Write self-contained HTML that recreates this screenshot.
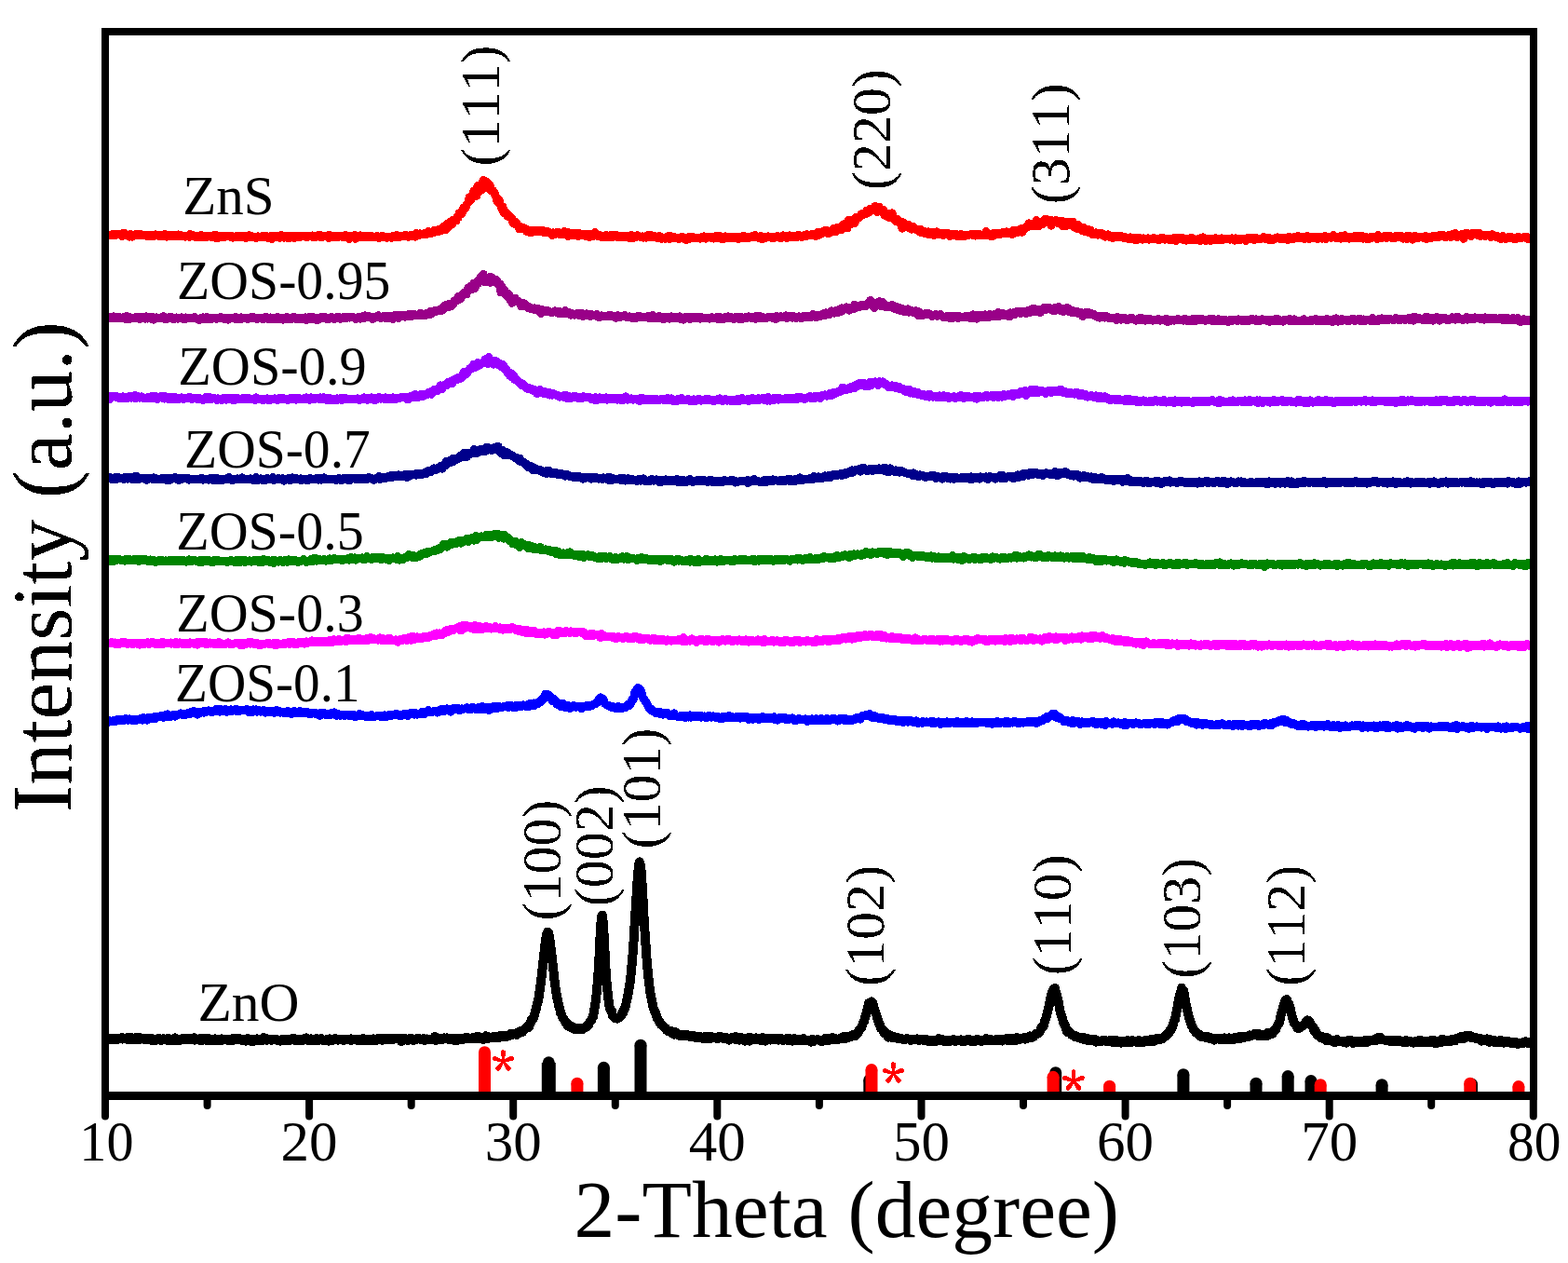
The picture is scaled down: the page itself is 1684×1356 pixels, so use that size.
<!DOCTYPE html>
<html><head><meta charset="utf-8"><title>XRD</title>
<style>html,body{margin:0;padding:0;background:#fff;overflow:hidden}svg{display:block}text{font-kerning:none}</style></head>
<body><svg width="1684" height="1356" viewBox="0 0 1684 1356" font-family="'Liberation Serif','Times New Roman',serif">
<rect width="1684" height="1356" fill="#fff"/>
<defs><filter id="bin" x="0" y="0" width="1684" height="1356" filterUnits="userSpaceOnUse" color-interpolation-filters="sRGB"><feComponentTransfer><feFuncA type="discrete" tableValues="0 1"/></feComponentTransfer></filter><clipPath id="pa"><rect x="113" y="34" width="1533.8" height="1142"/></clipPath></defs>
<g shape-rendering="crispEdges" clip-path="url(#pa)">
<polyline fill="none" stroke="#ff0000" stroke-width="9" stroke-linejoin="round" points="109,252.1 110,252.6 111,252.2 112,250.7 113,252.7 114,252.3 115,251.5 116,252.5 117,252.3 118,252.3 119,252.0 120,252.5 121,251.4 122,251.9 123,251.7 124,252.6 125,252.2 126,251.9 127,251.5 128,252.0 129,252.2 130,252.6 131,253.4 132,253.1 133,250.0 134,250.7 135,252.2 136,252.0 137,252.6 138,252.6 139,254.2 140,251.5 141,252.1 142,254.2 143,253.0 144,253.1 145,252.1 146,251.2 147,252.7 148,252.7 149,251.6 150,252.0 151,252.6 152,251.9 153,252.6 154,252.8 155,252.7 156,252.3 157,253.2 158,253.5 159,253.0 160,252.1 161,253.4 162,252.4 163,253.6 164,252.0 165,253.6 166,252.9 167,251.9 168,252.7 169,253.0 170,253.2 171,252.2 172,252.1 173,253.2 174,252.6 175,253.2 176,253.7 177,251.7 178,253.3 179,254.1 180,252.9 181,252.5 182,253.8 183,253.4 184,253.9 185,252.9 186,252.0 187,253.1 188,252.9 189,253.9 190,253.4 191,252.0 192,252.3 193,254.0 194,253.9 195,252.8 196,253.3 197,253.7 198,253.7 199,254.1 200,253.6 201,253.3 202,253.2 203,254.3 204,251.7 205,253.4 206,253.5 207,252.4 208,253.8 209,253.0 210,254.2 211,253.5 212,254.1 213,254.5 214,253.9 215,252.9 216,252.5 217,255.0 218,253.6 219,253.1 220,253.8 221,253.5 222,254.4 223,253.7 224,253.0 225,253.2 226,254.1 227,253.0 228,253.0 229,255.0 230,252.7 231,252.0 232,254.3 233,255.8 234,253.1 235,253.0 236,254.3 237,253.3 238,253.6 239,253.7 240,254.4 241,253.7 242,254.2 243,253.9 244,253.4 245,253.8 246,253.8 247,254.1 248,253.2 249,253.3 250,255.1 251,254.1 252,254.1 253,254.5 254,253.3 255,254.0 256,254.5 257,254.4 258,253.3 259,254.8 260,253.8 261,253.5 262,254.2 263,254.0 264,255.4 265,253.4 266,254.4 267,252.7 268,254.3 269,254.9 270,254.1 271,253.9 272,254.5 273,254.8 274,254.8 275,255.7 276,254.5 277,253.9 278,254.3 279,254.3 280,254.4 281,254.3 282,254.5 283,253.2 284,255.0 285,254.0 286,253.6 287,254.8 288,255.3 289,254.7 290,254.5 291,253.7 292,256.4 293,255.0 294,253.6 295,253.9 296,254.5 297,253.3 298,254.5 299,254.1 300,255.3 301,255.1 302,252.5 303,254.4 304,253.2 305,255.1 306,254.5 307,254.7 308,253.6 309,255.6 310,255.8 311,253.6 312,254.6 313,253.8 314,254.3 315,253.4 316,255.6 317,253.6 318,254.0 319,254.6 320,253.8 321,254.1 322,253.8 323,254.1 324,253.3 325,253.9 326,254.0 327,253.9 328,254.2 329,253.9 330,254.7 331,253.9 332,253.7 333,253.6 334,253.7 335,253.1 336,254.4 337,253.2 338,253.5 339,254.3 340,254.3 341,253.7 342,252.5 343,254.3 344,254.2 345,252.9 346,254.5 347,253.4 348,253.1 349,254.0 350,253.8 351,254.1 352,252.7 353,255.3 354,253.5 355,252.8 356,254.4 357,253.6 358,254.1 359,253.6 360,254.9 361,254.1 362,253.3 363,254.4 364,253.6 365,253.3 366,254.0 367,254.2 368,253.8 369,253.3 370,254.4 371,252.6 372,253.2 373,254.0 374,253.0 375,256.6 376,253.9 377,254.7 378,253.3 379,253.6 380,254.3 381,252.2 382,256.3 383,253.5 384,253.5 385,254.7 386,254.1 387,252.8 388,254.6 389,254.7 390,253.8 391,253.9 392,254.5 393,253.5 394,254.5 395,254.3 396,253.7 397,253.2 398,254.0 399,253.6 400,254.9 401,254.3 402,254.8 403,254.3 404,254.4 405,253.7 406,254.7 407,255.5 408,254.1 409,253.9 410,254.2 411,254.0 412,253.8 413,254.4 414,254.1 415,255.3 416,254.3 417,254.5 418,255.0 419,254.1 420,255.3 421,253.8 422,253.6 423,253.9 424,254.1 425,253.1 426,254.0 427,252.8 428,255.0 429,253.9 430,253.4 431,253.1 432,253.5 433,253.5 434,252.8 435,252.9 436,253.4 437,253.0 438,254.1 439,254.2 440,253.2 441,253.5 442,252.0 443,253.5 444,252.9 445,253.2 446,254.1 447,250.7 448,252.7 449,251.4 450,252.7 451,250.9 452,251.4 453,251.8 454,252.0 455,251.3 456,250.2 457,250.2 458,251.4 459,250.3 460,248.4 461,250.8 462,250.1 463,250.4 464,248.8 465,249.9 466,247.5 467,249.1 468,247.7 469,248.7 470,248.8 471,246.4 472,246.9 473,246.7 474,247.7 475,246.6 476,243.6 477,245.2 478,245.0 479,246.4 480,240.3 481,241.3 482,243.4 483,238.5 484,237.9 485,239.8 486,240.6 487,236.1 488,237.2 489,235.5 490,237.0 491,233.1 492,233.8 493,229.0 494,229.1 495,228.1 496,229.3 497,226.9 498,222.8 499,224.6 500,223.5 501,220.2 502,218.4 503,217.2 504,212.2 505,215.2 506,213.7 507,209.4 508,211.9 509,204.9 510,205.7 511,204.7 512,210.3 513,199.7 514,204.6 515,204.8 516,202.5 517,204.0 518,197.4 519,193.4 520,201.7 521,195.9 522,198.1 523,195.6 524,202.0 525,202.0 526,198.5 527,204.3 528,203.5 529,204.3 530,206.3 531,207.0 532,210.7 533,211.5 534,216.2 535,216.8 536,214.7 537,218.6 538,220.6 539,224.6 540,221.9 541,228.5 542,226.9 543,227.8 544,228.4 545,232.2 546,232.4 547,231.4 548,232.5 549,234.5 550,235.2 551,239.0 552,240.3 553,240.2 554,238.5 555,239.8 556,241.4 557,243.4 558,246.0 559,244.9 560,244.0 561,245.0 562,244.8 563,244.8 564,245.8 565,246.6 566,248.8 567,246.8 568,248.6 569,249.3 570,247.3 571,249.4 572,248.5 573,247.3 574,248.2 575,248.1 576,247.9 577,248.1 578,248.6 579,247.5 580,247.6 581,248.7 582,247.1 583,249.2 584,249.7 585,249.3 586,249.5 587,249.9 588,248.6 589,249.2 590,250.1 591,250.7 592,250.1 593,252.6 594,249.8 595,251.1 596,251.4 597,250.0 598,249.4 599,249.1 600,250.6 601,251.7 602,250.9 603,250.8 604,250.3 605,251.4 606,248.7 607,251.2 608,251.1 609,249.7 610,253.4 611,249.9 612,250.3 613,250.2 614,252.6 615,250.7 616,252.3 617,252.2 618,252.0 619,250.5 620,251.3 621,253.5 622,250.7 623,251.2 624,251.9 625,252.9 626,252.4 627,253.0 628,251.3 629,253.3 630,253.0 631,251.4 632,254.0 633,254.7 634,251.9 635,252.7 636,254.0 637,251.4 638,251.0 639,249.5 640,252.4 641,252.4 642,253.5 643,253.3 644,252.5 645,253.6 646,254.8 647,254.3 648,254.1 649,253.3 650,254.2 651,252.5 652,254.1 653,253.4 654,254.4 655,253.9 656,252.6 657,253.7 658,254.6 659,252.7 660,253.2 661,253.0 662,252.5 663,254.6 664,254.9 665,254.5 666,254.0 667,253.8 668,254.1 669,253.3 670,254.7 671,254.8 672,254.7 673,253.6 674,254.1 675,253.9 676,255.5 677,254.2 678,252.6 679,254.5 680,255.7 681,254.8 682,254.9 683,254.3 684,252.7 685,252.9 686,253.3 687,254.2 688,254.6 689,254.9 690,254.1 691,255.2 692,254.2 693,253.9 694,255.2 695,253.8 696,252.4 697,253.8 698,254.7 699,252.3 700,254.4 701,254.4 702,253.6 703,253.6 704,254.4 705,254.3 706,255.7 707,255.1 708,253.6 709,254.2 710,255.4 711,256.3 712,255.2 713,255.2 714,256.3 715,254.9 716,254.7 717,254.0 718,253.3 719,256.6 720,253.5 721,255.1 722,254.1 723,255.2 724,255.8 725,255.0 726,255.7 727,255.7 728,255.5 729,256.4 730,255.8 731,255.0 732,254.7 733,254.6 734,255.6 735,255.0 736,257.2 737,257.6 738,255.1 739,255.1 740,256.5 741,254.0 742,255.0 743,256.0 744,254.7 745,255.0 746,255.1 747,255.8 748,255.5 749,255.7 750,255.8 751,255.4 752,256.2 753,254.9 754,254.4 755,254.2 756,253.9 757,255.0 758,256.1 759,255.5 760,255.0 761,254.6 762,255.0 763,255.1 764,255.0 765,254.4 766,255.1 767,256.1 768,253.9 769,255.2 770,253.9 771,255.5 772,254.8 773,253.4 774,255.4 775,256.6 776,255.4 777,256.2 778,255.3 779,253.8 780,255.7 781,255.0 782,254.3 783,255.9 784,255.5 785,254.9 786,255.9 787,254.7 788,255.7 789,254.6 790,255.6 791,254.5 792,256.3 793,255.4 794,256.2 795,254.6 796,254.9 797,255.8 798,253.2 799,254.4 800,255.9 801,255.5 802,255.8 803,254.9 804,255.5 805,254.6 806,254.1 807,253.8 808,254.6 809,254.7 810,254.6 811,252.4 812,253.5 813,254.6 814,255.2 815,254.5 816,254.3 817,253.2 818,256.4 819,254.1 820,256.1 821,256.0 822,255.0 823,254.4 824,254.9 825,253.9 826,254.9 827,254.7 828,255.1 829,255.4 830,256.0 831,254.4 832,254.5 833,254.0 834,253.9 835,254.1 836,253.8 837,255.3 838,255.2 839,255.5 840,254.4 841,252.9 842,253.9 843,253.5 844,254.7 845,255.6 846,253.4 847,254.7 848,252.9 849,254.1 850,253.7 851,253.7 852,253.3 853,254.9 854,254.5 855,255.0 856,254.0 857,252.8 858,253.5 859,252.7 860,254.0 861,254.6 862,253.7 863,252.8 864,252.9 865,253.3 866,251.7 867,253.1 868,253.0 869,252.2 870,252.2 871,252.6 872,251.5 873,251.4 874,252.8 875,252.1 876,253.4 877,250.6 878,249.6 879,252.2 880,252.1 881,250.1 882,249.2 883,250.5 884,248.2 885,249.8 886,247.6 887,249.5 888,247.2 889,249.1 890,250.8 891,248.5 892,249.4 893,247.4 894,247.4 895,245.6 896,248.4 897,246.7 898,248.5 899,244.4 900,245.3 901,245.2 902,246.7 903,246.8 904,242.9 905,241.8 906,240.7 907,244.5 908,242.0 909,240.6 910,244.9 911,236.6 912,237.3 913,240.9 914,239.5 915,238.5 916,235.9 917,237.9 918,239.4 919,233.4 920,235.0 921,233.5 922,234.3 923,233.0 924,232.0 925,230.0 926,231.0 927,229.2 928,229.4 929,228.8 930,229.5 931,226.1 932,225.9 933,228.1 934,224.7 935,224.0 936,226.0 937,224.5 938,224.0 939,224.3 940,221.3 941,225.2 942,227.3 943,226.1 944,222.0 945,226.3 946,224.4 947,226.3 948,227.6 949,225.5 950,231.2 951,229.0 952,231.2 953,231.4 954,233.3 955,233.5 956,229.0 957,232.4 958,228.9 959,232.6 960,235.3 961,236.2 962,237.4 963,235.1 964,236.9 965,237.1 966,239.6 967,240.6 968,238.0 969,245.1 970,239.6 971,239.6 972,241.6 973,242.3 974,242.5 975,241.2 976,244.8 977,243.3 978,245.8 979,246.1 980,243.0 981,243.9 982,244.3 983,246.3 984,246.5 985,247.1 986,246.2 987,247.9 988,249.3 989,246.5 990,248.0 991,248.7 992,248.5 993,248.6 994,250.9 995,250.5 996,250.2 997,248.8 998,251.9 999,250.2 1000,249.5 1001,249.9 1002,249.9 1003,252.4 1004,250.8 1005,250.8 1006,248.9 1007,251.6 1008,250.1 1009,250.1 1010,251.8 1011,250.6 1012,252.1 1013,252.4 1014,250.1 1015,251.5 1016,250.4 1017,251.7 1018,251.5 1019,250.8 1020,253.4 1021,251.8 1022,251.2 1023,252.1 1024,252.8 1025,251.2 1026,252.3 1027,251.4 1028,253.3 1029,252.6 1030,252.2 1031,253.3 1032,251.6 1033,252.3 1034,254.0 1035,252.5 1036,253.6 1037,252.7 1038,252.0 1039,252.4 1040,252.6 1041,252.2 1042,251.9 1043,251.9 1044,251.3 1045,252.5 1046,252.7 1047,253.0 1048,251.0 1049,253.0 1050,252.3 1051,251.1 1052,252.3 1053,252.9 1054,252.6 1055,252.7 1056,252.9 1057,252.8 1058,252.0 1059,248.4 1060,251.3 1061,252.2 1062,251.4 1063,251.4 1064,253.3 1065,251.7 1066,253.3 1067,250.7 1068,252.3 1069,251.0 1070,250.7 1071,251.9 1072,250.7 1073,252.0 1074,250.0 1075,251.0 1076,250.0 1077,250.5 1078,250.3 1079,249.4 1080,251.0 1081,248.9 1082,249.1 1083,250.9 1084,250.8 1085,250.3 1086,249.8 1087,251.7 1088,247.7 1089,248.0 1090,247.5 1091,249.5 1092,248.6 1093,249.3 1094,249.0 1095,247.2 1096,246.2 1097,245.6 1098,249.3 1099,247.3 1100,246.4 1101,244.7 1102,244.4 1103,243.8 1104,243.3 1105,239.9 1106,242.8 1107,241.9 1108,242.6 1109,242.1 1110,242.8 1111,241.1 1112,242.2 1113,236.6 1114,238.7 1115,243.0 1116,238.0 1117,239.3 1118,240.7 1119,237.8 1120,240.3 1121,236.5 1122,235.5 1123,236.3 1124,235.5 1125,238.2 1126,237.5 1127,238.5 1128,236.0 1129,242.1 1130,237.5 1131,237.5 1132,238.4 1133,237.2 1134,236.5 1135,237.9 1136,239.4 1137,239.2 1138,239.8 1139,237.5 1140,237.4 1141,242.4 1142,238.9 1143,240.4 1144,241.1 1145,242.6 1146,238.3 1147,240.1 1148,240.5 1149,241.1 1150,238.1 1151,242.0 1152,238.0 1153,243.3 1154,244.0 1155,244.5 1156,242.2 1157,245.8 1158,241.4 1159,244.4 1160,244.2 1161,244.8 1162,246.6 1163,247.9 1164,244.3 1165,246.7 1166,248.9 1167,248.2 1168,248.9 1169,246.6 1170,250.0 1171,247.1 1172,249.5 1173,251.2 1174,252.0 1175,251.4 1176,251.3 1177,249.8 1178,250.1 1179,252.2 1180,251.1 1181,251.2 1182,250.0 1183,251.9 1184,252.6 1185,251.3 1186,251.8 1187,254.1 1188,252.9 1189,252.6 1190,251.9 1191,252.6 1192,253.1 1193,254.8 1194,253.0 1195,255.5 1196,253.0 1197,253.6 1198,254.9 1199,254.0 1200,253.6 1201,254.3 1202,254.9 1203,253.1 1204,254.5 1205,254.7 1206,254.6 1207,255.7 1208,254.6 1209,254.9 1210,255.3 1211,256.0 1212,255.3 1213,256.8 1214,254.9 1215,256.7 1216,255.1 1217,255.7 1218,256.2 1219,257.6 1220,256.7 1221,255.7 1222,257.1 1223,256.0 1224,255.6 1225,256.5 1226,256.3 1227,257.0 1228,255.8 1229,256.6 1230,256.8 1231,256.5 1232,256.3 1233,255.8 1234,257.0 1235,256.5 1236,256.8 1237,256.1 1238,256.4 1239,255.7 1240,256.5 1241,257.0 1242,256.5 1243,257.1 1244,256.7 1245,257.5 1246,256.9 1247,255.3 1248,256.9 1249,256.4 1250,255.9 1251,257.1 1252,256.8 1253,256.9 1254,256.4 1255,256.8 1256,256.8 1257,257.9 1258,256.2 1259,256.7 1260,257.0 1261,255.5 1262,255.6 1263,258.3 1264,255.5 1265,257.2 1266,256.1 1267,256.2 1268,255.4 1269,256.1 1270,257.3 1271,255.8 1272,257.2 1273,257.0 1274,258.2 1275,256.5 1276,257.7 1277,257.5 1278,256.6 1279,255.7 1280,257.9 1281,255.9 1282,256.5 1283,257.5 1284,257.6 1285,257.4 1286,256.9 1287,256.7 1288,257.7 1289,258.6 1290,255.6 1291,257.5 1292,254.9 1293,256.9 1294,256.1 1295,258.3 1296,257.6 1297,256.4 1298,256.5 1299,256.5 1300,258.5 1301,256.8 1302,257.4 1303,258.0 1304,257.4 1305,256.0 1306,255.8 1307,257.3 1308,257.6 1309,256.6 1310,256.4 1311,257.0 1312,255.9 1313,256.0 1314,257.2 1315,256.6 1316,256.5 1317,257.0 1318,256.4 1319,256.3 1320,256.5 1321,257.2 1322,256.8 1323,255.9 1324,256.5 1325,257.2 1326,258.1 1327,255.9 1328,256.9 1329,256.4 1330,257.2 1331,257.0 1332,257.7 1333,257.0 1334,256.2 1335,256.2 1336,256.8 1337,256.8 1338,258.3 1339,257.7 1340,255.6 1341,256.7 1342,255.4 1343,255.2 1344,256.9 1345,256.8 1346,255.6 1347,257.6 1348,255.6 1349,255.4 1350,256.8 1351,256.4 1352,256.1 1353,256.1 1354,256.3 1355,256.0 1356,256.1 1357,254.6 1358,255.0 1359,256.5 1360,255.5 1361,256.4 1362,257.0 1363,255.7 1364,256.2 1365,257.6 1366,256.3 1367,257.3 1368,257.1 1369,256.4 1370,255.7 1371,255.1 1372,254.9 1373,256.1 1374,256.1 1375,255.6 1376,256.4 1377,255.2 1378,256.5 1379,255.6 1380,255.6 1381,255.6 1382,255.5 1383,257.6 1384,254.2 1385,255.6 1386,256.5 1387,256.0 1388,255.5 1389,256.8 1390,254.5 1391,254.3 1392,255.8 1393,254.1 1394,253.3 1395,256.0 1396,255.9 1397,255.9 1398,254.8 1399,255.4 1400,254.4 1401,256.6 1402,255.8 1403,255.8 1404,253.5 1405,255.8 1406,256.4 1407,256.1 1408,254.0 1409,255.0 1410,254.7 1411,255.5 1412,255.3 1413,255.2 1414,254.7 1415,256.4 1416,254.0 1417,254.9 1418,254.4 1419,255.8 1420,256.1 1421,256.0 1422,255.6 1423,253.7 1424,256.7 1425,255.3 1426,254.8 1427,254.9 1428,254.6 1429,255.2 1430,255.1 1431,254.5 1432,252.6 1433,254.8 1434,255.2 1435,255.3 1436,254.7 1437,255.2 1438,255.7 1439,254.4 1440,256.1 1441,253.1 1442,253.7 1443,254.0 1444,252.7 1445,253.9 1446,255.8 1447,255.8 1448,254.9 1449,256.2 1450,255.0 1451,254.3 1452,255.0 1453,254.6 1454,255.4 1455,253.5 1456,255.6 1457,254.4 1458,255.5 1459,253.4 1460,254.4 1461,254.8 1462,255.5 1463,253.7 1464,256.1 1465,255.1 1466,254.3 1467,256.2 1468,254.8 1469,255.7 1470,256.7 1471,255.4 1472,254.3 1473,254.4 1474,255.2 1475,254.9 1476,254.0 1477,254.1 1478,255.2 1479,256.6 1480,252.5 1481,255.3 1482,254.5 1483,255.3 1484,255.4 1485,254.7 1486,253.8 1487,253.5 1488,253.2 1489,255.7 1490,254.5 1491,254.2 1492,254.6 1493,253.6 1494,254.9 1495,255.7 1496,255.6 1497,255.0 1498,255.8 1499,254.0 1500,253.1 1501,253.6 1502,253.8 1503,254.6 1504,253.8 1505,253.4 1506,254.4 1507,256.2 1508,254.0 1509,255.0 1510,254.7 1511,256.8 1512,253.0 1513,255.5 1514,253.5 1515,254.1 1516,254.5 1517,257.1 1518,253.9 1519,253.4 1520,255.6 1521,253.9 1522,255.8 1523,254.5 1524,254.6 1525,254.4 1526,254.7 1527,254.2 1528,255.2 1529,254.1 1530,253.9 1531,253.6 1532,256.4 1533,254.4 1534,254.9 1535,254.9 1536,255.8 1537,254.6 1538,255.0 1539,253.4 1540,253.5 1541,254.1 1542,253.4 1543,254.9 1544,253.2 1545,254.3 1546,252.2 1547,253.2 1548,253.8 1549,253.8 1550,252.4 1551,254.0 1552,254.6 1553,254.3 1554,253.1 1555,253.0 1556,252.4 1557,253.9 1558,254.6 1559,252.7 1560,251.5 1561,253.2 1562,253.6 1563,250.3 1564,252.9 1565,254.7 1566,253.4 1567,253.0 1568,252.8 1569,253.4 1570,251.4 1571,251.4 1572,256.3 1573,251.4 1574,252.3 1575,250.1 1576,252.7 1577,252.8 1578,252.0 1579,252.1 1580,253.5 1581,250.8 1582,251.0 1583,250.8 1584,251.5 1585,251.0 1586,252.1 1587,251.5 1588,250.7 1589,250.7 1590,253.5 1591,252.3 1592,252.2 1593,252.6 1594,252.5 1595,253.4 1596,253.3 1597,252.3 1598,252.2 1599,252.1 1600,252.1 1601,254.6 1602,252.6 1603,251.7 1604,252.9 1605,253.0 1606,254.1 1607,253.1 1608,254.5 1609,254.4 1610,255.3 1611,256.1 1612,256.7 1613,255.6 1614,253.6 1615,254.3 1616,254.9 1617,256.4 1618,255.3 1619,255.8 1620,254.8 1621,255.4 1622,255.5 1623,254.7 1624,255.7 1625,256.2 1626,255.0 1627,255.9 1628,256.4 1629,254.7 1630,255.3 1631,255.1 1632,254.9 1633,255.5 1634,255.1 1635,255.2 1636,254.9 1637,254.4 1638,254.9 1639,255.8 1640,254.7 1641,255.1 1642,256.8 1643,256.4 1644,255.2 1645,256.1 1646,255.2 1647,256.8 1648,255.3 1649,255.8 1650,256.7"/>
<polyline fill="none" stroke="#990088" stroke-width="9" stroke-linejoin="round" points="109,340.9 110,340.4 111,340.5 112,338.9 113,342.2 114,341.7 115,340.6 116,341.4 117,341.1 118,340.4 119,341.6 120,340.7 121,340.7 122,339.8 123,341.3 124,340.9 125,341.4 126,340.5 127,341.1 128,340.3 129,341.6 130,342.0 131,341.3 132,341.3 133,340.3 134,342.1 135,342.6 136,339.8 137,339.8 138,340.0 139,342.5 140,341.2 141,341.9 142,341.7 143,341.3 144,341.4 145,341.0 146,341.8 147,340.3 148,340.9 149,341.4 150,342.5 151,340.7 152,340.4 153,340.8 154,342.0 155,341.1 156,342.2 157,339.9 158,342.1 159,342.1 160,340.3 161,341.4 162,342.2 163,341.4 164,340.5 165,343.1 166,341.5 167,341.1 168,340.8 169,341.8 170,341.2 171,341.3 172,341.3 173,341.9 174,340.6 175,340.3 176,339.7 177,342.3 178,341.5 179,342.5 180,341.4 181,340.9 182,341.8 183,341.4 184,340.6 185,340.8 186,342.8 187,341.7 188,341.8 189,341.3 190,341.0 191,342.2 192,341.4 193,341.0 194,341.4 195,340.9 196,341.7 197,342.4 198,341.0 199,342.6 200,341.1 201,341.7 202,341.0 203,341.4 204,341.6 205,341.3 206,341.1 207,341.1 208,341.0 209,340.5 210,341.4 211,341.9 212,342.3 213,342.1 214,343.4 215,341.9 216,341.3 217,343.0 218,340.9 219,342.3 220,341.0 221,341.9 222,340.3 223,342.3 224,341.6 225,341.0 226,342.9 227,342.2 228,341.7 229,341.2 230,341.7 231,341.6 232,342.2 233,342.3 234,341.2 235,341.3 236,341.3 237,340.7 238,341.3 239,341.6 240,342.2 241,342.6 242,341.1 243,342.1 244,341.4 245,343.2 246,341.7 247,342.1 248,341.1 249,341.2 250,341.9 251,341.5 252,342.0 253,340.6 254,342.2 255,341.1 256,343.0 257,341.5 258,342.5 259,340.8 260,342.1 261,341.1 262,341.4 263,341.8 264,341.5 265,341.9 266,342.3 267,342.2 268,341.7 269,340.8 270,341.2 271,341.6 272,340.3 273,341.8 274,341.6 275,341.6 276,342.4 277,342.2 278,341.9 279,341.1 280,342.0 281,342.0 282,341.2 283,342.5 284,342.1 285,340.4 286,341.9 287,340.9 288,342.6 289,342.4 290,341.0 291,341.3 292,341.9 293,341.6 294,342.9 295,342.5 296,341.6 297,342.2 298,340.4 299,342.0 300,342.4 301,341.7 302,341.3 303,342.2 304,343.2 305,341.9 306,341.0 307,342.8 308,340.5 309,342.1 310,341.4 311,342.4 312,341.2 313,342.7 314,342.1 315,340.6 316,340.4 317,341.6 318,342.7 319,341.9 320,341.8 321,341.6 322,342.3 323,342.1 324,342.0 325,341.1 326,342.6 327,342.8 328,340.9 329,343.4 330,342.3 331,341.5 332,340.5 333,342.3 334,342.2 335,341.4 336,340.5 337,342.6 338,341.4 339,341.5 340,343.8 341,343.3 342,342.5 343,341.5 344,342.3 345,340.2 346,341.9 347,341.3 348,340.9 349,340.7 350,342.1 351,341.8 352,341.9 353,342.3 354,341.1 355,340.8 356,340.4 357,341.5 358,342.2 359,341.6 360,342.1 361,340.8 362,341.3 363,341.0 364,340.7 365,342.3 366,342.2 367,341.0 368,340.9 369,341.4 370,340.4 371,341.7 372,340.5 373,341.1 374,340.6 375,341.0 376,341.0 377,340.1 378,340.5 379,340.7 380,341.0 381,341.2 382,342.3 383,341.7 384,340.9 385,341.6 386,340.5 387,342.1 388,341.4 389,339.9 390,342.0 391,341.5 392,338.8 393,340.2 394,340.4 395,339.2 396,339.9 397,339.9 398,341.2 399,340.8 400,342.6 401,340.2 402,341.4 403,340.5 404,340.6 405,339.4 406,338.8 407,339.7 408,340.9 409,341.5 410,340.7 411,340.5 412,339.4 413,341.3 414,341.1 415,339.6 416,341.1 417,339.1 418,341.1 419,340.2 420,339.7 421,340.1 422,342.4 423,339.3 424,338.6 425,338.5 426,338.1 427,339.9 428,341.4 429,338.0 430,339.5 431,339.7 432,338.4 433,339.4 434,338.2 435,340.2 436,338.5 437,339.1 438,339.5 439,338.5 440,337.2 441,338.2 442,339.3 443,338.5 444,338.7 445,337.4 446,338.5 447,338.9 448,338.2 449,338.4 450,338.7 451,336.7 452,336.2 453,338.7 454,337.3 455,338.2 456,337.5 457,338.5 458,338.0 459,336.1 460,336.6 461,337.2 462,334.6 463,337.2 464,336.7 465,334.3 466,334.6 467,334.9 468,333.1 469,334.1 470,333.1 471,333.6 472,332.6 473,333.1 474,333.8 475,330.4 476,332.7 477,328.7 478,327.9 479,330.0 480,329.7 481,329.8 482,326.4 483,328.0 484,327.6 485,328.6 486,326.0 487,326.1 488,323.0 489,323.3 490,321.9 491,322.7 492,319.0 493,318.2 494,319.6 495,320.7 496,317.4 497,316.3 498,314.3 499,316.1 500,314.3 501,315.8 502,312.4 503,309.1 504,309.1 505,307.5 506,310.3 507,310.5 508,308.9 509,304.0 510,309.5 511,305.7 512,302.6 513,304.8 514,303.1 515,300.9 516,297.7 517,301.2 518,301.2 519,294.3 520,300.8 521,303.0 522,298.2 523,299.5 524,298.8 525,297.8 526,299.2 527,303.3 528,297.7 529,301.8 530,302.3 531,300.9 532,302.1 533,300.7 534,302.4 535,304.9 536,306.4 537,304.8 538,313.9 539,307.8 540,310.4 541,311.0 542,311.9 543,316.3 544,314.3 545,318.7 546,319.4 547,316.7 548,322.5 549,319.1 550,325.3 551,321.0 552,320.8 553,320.0 554,321.7 555,323.4 556,323.4 557,323.7 558,325.0 559,326.2 560,329.0 561,325.1 562,327.1 563,327.0 564,326.7 565,327.4 566,328.3 567,330.7 568,329.9 569,329.8 570,331.5 571,331.4 572,331.0 573,332.0 574,330.8 575,332.8 576,332.8 577,332.0 578,331.2 579,334.5 580,333.1 581,336.6 582,332.6 583,334.4 584,333.1 585,334.0 586,334.8 587,333.1 588,334.0 589,334.5 590,334.5 591,335.2 592,335.7 593,335.6 594,335.2 595,334.6 596,333.9 597,334.4 598,334.7 599,336.1 600,335.1 601,334.3 602,336.3 603,335.0 604,335.1 605,335.7 606,336.5 607,333.7 608,335.1 609,336.5 610,336.1 611,335.7 612,336.1 613,338.1 614,336.4 615,337.6 616,337.7 617,338.2 618,337.6 619,336.8 620,336.7 621,336.4 622,338.3 623,337.2 624,337.2 625,336.7 626,339.5 627,338.6 628,337.9 629,337.4 630,336.8 631,338.5 632,338.6 633,337.1 634,339.5 635,339.2 636,337.8 637,338.2 638,338.4 639,338.9 640,338.7 641,337.5 642,340.2 643,339.3 644,340.2 645,340.2 646,339.0 647,339.6 648,339.9 649,340.0 650,339.3 651,339.0 652,339.5 653,338.9 654,339.1 655,338.0 656,339.7 657,338.9 658,339.3 659,339.7 660,340.1 661,341.3 662,340.0 663,338.7 664,340.0 665,339.5 666,340.3 667,339.4 668,339.4 669,339.6 670,339.6 671,338.6 672,339.6 673,340.1 674,341.1 675,340.0 676,339.9 677,340.7 678,340.7 679,341.5 680,340.8 681,340.3 682,341.4 683,341.5 684,340.0 685,340.0 686,339.2 687,340.2 688,339.8 689,340.3 690,340.2 691,340.4 692,340.5 693,341.0 694,340.8 695,340.2 696,339.7 697,341.6 698,341.7 699,340.4 700,341.1 701,338.4 702,339.6 703,340.6 704,341.9 705,340.0 706,340.2 707,342.0 708,339.5 709,341.3 710,341.2 711,340.8 712,341.1 713,342.8 714,340.1 715,340.7 716,341.1 717,340.5 718,340.0 719,342.2 720,341.2 721,339.8 722,340.6 723,341.4 724,341.4 725,340.1 726,341.0 727,341.3 728,341.4 729,341.4 730,339.9 731,342.5 732,341.3 733,342.5 734,343.2 735,341.1 736,340.3 737,341.8 738,341.1 739,340.9 740,340.5 741,342.4 742,340.9 743,340.3 744,340.9 745,340.5 746,341.4 747,341.0 748,340.5 749,341.7 750,340.8 751,341.8 752,342.2 753,341.0 754,340.8 755,341.4 756,341.9 757,341.3 758,341.4 759,341.3 760,341.5 761,341.7 762,342.1 763,341.0 764,341.3 765,340.8 766,341.4 767,341.7 768,341.3 769,340.9 770,340.7 771,342.5 772,341.9 773,340.5 774,340.7 775,342.6 776,342.3 777,341.4 778,342.1 779,340.2 780,341.3 781,341.8 782,339.9 783,340.7 784,341.8 785,342.0 786,340.8 787,341.4 788,342.4 789,341.0 790,340.3 791,341.2 792,340.9 793,342.1 794,341.3 795,340.6 796,342.9 797,340.8 798,341.5 799,341.6 800,341.7 801,340.7 802,341.6 803,341.1 804,340.1 805,341.0 806,341.0 807,341.0 808,341.2 809,340.6 810,342.0 811,342.2 812,339.5 813,341.1 814,340.5 815,339.2 816,341.3 817,340.6 818,340.7 819,340.5 820,341.8 821,341.9 822,341.2 823,341.5 824,340.9 825,341.0 826,340.4 827,340.9 828,340.4 829,341.2 830,341.5 831,341.1 832,341.7 833,342.8 834,339.3 835,340.8 836,340.4 837,340.5 838,339.8 839,340.8 840,340.6 841,340.3 842,340.5 843,340.3 844,338.9 845,341.5 846,340.4 847,339.9 848,340.9 849,340.1 850,339.0 851,341.2 852,339.3 853,340.4 854,340.6 855,341.5 856,341.3 857,340.5 858,339.8 859,340.0 860,341.4 861,341.6 862,340.6 863,339.6 864,340.9 865,339.7 866,339.6 867,339.6 868,340.3 869,339.9 870,340.4 871,340.6 872,339.9 873,337.5 874,337.9 875,339.4 876,339.1 877,340.8 878,338.8 879,338.6 880,339.4 881,339.4 882,338.0 883,338.5 884,336.8 885,336.8 886,338.7 887,335.9 888,338.0 889,337.5 890,337.4 891,337.3 892,336.8 893,333.8 894,334.7 895,334.9 896,336.2 897,333.8 898,334.0 899,334.1 900,335.7 901,332.4 902,332.3 903,334.3 904,330.9 905,333.5 906,332.3 907,330.8 908,331.9 909,329.8 910,332.1 911,332.1 912,333.2 913,331.1 914,331.0 915,329.8 916,330.2 917,331.3 918,327.2 919,330.3 920,328.4 921,329.0 922,329.1 923,329.6 924,328.6 925,327.5 926,328.3 927,327.8 928,327.3 929,327.7 930,328.5 931,327.4 932,327.3 933,325.1 934,326.6 935,322.3 936,327.6 937,325.1 938,328.2 939,330.6 940,325.7 941,328.1 942,326.8 943,325.4 944,323.7 945,327.1 946,328.4 947,327.1 948,324.7 949,325.6 950,327.0 951,329.4 952,328.2 953,328.6 954,330.0 955,328.4 956,328.9 957,329.1 958,327.3 959,330.5 960,330.7 961,331.6 962,329.1 963,329.9 964,332.3 965,331.8 966,333.3 967,330.8 968,332.4 969,331.6 970,334.1 971,332.3 972,333.7 973,334.6 974,334.4 975,331.8 976,335.1 977,334.8 978,333.4 979,333.7 980,334.9 981,335.6 982,334.8 983,333.7 984,335.9 985,335.9 986,338.4 987,334.8 988,338.7 989,338.1 990,336.9 991,338.4 992,337.1 993,338.0 994,336.6 995,337.5 996,336.7 997,336.3 998,337.7 999,337.5 1000,338.7 1001,339.4 1002,338.3 1003,338.6 1004,338.8 1005,337.4 1006,339.1 1007,339.0 1008,339.0 1009,338.3 1010,337.7 1011,339.1 1012,339.6 1013,340.5 1014,340.4 1015,340.7 1016,339.9 1017,340.6 1018,339.6 1019,340.3 1020,340.6 1021,342.0 1022,340.2 1023,339.1 1024,341.1 1025,339.6 1026,340.2 1027,340.0 1028,339.6 1029,341.3 1030,340.8 1031,339.9 1032,340.4 1033,340.1 1034,340.8 1035,340.1 1036,339.8 1037,339.9 1038,340.1 1039,340.6 1040,339.7 1041,340.2 1042,340.6 1043,342.0 1044,340.8 1045,337.9 1046,339.7 1047,339.7 1048,340.2 1049,342.2 1050,340.4 1051,338.0 1052,340.0 1053,338.4 1054,339.9 1055,340.6 1056,338.5 1057,340.3 1058,337.9 1059,339.2 1060,339.4 1061,341.0 1062,338.3 1063,337.4 1064,339.4 1065,338.1 1066,340.0 1067,337.9 1068,337.7 1069,339.5 1070,338.4 1071,339.1 1072,335.5 1073,339.6 1074,337.4 1075,338.6 1076,336.8 1077,336.2 1078,337.3 1079,337.6 1080,338.9 1081,337.6 1082,337.8 1083,337.7 1084,340.0 1085,335.9 1086,337.9 1087,336.4 1088,336.7 1089,335.7 1090,337.4 1091,334.7 1092,334.5 1093,335.5 1094,334.4 1095,336.3 1096,336.4 1097,334.4 1098,336.0 1099,334.3 1100,334.9 1101,334.8 1102,336.8 1103,334.6 1104,333.4 1105,333.3 1106,335.7 1107,332.2 1108,333.5 1109,333.5 1110,331.0 1111,333.3 1112,334.9 1113,333.9 1114,332.4 1115,334.3 1116,334.0 1117,335.7 1118,332.2 1119,332.6 1120,333.0 1121,330.5 1122,332.9 1123,332.6 1124,331.8 1125,330.5 1126,331.8 1127,330.6 1128,331.0 1129,331.6 1130,332.9 1131,333.3 1132,330.9 1133,332.6 1134,333.2 1135,332.1 1136,330.1 1137,329.5 1138,333.3 1139,333.6 1140,332.8 1141,331.2 1142,334.5 1143,334.3 1144,332.8 1145,332.7 1146,330.7 1147,334.3 1148,331.4 1149,334.5 1150,334.7 1151,334.0 1152,336.0 1153,333.9 1154,335.1 1155,335.5 1156,335.0 1157,334.4 1158,336.5 1159,335.7 1160,335.1 1161,335.4 1162,335.9 1163,339.7 1164,336.3 1165,336.1 1166,335.4 1167,335.5 1168,335.0 1169,337.6 1170,337.6 1171,336.7 1172,336.5 1173,338.0 1174,338.0 1175,337.4 1176,339.3 1177,339.3 1178,339.3 1179,340.3 1180,339.1 1181,341.2 1182,339.1 1183,340.7 1184,341.0 1185,340.3 1186,340.9 1187,339.5 1188,339.4 1189,340.7 1190,340.3 1191,341.6 1192,341.2 1193,341.8 1194,341.6 1195,341.6 1196,341.5 1197,341.2 1198,341.2 1199,343.4 1200,340.3 1201,341.7 1202,342.8 1203,342.4 1204,343.2 1205,342.6 1206,341.2 1207,342.0 1208,341.2 1209,343.2 1210,343.6 1211,342.2 1212,343.0 1213,342.3 1214,341.6 1215,342.4 1216,341.6 1217,342.4 1218,343.1 1219,343.5 1220,344.0 1221,342.8 1222,343.3 1223,343.5 1224,343.6 1225,341.1 1226,342.7 1227,343.9 1228,342.5 1229,343.6 1230,344.0 1231,342.0 1232,343.3 1233,343.6 1234,343.5 1235,342.4 1236,343.8 1237,343.1 1238,344.1 1239,343.9 1240,343.8 1241,343.7 1242,343.1 1243,343.1 1244,342.4 1245,343.4 1246,344.2 1247,343.7 1248,343.6 1249,343.1 1250,343.2 1251,344.1 1252,342.5 1253,345.1 1254,342.8 1255,345.2 1256,344.5 1257,343.3 1258,344.2 1259,343.8 1260,344.0 1261,344.2 1262,343.2 1263,343.2 1264,343.3 1265,342.7 1266,343.5 1267,343.8 1268,343.8 1269,343.8 1270,343.4 1271,344.2 1272,342.2 1273,343.4 1274,343.4 1275,344.3 1276,344.2 1277,344.3 1278,343.7 1279,344.4 1280,343.0 1281,343.7 1282,342.2 1283,344.9 1284,344.8 1285,343.3 1286,343.0 1287,342.2 1288,342.6 1289,343.8 1290,343.6 1291,342.7 1292,343.4 1293,343.3 1294,344.1 1295,344.2 1296,343.6 1297,343.8 1298,343.7 1299,342.3 1300,343.9 1301,343.7 1302,344.3 1303,342.5 1304,344.3 1305,343.3 1306,344.0 1307,344.6 1308,342.7 1309,342.9 1310,344.5 1311,343.0 1312,343.1 1313,344.2 1314,343.7 1315,344.4 1316,344.0 1317,343.8 1318,344.5 1319,345.4 1320,343.7 1321,344.9 1322,344.6 1323,343.9 1324,344.1 1325,343.2 1326,343.4 1327,344.0 1328,343.8 1329,344.8 1330,342.9 1331,343.6 1332,343.4 1333,343.7 1334,344.7 1335,343.0 1336,344.4 1337,343.4 1338,343.6 1339,344.6 1340,343.7 1341,344.3 1342,343.9 1343,343.0 1344,343.6 1345,342.7 1346,343.3 1347,344.0 1348,344.0 1349,342.8 1350,344.6 1351,344.3 1352,343.0 1353,343.2 1354,344.2 1355,342.7 1356,343.4 1357,343.9 1358,343.8 1359,343.9 1360,344.2 1361,343.3 1362,343.6 1363,345.3 1364,343.0 1365,343.6 1366,344.0 1367,343.5 1368,344.8 1369,344.0 1370,344.4 1371,342.1 1372,344.7 1373,344.7 1374,343.4 1375,344.8 1376,344.1 1377,344.6 1378,345.2 1379,344.0 1380,343.2 1381,343.9 1382,343.0 1383,343.4 1384,343.4 1385,342.5 1386,344.7 1387,344.5 1388,343.3 1389,344.7 1390,342.8 1391,343.5 1392,343.8 1393,344.8 1394,344.5 1395,344.3 1396,344.9 1397,344.4 1398,344.9 1399,343.4 1400,342.8 1401,343.7 1402,344.5 1403,344.1 1404,344.6 1405,344.4 1406,344.3 1407,344.5 1408,343.4 1409,344.7 1410,343.2 1411,343.9 1412,342.9 1413,344.3 1414,342.8 1415,344.9 1416,343.0 1417,344.1 1418,343.8 1419,343.3 1420,344.8 1421,343.6 1422,344.9 1423,343.1 1424,343.3 1425,342.4 1426,344.2 1427,344.5 1428,344.0 1429,343.7 1430,343.2 1431,345.5 1432,344.3 1433,342.5 1434,343.6 1435,341.9 1436,344.9 1437,345.2 1438,344.8 1439,343.7 1440,343.3 1441,342.7 1442,344.1 1443,343.2 1444,343.4 1445,343.2 1446,343.4 1447,344.3 1448,344.9 1449,343.7 1450,343.6 1451,342.8 1452,342.7 1453,342.1 1454,344.2 1455,343.7 1456,344.2 1457,343.8 1458,343.2 1459,342.6 1460,343.2 1461,342.4 1462,344.9 1463,343.6 1464,343.1 1465,344.9 1466,344.3 1467,343.8 1468,343.2 1469,343.6 1470,343.1 1471,343.7 1472,344.4 1473,342.3 1474,341.6 1475,344.3 1476,343.4 1477,343.9 1478,343.0 1479,344.4 1480,344.6 1481,342.3 1482,343.7 1483,342.7 1484,341.9 1485,342.9 1486,343.5 1487,342.0 1488,342.0 1489,344.0 1490,343.0 1491,343.3 1492,342.1 1493,342.4 1494,343.0 1495,343.1 1496,343.0 1497,343.7 1498,343.0 1499,341.6 1500,342.1 1501,342.8 1502,343.8 1503,342.2 1504,343.4 1505,342.7 1506,342.2 1507,342.0 1508,342.5 1509,343.5 1510,343.0 1511,342.4 1512,342.9 1513,341.6 1514,343.4 1515,343.2 1516,342.8 1517,341.2 1518,344.2 1519,340.1 1520,341.7 1521,341.7 1522,343.0 1523,341.2 1524,342.6 1525,342.3 1526,342.2 1527,343.1 1528,343.5 1529,342.7 1530,342.1 1531,340.4 1532,343.5 1533,342.1 1534,340.8 1535,342.4 1536,343.5 1537,342.1 1538,341.3 1539,344.1 1540,342.7 1541,342.5 1542,343.0 1543,340.4 1544,342.1 1545,342.0 1546,344.1 1547,341.7 1548,341.7 1549,341.0 1550,341.4 1551,341.9 1552,342.3 1553,341.9 1554,343.8 1555,342.5 1556,342.6 1557,343.2 1558,342.6 1559,341.6 1560,340.7 1561,342.3 1562,341.3 1563,343.1 1564,341.3 1565,340.1 1566,342.0 1567,342.9 1568,341.8 1569,342.1 1570,342.1 1571,343.4 1572,342.2 1573,341.9 1574,341.4 1575,340.5 1576,343.1 1577,342.9 1578,341.1 1579,342.4 1580,342.2 1581,341.6 1582,341.7 1583,342.6 1584,340.9 1585,341.5 1586,341.8 1587,341.9 1588,341.7 1589,342.1 1590,342.4 1591,341.2 1592,342.0 1593,341.5 1594,343.2 1595,340.8 1596,341.8 1597,342.6 1598,341.8 1599,341.8 1600,341.6 1601,342.3 1602,341.1 1603,342.1 1604,342.1 1605,341.0 1606,342.4 1607,341.9 1608,342.5 1609,343.0 1610,342.6 1611,341.4 1612,342.7 1613,341.1 1614,341.9 1615,343.9 1616,342.6 1617,343.9 1618,341.6 1619,342.7 1620,341.8 1621,343.5 1622,342.7 1623,343.4 1624,343.3 1625,341.2 1626,343.3 1627,343.0 1628,343.1 1629,342.6 1630,341.5 1631,343.6 1632,345.3 1633,344.2 1634,345.2 1635,343.8 1636,342.8 1637,342.8 1638,344.1 1639,343.9 1640,343.5 1641,344.3 1642,343.1 1643,344.2 1644,343.8 1645,344.0 1646,344.8 1647,343.9 1648,345.0 1649,343.4 1650,343.6"/>
<polyline fill="none" stroke="#9900ff" stroke-width="9" stroke-linejoin="round" points="109,427.4 110,423.8 111,426.2 112,425.4 113,425.5 114,425.8 115,424.4 116,425.8 117,425.3 118,428.6 119,426.2 120,425.8 121,425.9 122,425.6 123,425.3 124,425.8 125,426.5 126,426.0 127,427.0 128,426.1 129,426.3 130,427.5 131,426.7 132,425.9 133,426.2 134,426.8 135,427.9 136,426.2 137,426.2 138,427.2 139,425.8 140,425.2 141,427.2 142,427.0 143,426.6 144,427.1 145,424.4 146,427.4 147,425.9 148,425.4 149,426.9 150,427.2 151,426.4 152,425.9 153,426.8 154,426.7 155,427.9 156,427.4 157,427.0 158,427.7 159,426.7 160,426.2 161,427.3 162,427.4 163,425.2 164,426.4 165,427.2 166,425.1 167,427.5 168,427.4 169,428.6 170,427.1 171,426.4 172,426.9 173,425.6 174,426.5 175,427.7 176,428.0 177,425.6 178,426.8 179,427.5 180,426.8 181,428.4 182,426.4 183,427.6 184,426.5 185,428.4 186,427.3 187,427.1 188,426.6 189,428.6 190,428.0 191,428.0 192,428.3 193,427.7 194,427.0 195,426.9 196,426.9 197,428.5 198,427.0 199,427.1 200,427.3 201,427.7 202,428.0 203,426.7 204,426.4 205,427.6 206,428.5 207,428.2 208,427.8 209,427.5 210,427.9 211,427.5 212,428.3 213,427.2 214,427.9 215,428.4 216,428.2 217,428.0 218,429.6 219,428.9 220,428.9 221,426.4 222,427.6 223,427.4 224,428.3 225,426.2 226,428.0 227,428.7 228,427.0 229,427.2 230,427.4 231,428.0 232,428.4 233,429.4 234,427.8 235,428.5 236,428.1 237,429.3 238,428.5 239,429.0 240,427.3 241,427.9 242,427.5 243,429.1 244,428.5 245,427.9 246,427.8 247,428.4 248,427.6 249,427.5 250,428.5 251,429.9 252,428.0 253,427.8 254,427.3 255,427.2 256,428.2 257,428.8 258,428.2 259,428.4 260,428.3 261,428.3 262,427.1 263,427.9 264,428.3 265,427.7 266,427.9 267,427.7 268,428.0 269,428.8 270,428.0 271,428.1 272,428.8 273,428.7 274,429.5 275,426.8 276,428.9 277,427.9 278,428.4 279,428.9 280,429.0 281,429.0 282,428.4 283,429.4 284,428.1 285,428.2 286,428.9 287,427.9 288,429.8 289,429.0 290,429.8 291,428.3 292,428.0 293,428.4 294,428.8 295,427.9 296,428.6 297,428.3 298,429.4 299,427.8 300,429.0 301,427.8 302,427.6 303,427.8 304,427.5 305,428.4 306,429.0 307,428.4 308,428.7 309,429.4 310,428.5 311,428.4 312,427.3 313,427.2 314,428.8 315,427.1 316,428.7 317,428.3 318,429.1 319,428.2 320,427.7 321,428.5 322,427.9 323,428.2 324,428.3 325,428.2 326,428.1 327,427.7 328,428.1 329,426.8 330,428.2 331,427.4 332,429.1 333,429.2 334,426.9 335,428.4 336,428.2 337,427.5 338,428.6 339,427.9 340,427.0 341,428.1 342,428.1 343,428.3 344,426.9 345,428.7 346,428.8 347,427.4 348,426.7 349,428.2 350,427.8 351,429.5 352,428.4 353,427.5 354,427.7 355,428.2 356,429.8 357,428.1 358,428.3 359,428.6 360,428.2 361,429.8 362,427.8 363,428.7 364,428.3 365,428.6 366,427.4 367,429.4 368,428.1 369,428.2 370,427.5 371,427.7 372,428.6 373,428.9 374,428.7 375,429.0 376,428.7 377,428.2 378,428.7 379,428.6 380,428.1 381,428.6 382,429.0 383,428.3 384,427.9 385,428.6 386,429.4 387,428.0 388,428.0 389,428.0 390,429.0 391,426.8 392,428.3 393,428.9 394,427.5 395,429.1 396,428.5 397,427.7 398,428.2 399,427.0 400,427.7 401,429.3 402,427.4 403,429.4 404,428.0 405,428.7 406,428.1 407,426.4 408,427.6 409,428.1 410,427.2 411,427.0 412,428.3 413,427.5 414,426.8 415,427.5 416,428.6 417,427.6 418,428.6 419,429.0 420,427.9 421,427.1 422,426.9 423,427.8 424,428.4 425,428.0 426,428.1 427,427.3 428,427.8 429,427.2 430,427.2 431,426.4 432,426.1 433,426.8 434,426.3 435,426.3 436,427.4 437,426.7 438,428.9 439,427.3 440,425.9 441,426.9 442,426.5 443,425.5 444,426.8 445,425.2 446,423.2 447,426.2 448,424.9 449,426.4 450,424.5 451,423.9 452,425.9 453,423.5 454,424.3 455,425.1 456,423.7 457,423.2 458,423.0 459,423.3 460,421.5 461,422.4 462,422.0 463,423.3 464,420.3 465,419.4 466,420.6 467,418.0 468,419.3 469,418.7 470,419.4 471,417.0 472,417.9 473,413.9 474,415.2 475,417.3 476,414.2 477,413.6 478,414.2 479,413.9 480,412.8 481,410.5 482,412.2 483,411.1 484,411.1 485,408.8 486,411.3 487,409.1 488,407.9 489,406.8 490,406.6 491,407.6 492,405.6 493,406.9 494,405.7 495,406.2 496,404.9 497,403.0 498,399.7 499,402.2 500,402.2 501,400.5 502,400.2 503,397.8 504,397.1 505,395.2 506,396.2 507,395.1 508,393.2 509,391.0 510,392.2 511,394.1 512,391.9 513,389.4 514,392.5 515,392.0 516,390.7 517,389.9 518,390.1 519,388.7 520,388.7 521,385.8 522,389.7 523,387.4 524,390.6 525,383.5 526,388.4 527,389.0 528,386.8 529,388.4 530,391.1 531,389.0 532,387.3 533,388.2 534,390.5 535,391.3 536,389.8 537,390.5 538,391.6 539,394.0 540,391.6 541,392.4 542,396.0 543,395.3 544,397.3 545,399.6 546,401.3 547,400.1 548,403.8 549,401.0 550,405.1 551,403.0 552,404.3 553,407.7 554,407.1 555,407.4 556,408.7 557,410.6 558,410.6 559,411.4 560,413.4 561,411.8 562,412.7 563,413.3 564,415.8 565,416.1 566,417.0 567,416.0 568,416.4 569,418.0 570,417.1 571,418.8 572,419.1 573,418.0 574,419.0 575,419.3 576,421.6 577,422.7 578,420.2 579,420.6 580,418.5 581,421.3 582,421.3 583,420.5 584,422.5 585,420.4 586,422.0 587,422.5 588,421.4 589,423.5 590,423.9 591,421.8 592,422.0 593,424.0 594,423.6 595,422.7 596,423.9 597,423.9 598,424.1 599,425.0 600,424.8 601,426.1 602,425.9 603,425.4 604,425.8 605,426.1 606,425.7 607,424.1 608,426.0 609,425.4 610,428.0 611,425.6 612,426.0 613,426.0 614,427.2 615,426.0 616,425.7 617,426.3 618,425.7 619,426.3 620,426.2 621,426.5 622,428.0 623,426.1 624,426.6 625,426.4 626,427.2 627,425.8 628,426.3 629,426.8 630,426.7 631,427.0 632,426.7 633,426.4 634,427.6 635,428.4 636,427.6 637,427.5 638,427.8 639,426.7 640,429.9 641,427.4 642,427.8 643,427.6 644,426.8 645,428.6 646,428.8 647,427.6 648,428.2 649,428.1 650,428.5 651,426.8 652,429.2 653,427.7 654,429.0 655,428.1 656,427.8 657,428.0 658,428.8 659,427.5 660,427.9 661,427.9 662,427.0 663,429.2 664,428.7 665,428.3 666,429.2 667,427.6 668,428.3 669,429.6 670,429.1 671,426.7 672,425.9 673,427.7 674,429.2 675,428.1 676,428.3 677,428.9 678,427.9 679,428.7 680,429.1 681,428.9 682,428.9 683,428.2 684,429.0 685,428.3 686,429.6 687,430.5 688,428.1 689,427.1 690,428.4 691,429.0 692,429.5 693,429.5 694,428.2 695,428.2 696,429.7 697,428.0 698,429.6 699,428.7 700,429.4 701,429.4 702,429.4 703,429.0 704,428.2 705,429.8 706,428.9 707,429.7 708,429.8 709,428.8 710,428.5 711,428.5 712,428.8 713,429.5 714,428.4 715,429.9 716,429.2 717,427.4 718,428.1 719,429.2 720,429.6 721,427.8 722,429.9 723,430.3 724,429.4 725,429.5 726,430.9 727,430.0 728,428.5 729,429.2 730,429.1 731,429.1 732,427.5 733,429.7 734,428.8 735,429.3 736,429.1 737,429.8 738,429.0 739,428.7 740,429.6 741,430.3 742,429.0 743,430.2 744,429.5 745,428.9 746,430.4 747,430.3 748,430.0 749,429.0 750,429.6 751,428.5 752,428.7 753,430.1 754,429.5 755,429.4 756,429.0 757,429.7 758,428.4 759,428.6 760,429.2 761,428.8 762,428.9 763,429.3 764,429.3 765,429.2 766,430.5 767,430.1 768,430.2 769,429.4 770,429.0 771,428.4 772,429.1 773,427.9 774,429.0 775,429.9 776,430.5 777,430.1 778,428.8 779,429.7 780,428.8 781,430.0 782,429.3 783,430.0 784,429.9 785,430.0 786,431.0 787,429.8 788,429.2 789,430.3 790,430.6 791,429.0 792,429.4 793,428.3 794,430.5 795,430.0 796,429.3 797,427.6 798,428.3 799,429.5 800,429.8 801,429.7 802,429.4 803,428.3 804,430.5 805,429.2 806,429.1 807,429.7 808,427.6 809,429.1 810,429.0 811,429.4 812,430.0 813,429.4 814,427.7 815,428.8 816,429.1 817,429.1 818,428.0 819,427.7 820,429.3 821,429.1 822,428.8 823,427.6 824,430.1 825,426.7 826,428.5 827,430.2 828,428.6 829,428.8 830,427.8 831,429.6 832,427.6 833,428.7 834,428.6 835,427.7 836,429.1 837,427.4 838,427.9 839,428.3 840,428.0 841,428.7 842,429.0 843,428.0 844,427.8 845,427.8 846,427.9 847,428.7 848,427.9 849,428.3 850,427.9 851,427.3 852,428.6 853,427.1 854,427.8 855,428.9 856,426.7 857,427.7 858,426.4 859,427.2 860,426.4 861,427.2 862,427.0 863,427.4 864,428.5 865,427.4 866,427.6 867,427.0 868,426.8 869,426.2 870,425.3 871,426.8 872,427.9 873,426.4 874,426.0 875,427.7 876,425.9 877,425.6 878,425.0 879,425.1 880,425.6 881,427.4 882,425.4 883,424.5 884,424.8 885,425.0 886,424.0 887,424.9 888,425.2 889,424.7 890,424.7 891,422.7 892,422.0 893,424.5 894,424.0 895,421.2 896,422.6 897,422.0 898,422.2 899,421.5 900,420.5 901,420.8 902,420.4 903,419.9 904,417.6 905,416.1 906,418.1 907,416.8 908,418.5 909,418.7 910,417.9 911,416.8 912,416.9 913,417.8 914,415.3 915,416.8 916,416.1 917,415.2 918,416.3 919,413.3 920,415.0 921,412.4 922,412.3 923,411.7 924,413.4 925,411.5 926,412.6 927,411.1 928,413.7 929,414.6 930,412.5 931,414.2 932,412.8 933,414.8 934,412.8 935,410.0 936,413.8 937,411.7 938,410.6 939,411.0 940,409.8 941,411.6 942,410.5 943,413.6 944,412.7 945,409.9 946,410.2 947,411.4 948,409.9 949,412.3 950,412.6 951,412.0 952,412.5 953,414.0 954,415.3 955,415.6 956,414.2 957,415.4 958,413.8 959,415.3 960,414.0 961,416.2 962,414.3 963,414.9 964,416.3 965,417.2 966,415.4 967,416.7 968,417.8 969,418.2 970,417.5 971,418.8 972,418.7 973,420.8 974,420.2 975,418.6 976,418.1 977,420.6 978,421.9 979,421.2 980,422.1 981,421.0 982,420.5 983,422.7 984,422.3 985,423.1 986,421.5 987,423.1 988,423.7 989,424.1 990,423.2 991,423.4 992,423.6 993,425.3 994,424.4 995,424.0 996,423.9 997,424.0 998,426.1 999,423.7 1000,424.5 1001,425.7 1002,426.2 1003,425.2 1004,426.0 1005,426.1 1006,426.3 1007,425.6 1008,426.8 1009,424.8 1010,426.9 1011,425.0 1012,426.5 1013,424.9 1014,424.8 1015,426.4 1016,425.4 1017,426.4 1018,425.3 1019,427.3 1020,426.2 1021,426.3 1022,426.4 1023,426.9 1024,425.7 1025,426.7 1026,427.8 1027,427.0 1028,426.4 1029,426.0 1030,426.8 1031,425.3 1032,424.2 1033,425.9 1034,425.6 1035,427.7 1036,426.5 1037,425.7 1038,425.6 1039,426.8 1040,425.8 1041,426.6 1042,426.3 1043,426.4 1044,426.4 1045,426.4 1046,427.3 1047,427.5 1048,425.0 1049,428.1 1050,426.2 1051,427.1 1052,425.5 1053,426.3 1054,426.1 1055,426.0 1056,426.5 1057,426.3 1058,425.0 1059,425.6 1060,426.2 1061,424.8 1062,425.3 1063,425.2 1064,425.3 1065,424.4 1066,424.2 1067,426.5 1068,424.8 1069,425.2 1070,424.4 1071,426.0 1072,426.4 1073,424.6 1074,425.2 1075,424.0 1076,426.1 1077,424.1 1078,423.7 1079,425.5 1080,424.6 1081,424.6 1082,424.5 1083,423.4 1084,423.5 1085,424.4 1086,423.7 1087,422.7 1088,425.3 1089,423.1 1090,422.6 1091,422.3 1092,423.4 1093,423.5 1094,422.7 1095,423.1 1096,420.7 1097,421.6 1098,421.4 1099,421.7 1100,422.1 1101,419.4 1102,424.5 1103,420.4 1104,421.6 1105,422.0 1106,422.0 1107,421.3 1108,418.0 1109,419.8 1110,421.7 1111,419.9 1112,419.7 1113,418.3 1114,422.0 1115,421.2 1116,419.7 1117,420.5 1118,420.5 1119,419.4 1120,420.2 1121,420.7 1122,421.0 1123,422.7 1124,420.4 1125,419.9 1126,420.8 1127,419.6 1128,419.0 1129,421.4 1130,419.8 1131,420.4 1132,420.9 1133,419.0 1134,420.9 1135,420.7 1136,420.1 1137,420.7 1138,419.5 1139,418.0 1140,420.2 1141,419.6 1142,421.6 1143,421.1 1144,420.4 1145,421.1 1146,422.6 1147,422.6 1148,421.9 1149,422.2 1150,421.6 1151,422.0 1152,422.9 1153,422.4 1154,423.0 1155,421.7 1156,421.4 1157,421.5 1158,423.0 1159,423.3 1160,424.9 1161,422.9 1162,422.5 1163,424.9 1164,424.8 1165,423.1 1166,425.6 1167,424.9 1168,426.1 1169,425.3 1170,426.0 1171,425.6 1172,424.6 1173,425.4 1174,425.2 1175,426.7 1176,425.2 1177,424.9 1178,427.0 1179,427.5 1180,427.9 1181,427.8 1182,425.7 1183,426.5 1184,426.8 1185,427.3 1186,425.7 1187,427.6 1188,428.0 1189,427.1 1190,428.1 1191,429.1 1192,428.2 1193,429.2 1194,429.2 1195,428.8 1196,428.9 1197,428.4 1198,429.7 1199,428.5 1200,428.4 1201,429.5 1202,428.5 1203,429.5 1204,430.0 1205,429.4 1206,429.5 1207,430.2 1208,430.1 1209,428.4 1210,428.7 1211,430.8 1212,430.1 1213,428.3 1214,429.0 1215,430.1 1216,429.4 1217,430.5 1218,430.1 1219,430.7 1220,429.5 1221,430.6 1222,431.9 1223,430.0 1224,431.5 1225,431.3 1226,431.1 1227,430.7 1228,429.9 1229,430.2 1230,431.4 1231,431.6 1232,431.8 1233,431.6 1234,431.6 1235,430.7 1236,430.1 1237,431.1 1238,431.4 1239,431.1 1240,430.0 1241,430.7 1242,430.0 1243,431.1 1244,430.3 1245,430.9 1246,431.2 1247,431.1 1248,432.0 1249,430.2 1250,429.5 1251,431.7 1252,432.0 1253,432.0 1254,431.2 1255,431.4 1256,431.1 1257,430.1 1258,430.6 1259,431.4 1260,430.6 1261,432.4 1262,429.9 1263,430.7 1264,431.8 1265,430.6 1266,430.2 1267,430.1 1268,430.5 1269,432.1 1270,431.3 1271,431.4 1272,430.7 1273,431.6 1274,431.1 1275,430.4 1276,430.7 1277,431.2 1278,431.8 1279,431.0 1280,431.4 1281,432.4 1282,430.5 1283,430.1 1284,431.7 1285,431.3 1286,430.9 1287,431.2 1288,430.8 1289,431.4 1290,430.8 1291,431.6 1292,430.2 1293,430.4 1294,431.1 1295,430.7 1296,431.5 1297,431.0 1298,430.6 1299,431.2 1300,430.6 1301,429.9 1302,429.4 1303,430.4 1304,431.1 1305,431.1 1306,431.6 1307,431.4 1308,432.3 1309,431.9 1310,429.2 1311,432.2 1312,431.8 1313,430.7 1314,431.2 1315,431.8 1316,431.2 1317,431.7 1318,431.3 1319,431.5 1320,430.8 1321,431.0 1322,430.7 1323,431.5 1324,429.8 1325,431.2 1326,431.9 1327,431.4 1328,431.0 1329,431.4 1330,430.4 1331,430.4 1332,430.7 1333,430.9 1334,431.7 1335,430.4 1336,431.7 1337,429.9 1338,430.4 1339,431.0 1340,431.8 1341,430.6 1342,429.5 1343,431.3 1344,431.0 1345,430.2 1346,430.2 1347,430.5 1348,431.0 1349,431.4 1350,429.9 1351,432.6 1352,430.9 1353,429.9 1354,431.4 1355,431.0 1356,432.6 1357,431.7 1358,430.7 1359,430.7 1360,430.6 1361,430.7 1362,431.4 1363,430.5 1364,432.1 1365,430.6 1366,430.9 1367,431.6 1368,429.6 1369,430.3 1370,431.4 1371,431.0 1372,430.9 1373,431.2 1374,430.5 1375,430.8 1376,430.0 1377,429.6 1378,431.8 1379,430.5 1380,430.4 1381,431.9 1382,431.7 1383,430.6 1384,430.6 1385,430.9 1386,430.3 1387,431.3 1388,431.0 1389,431.0 1390,431.5 1391,431.4 1392,432.2 1393,432.0 1394,429.7 1395,431.6 1396,430.1 1397,429.9 1398,431.4 1399,430.4 1400,430.7 1401,432.7 1402,430.5 1403,430.3 1404,431.2 1405,432.6 1406,431.3 1407,429.8 1408,430.5 1409,430.8 1410,432.3 1411,431.5 1412,431.5 1413,431.8 1414,430.7 1415,431.3 1416,429.4 1417,431.7 1418,430.9 1419,431.3 1420,430.1 1421,431.5 1422,431.4 1423,431.6 1424,429.4 1425,431.0 1426,431.9 1427,431.5 1428,430.3 1429,431.1 1430,431.9 1431,430.8 1432,431.2 1433,432.7 1434,430.9 1435,430.8 1436,430.2 1437,430.4 1438,431.9 1439,430.8 1440,430.1 1441,430.2 1442,430.9 1443,431.4 1444,430.4 1445,431.4 1446,430.5 1447,431.1 1448,430.2 1449,431.3 1450,430.6 1451,430.8 1452,431.2 1453,430.0 1454,431.0 1455,431.2 1456,431.6 1457,430.8 1458,430.7 1459,431.0 1460,430.3 1461,430.7 1462,431.1 1463,431.0 1464,430.1 1465,430.6 1466,429.4 1467,431.2 1468,430.5 1469,431.0 1470,430.1 1471,430.8 1472,431.1 1473,431.5 1474,429.9 1475,431.4 1476,430.7 1477,430.3 1478,431.2 1479,430.6 1480,430.6 1481,430.3 1482,431.0 1483,430.8 1484,430.7 1485,430.1 1486,430.4 1487,431.1 1488,431.7 1489,430.8 1490,431.8 1491,430.8 1492,430.0 1493,431.2 1494,430.7 1495,431.1 1496,431.5 1497,430.6 1498,430.7 1499,432.5 1500,430.7 1501,431.0 1502,431.3 1503,430.7 1504,430.7 1505,431.1 1506,429.1 1507,431.8 1508,430.0 1509,430.0 1510,431.2 1511,430.8 1512,429.9 1513,430.9 1514,430.0 1515,430.3 1516,429.7 1517,430.2 1518,431.0 1519,430.9 1520,431.0 1521,431.4 1522,430.7 1523,430.3 1524,430.6 1525,431.9 1526,430.8 1527,431.0 1528,430.7 1529,430.9 1530,431.1 1531,430.7 1532,430.6 1533,430.2 1534,430.2 1535,431.0 1536,431.3 1537,431.4 1538,430.8 1539,430.2 1540,431.2 1541,431.2 1542,429.7 1543,431.3 1544,431.1 1545,431.9 1546,429.9 1547,429.8 1548,431.3 1549,429.5 1550,430.2 1551,430.0 1552,430.0 1553,429.4 1554,430.6 1555,431.4 1556,431.0 1557,431.0 1558,430.5 1559,431.7 1560,431.1 1561,431.5 1562,429.6 1563,431.0 1564,429.9 1565,431.0 1566,430.9 1567,429.9 1568,430.8 1569,431.5 1570,431.1 1571,431.1 1572,429.5 1573,430.2 1574,429.9 1575,430.8 1576,431.5 1577,431.0 1578,430.7 1579,429.9 1580,431.0 1581,430.5 1582,429.4 1583,429.5 1584,430.5 1585,430.1 1586,431.9 1587,430.7 1588,430.0 1589,430.3 1590,431.8 1591,430.0 1592,431.2 1593,431.0 1594,431.7 1595,431.1 1596,430.4 1597,431.0 1598,430.7 1599,431.4 1600,430.6 1601,432.1 1602,430.6 1603,431.0 1604,430.2 1605,430.8 1606,430.7 1607,430.8 1608,431.3 1609,430.3 1610,430.1 1611,431.4 1612,430.5 1613,430.2 1614,431.5 1615,431.2 1616,428.8 1617,430.4 1618,431.2 1619,431.2 1620,430.3 1621,431.8 1622,430.1 1623,430.5 1624,430.7 1625,430.6 1626,431.2 1627,431.4 1628,430.6 1629,431.6 1630,430.2 1631,430.5 1632,431.9 1633,430.7 1634,431.4 1635,430.3 1636,430.4 1637,430.6 1638,430.8 1639,430.4 1640,430.6 1641,431.1 1642,430.7 1643,430.7 1644,431.1 1645,431.3 1646,429.9 1647,429.5 1648,431.8 1649,431.5 1650,430.7"/>
<polyline fill="none" stroke="#00008b" stroke-width="9" stroke-linejoin="round" points="109,512.7 110,513.0 111,514.4 112,513.7 113,512.0 114,513.2 115,512.8 116,513.4 117,512.1 118,513.5 119,513.5 120,514.5 121,513.6 122,513.7 123,513.0 124,515.0 125,512.0 126,514.2 127,513.2 128,512.8 129,513.0 130,513.0 131,513.8 132,513.4 133,514.6 134,512.2 135,512.9 136,512.9 137,514.1 138,512.1 139,513.3 140,513.8 141,512.5 142,514.3 143,513.8 144,514.4 145,514.4 146,511.1 147,513.1 148,513.6 149,514.3 150,514.3 151,513.2 152,513.3 153,513.2 154,513.4 155,513.6 156,513.7 157,515.3 158,513.5 159,513.6 160,514.2 161,513.2 162,513.6 163,513.9 164,514.4 165,512.9 166,514.9 167,513.7 168,514.0 169,514.5 170,514.4 171,514.7 172,514.1 173,513.9 174,514.2 175,513.3 176,514.9 177,513.4 178,513.1 179,515.5 180,513.9 181,513.2 182,515.4 183,513.8 184,514.8 185,513.5 186,513.9 187,513.1 188,512.7 189,513.4 190,514.0 191,514.7 192,515.8 193,513.4 194,514.8 195,513.7 196,514.0 197,513.1 198,513.1 199,513.6 200,513.3 201,514.2 202,513.7 203,515.1 204,514.3 205,514.3 206,515.0 207,514.6 208,514.2 209,514.1 210,514.1 211,515.0 212,514.8 213,514.5 214,514.8 215,513.9 216,514.6 217,513.3 218,515.2 219,514.3 220,514.4 221,514.7 222,514.3 223,514.1 224,515.1 225,514.4 226,513.6 227,514.6 228,513.1 229,515.5 230,514.2 231,514.3 232,515.9 233,513.4 234,514.4 235,514.8 236,515.1 237,515.5 238,514.2 239,514.4 240,515.2 241,514.5 242,514.9 243,514.8 244,513.5 245,513.7 246,512.5 247,514.2 248,515.3 249,514.2 250,515.2 251,515.1 252,514.3 253,514.4 254,514.4 255,513.8 256,514.2 257,514.3 258,514.8 259,514.9 260,512.8 261,515.0 262,513.8 263,514.3 264,514.6 265,514.4 266,514.3 267,514.6 268,514.0 269,513.9 270,514.2 271,515.1 272,514.3 273,515.7 274,514.5 275,512.3 276,514.1 277,515.6 278,514.4 279,514.1 280,513.8 281,515.3 282,515.1 283,514.9 284,514.7 285,515.4 286,515.0 287,513.5 288,514.9 289,514.5 290,514.3 291,514.9 292,514.4 293,512.3 294,515.5 295,515.1 296,514.3 297,514.1 298,514.6 299,513.5 300,514.4 301,514.2 302,514.2 303,513.8 304,513.9 305,516.1 306,515.3 307,514.7 308,514.4 309,513.8 310,514.9 311,515.5 312,513.3 313,515.2 314,512.9 315,514.1 316,514.6 317,513.4 318,513.3 319,514.5 320,515.0 321,514.0 322,515.3 323,513.8 324,515.6 325,514.4 326,514.5 327,514.8 328,514.6 329,515.6 330,515.9 331,514.7 332,514.2 333,513.5 334,513.8 335,514.3 336,514.2 337,514.5 338,514.3 339,514.6 340,513.3 341,513.5 342,515.1 343,514.8 344,513.9 345,515.2 346,513.8 347,514.1 348,512.9 349,514.8 350,514.2 351,514.9 352,514.7 353,514.2 354,514.3 355,514.9 356,514.0 357,514.0 358,514.2 359,514.7 360,514.8 361,515.5 362,514.0 363,515.0 364,513.6 365,515.3 366,514.2 367,515.3 368,514.5 369,513.7 370,514.4 371,514.3 372,513.8 373,513.8 374,513.3 375,515.9 376,513.6 377,514.6 378,513.4 379,513.1 380,513.8 381,513.8 382,514.4 383,513.1 384,514.2 385,514.9 386,513.1 387,514.4 388,513.1 389,514.0 390,514.0 391,514.9 392,513.2 393,513.8 394,514.4 395,512.8 396,513.6 397,512.9 398,513.0 399,514.0 400,514.0 401,515.3 402,514.5 403,514.4 404,513.3 405,513.2 406,513.5 407,511.7 408,514.5 409,512.8 410,512.5 411,512.9 412,513.8 413,514.0 414,512.6 415,513.0 416,512.4 417,511.5 418,512.2 419,511.9 420,510.5 421,512.5 422,510.3 423,511.6 424,510.5 425,510.6 426,510.5 427,511.6 428,509.9 429,510.7 430,512.0 431,510.2 432,510.6 433,511.1 434,510.0 435,510.8 436,509.8 437,512.3 438,510.9 439,509.4 440,511.2 441,509.9 442,509.6 443,509.0 444,509.3 445,509.5 446,509.6 447,510.2 448,508.1 449,508.7 450,509.9 451,508.9 452,508.9 453,509.7 454,508.4 455,508.2 456,507.6 457,508.9 458,508.0 459,506.1 460,507.0 461,505.1 462,506.8 463,506.1 464,505.0 465,504.5 466,502.8 467,504.9 468,503.7 469,503.1 470,503.8 471,502.0 472,501.7 473,501.1 474,500.0 475,503.2 476,500.1 477,499.4 478,500.1 479,495.4 480,498.1 481,497.6 482,496.0 483,497.0 484,493.8 485,495.6 486,496.0 487,492.1 488,492.5 489,494.3 490,493.1 491,491.7 492,492.6 493,492.0 494,489.7 495,490.7 496,488.9 497,487.5 498,486.7 499,490.4 500,488.6 501,490.7 502,486.2 503,487.2 504,487.6 505,486.6 506,487.1 507,486.3 508,485.0 509,482.5 510,483.9 511,487.0 512,485.5 513,486.1 514,483.3 515,483.5 516,482.4 517,483.8 518,483.1 519,483.3 520,484.8 521,481.2 522,483.1 523,480.1 524,483.3 525,481.1 526,481.6 527,481.8 528,483.8 529,481.7 530,481.3 531,480.6 532,482.8 533,481.6 534,482.4 535,479.1 536,484.7 537,483.3 538,485.5 539,487.3 540,483.6 541,487.5 542,488.9 543,485.9 544,487.4 545,485.8 546,488.4 547,488.1 548,488.8 549,488.4 550,489.1 551,490.1 552,490.3 553,491.0 554,492.0 555,491.6 556,493.2 557,494.5 558,492.0 559,495.5 560,495.1 561,495.4 562,495.8 563,497.0 564,497.8 565,499.5 566,498.5 567,501.4 568,500.0 569,502.0 570,502.8 571,500.8 572,503.5 573,504.9 574,502.7 575,504.0 576,503.6 577,504.1 578,504.2 579,504.0 580,505.6 581,506.0 582,505.4 583,507.1 584,506.9 585,506.8 586,505.7 587,508.3 588,508.0 589,505.0 590,506.2 591,506.7 592,508.4 593,508.9 594,507.7 595,508.4 596,508.9 597,507.4 598,509.2 599,508.6 600,509.2 601,509.2 602,508.4 603,508.7 604,509.7 605,510.0 606,509.8 607,511.1 608,510.0 609,509.4 610,510.3 611,510.6 612,510.7 613,511.9 614,511.5 615,512.1 616,511.8 617,511.3 618,512.4 619,511.4 620,512.0 621,511.0 622,512.0 623,511.8 624,512.4 625,513.7 626,514.2 627,513.2 628,512.5 629,513.2 630,512.8 631,512.3 632,512.8 633,512.7 634,512.5 635,514.2 636,512.7 637,512.8 638,513.9 639,512.8 640,512.6 641,512.9 642,514.0 643,514.0 644,514.0 645,513.4 646,513.2 647,514.6 648,512.9 649,513.9 650,513.1 651,513.8 652,514.1 653,515.2 654,512.1 655,515.4 656,513.7 657,514.6 658,515.1 659,513.9 660,514.4 661,514.9 662,514.5 663,514.1 664,514.8 665,514.8 666,513.6 667,515.8 668,514.9 669,513.0 670,514.2 671,516.1 672,516.1 673,515.1 674,513.7 675,514.8 676,515.8 677,514.9 678,514.8 679,514.6 680,515.7 681,515.0 682,515.4 683,515.6 684,516.5 685,515.4 686,515.5 687,514.0 688,516.2 689,516.0 690,515.4 691,513.8 692,515.0 693,515.5 694,517.0 695,516.8 696,516.1 697,516.2 698,516.6 699,514.8 700,515.0 701,514.8 702,516.0 703,515.5 704,515.8 705,515.0 706,515.9 707,515.2 708,517.4 709,515.5 710,517.7 711,517.1 712,515.1 713,516.6 714,516.4 715,514.9 716,516.5 717,516.0 718,516.3 719,515.5 720,516.0 721,516.4 722,516.0 723,515.7 724,516.1 725,515.5 726,516.4 727,514.4 728,517.3 729,516.3 730,516.6 731,516.9 732,515.4 733,517.9 734,515.5 735,516.7 736,516.6 737,517.3 738,516.4 739,515.4 740,516.7 741,514.7 742,516.3 743,516.1 744,517.6 745,516.3 746,516.2 747,516.0 748,515.9 749,516.1 750,517.0 751,515.6 752,516.4 753,515.5 754,516.5 755,516.7 756,515.7 757,516.2 758,516.7 759,517.2 760,517.3 761,516.6 762,515.9 763,515.0 764,517.2 765,517.6 766,516.9 767,517.8 768,516.4 769,516.4 770,517.8 771,516.0 772,517.1 773,517.0 774,516.8 775,517.9 776,516.1 777,516.4 778,515.2 779,516.0 780,516.3 781,516.4 782,516.6 783,516.9 784,516.2 785,515.3 786,516.8 787,517.0 788,515.9 789,516.1 790,517.9 791,517.4 792,517.4 793,517.1 794,516.8 795,516.3 796,517.0 797,516.5 798,516.3 799,516.6 800,516.6 801,517.2 802,515.9 803,518.3 804,515.9 805,516.3 806,517.2 807,515.9 808,516.2 809,516.5 810,514.4 811,516.1 812,515.8 813,516.3 814,516.8 815,516.9 816,517.5 817,517.4 818,517.1 819,516.3 820,517.1 821,515.6 822,516.2 823,517.3 824,516.8 825,515.2 826,515.8 827,516.8 828,516.6 829,516.9 830,514.9 831,515.2 832,515.9 833,515.3 834,516.0 835,516.0 836,516.2 837,515.9 838,516.3 839,516.5 840,516.0 841,515.0 842,516.8 843,515.9 844,516.1 845,515.9 846,514.5 847,516.1 848,515.2 849,514.7 850,516.5 851,515.3 852,515.7 853,516.1 854,516.6 855,514.1 856,514.8 857,515.8 858,514.8 859,512.8 860,515.3 861,515.3 862,515.7 863,515.2 864,514.6 865,515.0 866,514.7 867,514.3 868,514.7 869,514.7 870,513.5 871,515.0 872,514.7 873,514.5 874,511.6 875,513.7 876,513.3 877,512.5 878,513.6 879,511.8 880,513.8 881,513.0 882,512.1 883,513.5 884,512.6 885,512.3 886,510.9 887,512.2 888,512.8 889,512.4 890,510.3 891,512.4 892,512.5 893,511.7 894,510.5 895,509.4 896,509.8 897,509.9 898,510.5 899,510.6 900,509.3 901,509.1 902,509.7 903,508.3 904,510.5 905,508.0 906,509.4 907,509.5 908,507.7 909,509.2 910,508.0 911,507.1 912,506.6 913,507.3 914,507.9 915,504.8 916,506.8 917,505.7 918,504.8 919,505.1 920,504.9 921,504.6 922,505.2 923,503.4 924,506.1 925,504.9 926,503.4 927,502.1 928,503.9 929,503.6 930,505.3 931,504.7 932,505.8 933,503.8 934,504.7 935,503.6 936,503.6 937,505.5 938,503.8 939,503.9 940,503.6 941,504.3 942,504.6 943,503.9 944,502.9 945,504.3 946,503.2 947,503.7 948,504.3 949,504.4 950,502.0 951,505.9 952,505.2 953,506.4 954,507.0 955,503.8 956,502.8 957,505.2 958,506.0 959,504.8 960,505.1 961,506.6 962,504.9 963,506.1 964,507.0 965,505.9 966,507.0 967,506.3 968,505.2 969,506.3 970,506.8 971,506.9 972,507.5 973,508.0 974,508.1 975,508.3 976,508.0 977,508.4 978,508.5 979,508.6 980,510.5 981,507.9 982,509.9 983,509.6 984,509.6 985,510.9 986,510.2 987,511.7 988,509.9 989,510.6 990,510.4 991,511.0 992,510.8 993,512.1 994,511.3 995,512.1 996,511.5 997,511.5 998,511.3 999,511.0 1000,510.5 1001,510.9 1002,511.8 1003,510.4 1004,512.4 1005,513.4 1006,511.3 1007,511.7 1008,512.6 1009,512.5 1010,512.5 1011,513.6 1012,514.1 1013,511.5 1014,513.2 1015,512.0 1016,511.6 1017,512.3 1018,513.5 1019,512.5 1020,512.5 1021,513.9 1022,513.3 1023,512.9 1024,514.3 1025,513.4 1026,512.5 1027,512.3 1028,512.8 1029,513.3 1030,513.8 1031,513.8 1032,513.3 1033,512.3 1034,513.9 1035,513.3 1036,512.4 1037,512.3 1038,513.4 1039,513.4 1040,513.8 1041,512.3 1042,514.6 1043,511.8 1044,513.1 1045,514.1 1046,513.9 1047,512.4 1048,513.5 1049,514.0 1050,513.6 1051,512.3 1052,514.2 1053,511.8 1054,513.0 1055,512.1 1056,512.6 1057,512.6 1058,513.2 1059,511.9 1060,513.0 1061,514.4 1062,512.8 1063,511.6 1064,513.0 1065,512.1 1066,512.3 1067,512.6 1068,512.9 1069,514.1 1070,513.7 1071,512.1 1072,512.1 1073,511.6 1074,510.5 1075,513.3 1076,512.7 1077,510.7 1078,512.2 1079,514.0 1080,512.5 1081,512.5 1082,512.2 1083,511.4 1084,511.0 1085,511.2 1086,511.9 1087,511.5 1088,513.8 1089,512.9 1090,511.8 1091,511.9 1092,510.8 1093,509.9 1094,512.6 1095,511.3 1096,511.6 1097,510.1 1098,508.8 1099,511.3 1100,508.2 1101,509.7 1102,509.3 1103,509.8 1104,510.2 1105,510.1 1106,507.4 1107,510.0 1108,507.3 1109,509.5 1110,508.4 1111,507.7 1112,508.2 1113,507.5 1114,508.6 1115,509.4 1116,509.3 1117,508.6 1118,509.6 1119,509.0 1120,510.5 1121,509.0 1122,508.0 1123,508.3 1124,507.9 1125,508.3 1126,508.4 1127,509.2 1128,509.3 1129,508.6 1130,509.9 1131,507.9 1132,508.1 1133,506.3 1134,507.9 1135,508.1 1136,510.9 1137,507.3 1138,508.6 1139,508.3 1140,507.1 1141,508.8 1142,508.6 1143,507.3 1144,506.6 1145,508.8 1146,507.6 1147,509.6 1148,508.9 1149,509.7 1150,509.1 1151,510.9 1152,510.3 1153,511.2 1154,510.9 1155,509.3 1156,509.1 1157,510.1 1158,511.0 1159,510.3 1160,513.2 1161,511.2 1162,511.8 1163,511.7 1164,510.7 1165,512.9 1166,512.7 1167,513.0 1168,511.7 1169,512.6 1170,512.7 1171,513.8 1172,511.8 1173,513.6 1174,514.3 1175,512.9 1176,512.7 1177,514.6 1178,513.8 1179,514.6 1180,513.0 1181,514.7 1182,513.8 1183,512.3 1184,514.6 1185,513.6 1186,514.8 1187,514.0 1188,515.8 1189,514.4 1190,515.3 1191,515.6 1192,514.8 1193,515.2 1194,515.0 1195,514.3 1196,516.3 1197,514.5 1198,514.1 1199,515.0 1200,515.6 1201,515.6 1202,515.4 1203,515.3 1204,514.1 1205,516.3 1206,517.3 1207,515.4 1208,514.7 1209,516.7 1210,516.1 1211,513.2 1212,515.8 1213,515.3 1214,515.6 1215,518.0 1216,517.3 1217,516.5 1218,516.7 1219,517.9 1220,516.0 1221,517.4 1222,516.4 1223,517.6 1224,517.2 1225,516.5 1226,517.9 1227,517.5 1228,518.5 1229,516.9 1230,517.3 1231,516.8 1232,518.2 1233,516.8 1234,517.3 1235,518.3 1236,517.8 1237,517.6 1238,517.6 1239,517.7 1240,517.9 1241,518.2 1242,516.0 1243,518.4 1244,516.7 1245,518.8 1246,517.7 1247,519.8 1248,518.4 1249,517.8 1250,518.2 1251,516.5 1252,517.7 1253,517.3 1254,517.5 1255,516.0 1256,515.9 1257,518.1 1258,517.6 1259,517.2 1260,517.5 1261,517.1 1262,517.2 1263,518.1 1264,517.4 1265,518.1 1266,517.1 1267,516.3 1268,517.1 1269,517.5 1270,516.8 1271,517.3 1272,517.3 1273,518.3 1274,518.3 1275,518.4 1276,517.1 1277,517.9 1278,518.6 1279,517.8 1280,517.6 1281,517.1 1282,518.3 1283,517.8 1284,518.4 1285,517.6 1286,519.2 1287,517.7 1288,516.8 1289,517.9 1290,518.1 1291,518.7 1292,517.4 1293,517.3 1294,517.5 1295,517.5 1296,516.2 1297,518.3 1298,518.7 1299,517.2 1300,517.0 1301,517.7 1302,517.2 1303,518.4 1304,517.3 1305,518.2 1306,516.9 1307,516.8 1308,516.7 1309,516.8 1310,518.1 1311,518.8 1312,517.9 1313,518.0 1314,516.2 1315,518.7 1316,516.9 1317,518.8 1318,519.6 1319,517.9 1320,518.3 1321,518.3 1322,516.9 1323,517.1 1324,517.4 1325,518.0 1326,518.5 1327,518.0 1328,518.7 1329,517.5 1330,516.9 1331,517.9 1332,517.9 1333,516.9 1334,518.7 1335,517.2 1336,517.4 1337,518.1 1338,518.4 1339,518.4 1340,518.2 1341,518.3 1342,517.9 1343,517.6 1344,517.4 1345,518.2 1346,518.9 1347,518.5 1348,518.2 1349,518.7 1350,518.9 1351,517.1 1352,517.9 1353,518.9 1354,517.5 1355,517.6 1356,518.4 1357,517.8 1358,518.9 1359,517.8 1360,518.4 1361,519.8 1362,518.8 1363,517.0 1364,517.3 1365,517.3 1366,518.0 1367,517.0 1368,518.4 1369,519.2 1370,519.1 1371,517.5 1372,517.8 1373,517.8 1374,517.4 1375,519.2 1376,517.5 1377,517.2 1378,518.3 1379,518.2 1380,519.1 1381,519.1 1382,516.7 1383,516.5 1384,518.5 1385,517.0 1386,519.3 1387,516.9 1388,517.2 1389,519.1 1390,519.2 1391,518.9 1392,518.0 1393,519.7 1394,517.6 1395,517.1 1396,518.0 1397,518.1 1398,518.6 1399,518.8 1400,516.7 1401,518.2 1402,518.3 1403,517.1 1404,517.8 1405,518.0 1406,518.3 1407,517.4 1408,517.5 1409,517.2 1410,518.2 1411,517.7 1412,517.8 1413,518.4 1414,517.9 1415,517.2 1416,518.8 1417,518.7 1418,518.3 1419,517.2 1420,518.8 1421,517.6 1422,516.6 1423,517.9 1424,519.3 1425,517.7 1426,518.4 1427,518.9 1428,518.1 1429,517.7 1430,518.0 1431,518.4 1432,517.6 1433,518.2 1434,518.4 1435,517.7 1436,518.5 1437,518.4 1438,517.7 1439,517.8 1440,518.1 1441,517.9 1442,517.8 1443,517.2 1444,518.0 1445,518.5 1446,518.4 1447,517.4 1448,518.4 1449,518.4 1450,517.3 1451,518.3 1452,517.9 1453,517.7 1454,518.1 1455,517.8 1456,516.4 1457,518.1 1458,517.2 1459,517.9 1460,518.5 1461,517.8 1462,517.7 1463,518.1 1464,518.3 1465,517.4 1466,517.5 1467,518.3 1468,519.1 1469,518.0 1470,518.6 1471,517.5 1472,518.0 1473,518.0 1474,517.1 1475,518.0 1476,517.8 1477,516.2 1478,517.9 1479,518.2 1480,518.1 1481,518.2 1482,517.2 1483,517.4 1484,517.8 1485,518.1 1486,517.6 1487,518.8 1488,517.3 1489,517.7 1490,519.2 1491,517.9 1492,517.2 1493,518.1 1494,518.1 1495,518.1 1496,516.8 1497,518.2 1498,519.0 1499,519.4 1500,518.4 1501,517.7 1502,518.2 1503,518.5 1504,517.9 1505,518.0 1506,518.9 1507,518.3 1508,518.4 1509,517.3 1510,518.3 1511,516.7 1512,518.9 1513,517.7 1514,518.5 1515,519.0 1516,517.3 1517,518.8 1518,518.2 1519,518.8 1520,517.8 1521,517.6 1522,518.9 1523,518.3 1524,518.1 1525,517.3 1526,519.0 1527,517.8 1528,517.9 1529,517.6 1530,518.1 1531,518.5 1532,518.0 1533,518.0 1534,517.7 1535,519.1 1536,519.2 1537,517.8 1538,517.4 1539,518.2 1540,516.9 1541,518.2 1542,518.2 1543,518.2 1544,519.1 1545,519.3 1546,518.3 1547,517.8 1548,518.7 1549,518.8 1550,517.2 1551,517.5 1552,517.9 1553,516.9 1554,517.3 1555,519.2 1556,517.2 1557,518.6 1558,517.5 1559,518.7 1560,518.3 1561,518.7 1562,517.1 1563,518.2 1564,517.6 1565,518.6 1566,518.5 1567,518.2 1568,517.9 1569,518.0 1570,518.2 1571,517.7 1572,517.7 1573,517.6 1574,517.3 1575,518.8 1576,517.1 1577,518.9 1578,518.5 1579,516.9 1580,516.8 1581,518.0 1582,517.3 1583,518.1 1584,518.7 1585,518.3 1586,517.9 1587,518.1 1588,519.0 1589,517.8 1590,519.2 1591,519.4 1592,517.8 1593,518.2 1594,519.2 1595,517.6 1596,518.3 1597,518.8 1598,517.3 1599,518.3 1600,518.1 1601,517.7 1602,519.1 1603,518.0 1604,519.6 1605,518.6 1606,517.6 1607,518.2 1608,517.5 1609,518.6 1610,518.5 1611,517.3 1612,517.7 1613,518.4 1614,518.1 1615,517.4 1616,518.8 1617,519.0 1618,517.0 1619,519.1 1620,516.7 1621,518.0 1622,517.6 1623,517.7 1624,518.2 1625,517.3 1626,518.0 1627,519.2 1628,518.4 1629,519.1 1630,518.6 1631,516.9 1632,519.3 1633,518.6 1634,518.5 1635,517.8 1636,517.7 1637,517.3 1638,517.9 1639,518.1 1640,517.9 1641,517.9 1642,516.7 1643,517.5 1644,517.5 1645,518.2 1646,517.7 1647,517.7 1648,518.1 1649,517.7 1650,517.8"/>
<polyline fill="none" stroke="#008400" stroke-width="9" stroke-linejoin="round" points="109,600.4 110,600.0 111,600.9 112,601.4 113,601.9 114,601.2 115,600.7 116,600.6 117,601.7 118,602.4 119,601.4 120,600.3 121,600.6 122,602.5 123,601.5 124,600.0 125,601.3 126,600.5 127,600.9 128,601.0 129,600.9 130,601.8 131,601.4 132,601.0 133,601.8 134,602.1 135,600.3 136,601.3 137,600.8 138,601.4 139,600.6 140,601.6 141,601.6 142,601.4 143,600.9 144,601.4 145,600.9 146,600.7 147,601.9 148,600.9 149,602.6 150,602.3 151,600.3 152,602.0 153,601.0 154,601.8 155,601.8 156,600.4 157,601.7 158,601.7 159,602.5 160,601.0 161,602.4 162,601.1 163,601.7 164,601.3 165,603.0 166,602.3 167,603.7 168,602.4 169,602.6 170,602.6 171,601.6 172,601.9 173,603.0 174,601.7 175,602.2 176,602.0 177,602.5 178,601.8 179,602.0 180,602.2 181,602.2 182,601.5 183,602.7 184,601.2 185,601.3 186,601.2 187,602.8 188,601.9 189,601.5 190,601.3 191,602.5 192,601.4 193,601.3 194,602.6 195,601.3 196,602.0 197,602.2 198,601.9 199,602.2 200,603.2 201,601.9 202,601.3 203,600.9 204,602.1 205,602.0 206,602.4 207,601.9 208,601.9 209,601.8 210,601.9 211,602.4 212,602.0 213,602.4 214,603.6 215,602.6 216,601.2 217,603.5 218,602.9 219,601.6 220,602.9 221,602.3 222,601.9 223,601.9 224,601.6 225,602.4 226,603.1 227,602.1 228,602.6 229,603.7 230,601.5 231,602.5 232,602.1 233,601.6 234,601.6 235,602.3 236,602.7 237,602.0 238,602.4 239,602.9 240,602.6 241,603.0 242,602.7 243,602.7 244,603.7 245,602.8 246,602.5 247,602.9 248,601.7 249,602.1 250,602.9 251,602.8 252,603.5 253,602.4 254,601.4 255,603.8 256,603.2 257,601.6 258,603.4 259,602.4 260,601.1 261,602.1 262,602.0 263,603.5 264,601.8 265,602.2 266,602.2 267,602.1 268,601.8 269,602.5 270,603.2 271,602.8 272,601.7 273,601.6 274,602.5 275,601.4 276,602.0 277,601.2 278,603.8 279,603.0 280,601.7 281,603.0 282,603.3 283,600.7 284,602.0 285,602.1 286,602.9 287,602.3 288,601.4 289,602.4 290,603.4 291,603.9 292,602.0 293,601.8 294,604.3 295,601.7 296,602.0 297,602.4 298,602.7 299,603.1 300,602.7 301,601.8 302,602.7 303,602.5 304,603.7 305,602.3 306,601.4 307,601.6 308,603.3 309,601.9 310,600.8 311,601.8 312,602.2 313,603.0 314,601.5 315,602.6 316,602.7 317,601.6 318,602.0 319,603.3 320,603.3 321,602.6 322,602.2 323,602.8 324,601.8 325,601.8 326,600.4 327,601.8 328,601.8 329,603.8 330,602.2 331,603.0 332,602.6 333,601.5 334,602.5 335,600.0 336,601.6 337,602.1 338,599.1 339,600.6 340,602.2 341,601.2 342,600.5 343,601.0 344,600.8 345,601.7 346,601.5 347,600.9 348,600.6 349,601.0 350,602.0 351,601.2 352,601.4 353,600.8 354,599.9 355,600.3 356,601.3 357,600.8 358,600.0 359,599.4 360,600.7 361,600.3 362,600.3 363,600.3 364,600.7 365,600.7 366,601.1 367,601.1 368,601.4 369,600.9 370,600.0 371,600.2 372,600.5 373,599.9 374,600.5 375,601.0 376,599.4 377,598.6 378,600.9 379,600.0 380,600.5 381,598.9 382,601.2 383,600.4 384,599.7 385,599.5 386,599.8 387,599.6 388,599.5 389,598.8 390,600.7 391,599.6 392,600.5 393,599.7 394,597.7 395,600.0 396,599.3 397,599.3 398,600.0 399,598.7 400,600.1 401,598.9 402,598.7 403,598.8 404,599.6 405,600.0 406,598.9 407,598.2 408,600.2 409,598.6 410,600.3 411,599.4 412,598.9 413,599.0 414,599.9 415,600.3 416,599.6 417,600.6 418,601.5 419,599.8 420,599.1 421,599.2 422,598.9 423,599.5 424,599.4 425,599.4 426,600.7 427,597.7 428,598.6 429,601.1 430,600.3 431,599.8 432,599.6 433,600.5 434,599.5 435,599.0 436,597.8 437,598.6 438,597.9 439,595.4 440,597.6 441,598.0 442,597.6 443,598.4 444,596.5 445,597.2 446,598.8 447,597.1 448,597.9 449,597.7 450,597.6 451,596.9 452,594.9 453,595.6 454,595.2 455,593.9 456,594.6 457,593.6 458,592.9 459,594.2 460,593.7 461,592.7 462,592.1 463,592.1 464,591.9 465,591.5 466,591.5 467,590.7 468,591.2 469,591.0 470,590.4 471,589.0 472,588.6 473,589.3 474,588.1 475,587.8 476,584.7 477,584.0 478,586.8 479,586.3 480,587.0 481,585.9 482,584.9 483,584.3 484,582.3 485,584.6 486,582.6 487,583.6 488,583.0 489,582.8 490,583.3 491,581.4 492,581.3 493,580.5 494,580.9 495,583.1 496,580.4 497,582.1 498,581.4 499,581.1 500,581.0 501,578.6 502,580.1 503,581.4 504,578.3 505,578.9 506,577.9 507,579.0 508,577.0 509,580.1 510,577.4 511,575.7 512,579.6 513,578.4 514,577.5 515,577.3 516,575.9 517,575.9 518,576.3 519,576.9 520,576.8 521,575.7 522,574.6 523,574.9 524,576.5 525,576.9 526,574.5 527,574.3 528,576.6 529,575.9 530,575.9 531,573.3 532,574.6 533,574.6 534,575.6 535,573.3 536,577.3 537,576.1 538,576.5 539,574.5 540,576.2 541,578.1 542,574.6 543,577.3 544,578.2 545,577.0 546,579.4 547,578.6 548,581.1 549,580.9 550,581.1 551,583.9 552,583.0 553,584.1 554,581.7 555,582.7 556,584.7 557,585.1 558,587.4 559,585.5 560,582.2 561,585.3 562,584.0 563,585.9 564,585.2 565,585.2 566,586.2 567,588.3 568,585.4 569,586.0 570,588.0 571,586.6 572,589.1 573,587.7 574,587.7 575,588.2 576,589.9 577,588.9 578,589.0 579,589.0 580,587.3 581,588.3 582,590.9 583,590.5 584,590.4 585,590.8 586,589.9 587,591.0 588,590.0 589,591.6 590,590.7 591,591.5 592,592.4 593,591.8 594,593.0 595,593.1 596,591.6 597,594.3 598,591.9 599,592.0 600,594.3 601,594.8 602,595.9 603,594.9 604,595.2 605,593.8 606,595.4 607,595.4 608,594.0 609,594.3 610,594.7 611,595.6 612,592.9 613,595.6 614,595.9 615,595.6 616,596.1 617,596.4 618,595.2 619,596.6 620,596.1 621,595.6 622,596.7 623,597.9 624,595.4 625,595.4 626,595.4 627,598.6 628,596.8 629,597.1 630,596.5 631,596.5 632,595.7 633,597.6 634,597.7 635,596.0 636,596.8 637,597.1 638,597.8 639,598.1 640,598.9 641,599.2 642,599.0 643,599.3 644,597.4 645,597.9 646,599.4 647,598.8 648,598.6 649,597.1 650,597.3 651,599.4 652,598.3 653,598.7 654,598.7 655,597.7 656,599.4 657,600.0 658,600.5 659,599.3 660,599.1 661,598.5 662,600.3 663,600.7 664,599.1 665,599.7 666,599.6 667,599.1 668,597.7 669,599.4 670,600.2 671,598.6 672,599.1 673,597.3 674,600.8 675,600.3 676,600.0 677,599.8 678,599.5 679,600.0 680,599.9 681,599.9 682,600.1 683,600.3 684,601.4 685,599.2 686,600.5 687,599.9 688,599.5 689,598.6 690,600.9 691,599.7 692,600.0 693,600.9 694,599.8 695,600.6 696,600.6 697,601.3 698,601.5 699,600.1 700,601.4 701,600.7 702,600.9 703,600.7 704,601.5 705,600.0 706,601.1 707,601.8 708,600.8 709,602.5 710,600.5 711,601.3 712,600.8 713,600.7 714,600.4 715,600.8 716,601.2 717,600.7 718,601.9 719,601.7 720,600.2 721,601.9 722,601.5 723,601.6 724,603.2 725,602.3 726,601.7 727,601.6 728,600.0 729,602.1 730,601.0 731,601.7 732,601.6 733,602.3 734,603.0 735,602.3 736,602.5 737,601.5 738,602.0 739,602.2 740,600.7 741,603.1 742,601.2 743,600.8 744,602.9 745,603.2 746,601.3 747,601.3 748,603.9 749,601.9 750,600.4 751,601.4 752,603.2 753,602.3 754,602.3 755,602.7 756,602.3 757,601.6 758,600.7 759,602.1 760,601.0 761,601.8 762,603.0 763,602.2 764,601.8 765,601.8 766,602.3 767,602.4 768,600.9 769,601.9 770,603.0 771,602.3 772,601.2 773,601.3 774,600.3 775,601.2 776,602.9 777,601.7 778,601.1 779,601.3 780,601.6 781,601.6 782,601.4 783,601.1 784,602.1 785,602.7 786,601.3 787,601.3 788,602.5 789,600.6 790,601.2 791,601.3 792,601.7 793,601.4 794,600.9 795,601.8 796,600.7 797,600.3 798,600.1 799,602.0 800,600.3 801,601.8 802,601.9 803,602.0 804,601.3 805,601.0 806,601.5 807,601.0 808,600.5 809,602.3 810,600.7 811,602.6 812,601.7 813,601.0 814,601.6 815,602.1 816,600.3 817,600.6 818,600.5 819,601.3 820,601.5 821,601.2 822,600.6 823,600.7 824,602.0 825,601.9 826,601.2 827,600.1 828,601.5 829,601.2 830,601.2 831,602.2 832,601.6 833,600.2 834,600.2 835,601.9 836,601.0 837,601.5 838,600.8 839,600.1 840,601.0 841,602.0 842,600.4 843,600.2 844,600.5 845,600.4 846,600.9 847,601.5 848,602.2 849,600.9 850,600.4 851,600.7 852,600.6 853,600.3 854,600.6 855,600.6 856,599.7 857,600.9 858,600.2 859,599.7 860,600.8 861,600.0 862,601.7 863,600.7 864,600.4 865,599.7 866,600.0 867,600.9 868,599.7 869,600.7 870,598.5 871,600.2 872,600.7 873,600.3 874,600.0 875,600.7 876,599.2 877,599.2 878,599.9 879,600.7 880,600.0 881,599.5 882,599.8 883,599.9 884,598.5 885,597.3 886,598.6 887,598.1 888,598.8 889,598.2 890,598.4 891,599.3 892,598.9 893,598.7 894,599.9 895,598.1 896,598.0 897,599.2 898,597.2 899,596.6 900,598.9 901,597.9 902,598.0 903,597.9 904,598.0 905,596.7 906,596.9 907,595.9 908,595.9 909,596.9 910,596.1 911,597.0 912,598.8 913,595.2 914,596.7 915,596.7 916,596.7 917,594.9 918,596.5 919,595.9 920,595.1 921,594.8 922,595.2 923,595.7 924,595.5 925,596.7 926,594.2 927,595.0 928,594.0 929,595.1 930,592.7 931,593.7 932,593.0 933,593.5 934,594.4 935,595.5 936,594.8 937,592.9 938,593.6 939,594.0 940,593.8 941,594.0 942,594.6 943,594.1 944,593.2 945,592.0 946,593.5 947,592.2 948,593.6 949,594.0 950,592.5 951,593.6 952,593.4 953,595.5 954,594.2 955,592.1 956,594.3 957,594.3 958,593.8 959,593.7 960,593.0 961,594.8 962,594.7 963,593.5 964,594.3 965,593.3 966,593.4 967,594.4 968,594.0 969,594.7 970,597.3 971,595.7 972,594.6 973,593.6 974,594.9 975,594.5 976,593.9 977,596.5 978,595.6 979,596.4 980,598.7 981,596.5 982,596.5 983,596.8 984,596.4 985,596.0 986,596.7 987,597.9 988,596.8 989,596.1 990,596.3 991,596.6 992,597.5 993,598.0 994,598.1 995,598.7 996,597.8 997,598.6 998,598.3 999,598.7 1000,596.8 1001,599.2 1002,597.2 1003,597.5 1004,599.0 1005,598.2 1006,599.9 1007,598.7 1008,597.9 1009,598.8 1010,598.4 1011,599.9 1012,600.0 1013,599.4 1014,598.6 1015,599.0 1016,599.8 1017,598.4 1018,598.5 1019,599.7 1020,599.7 1021,599.0 1022,599.0 1023,596.6 1024,600.1 1025,599.2 1026,598.3 1027,598.5 1028,598.7 1029,600.6 1030,599.9 1031,598.4 1032,600.7 1033,601.6 1034,598.6 1035,597.4 1036,600.1 1037,599.0 1038,599.3 1039,599.0 1040,600.3 1041,600.5 1042,600.0 1043,599.3 1044,599.6 1045,599.5 1046,598.2 1047,600.3 1048,599.1 1049,599.5 1050,599.4 1051,600.0 1052,600.1 1053,601.0 1054,599.0 1055,598.6 1056,599.4 1057,598.7 1058,599.9 1059,598.6 1060,599.3 1061,599.9 1062,600.0 1063,599.3 1064,600.3 1065,600.1 1066,597.8 1067,599.4 1068,599.2 1069,598.8 1070,598.5 1071,599.1 1072,599.3 1073,599.2 1074,600.1 1075,599.8 1076,598.5 1077,598.3 1078,599.6 1079,598.3 1080,599.0 1081,599.2 1082,599.7 1083,599.2 1084,598.7 1085,598.3 1086,599.2 1087,598.1 1088,598.7 1089,598.6 1090,597.7 1091,596.2 1092,599.2 1093,598.6 1094,598.4 1095,597.6 1096,597.8 1097,598.4 1098,598.0 1099,598.9 1100,597.9 1101,597.0 1102,598.2 1103,597.1 1104,597.8 1105,595.9 1106,597.1 1107,597.9 1108,596.8 1109,597.3 1110,597.8 1111,597.3 1112,598.8 1113,596.9 1114,597.0 1115,597.0 1116,595.3 1117,595.7 1118,597.6 1119,596.8 1120,598.4 1121,597.1 1122,597.0 1123,598.1 1124,597.5 1125,598.7 1126,596.3 1127,597.7 1128,597.9 1129,597.9 1130,598.4 1131,598.4 1132,597.5 1133,597.0 1134,598.4 1135,597.6 1136,598.5 1137,598.9 1138,597.9 1139,596.9 1140,597.6 1141,598.6 1142,597.7 1143,599.1 1144,598.1 1145,598.2 1146,597.6 1147,598.1 1148,599.2 1149,598.0 1150,598.0 1151,597.7 1152,599.1 1153,597.1 1154,597.9 1155,599.4 1156,599.9 1157,598.5 1158,599.7 1159,597.1 1160,599.6 1161,599.3 1162,598.0 1163,597.6 1164,598.8 1165,599.6 1166,599.7 1167,599.6 1168,600.3 1169,600.3 1170,598.5 1171,599.5 1172,599.5 1173,600.9 1174,599.7 1175,601.1 1176,600.4 1177,602.4 1178,600.4 1179,600.6 1180,600.6 1181,600.9 1182,602.9 1183,600.5 1184,600.3 1185,600.9 1186,601.7 1187,600.4 1188,602.0 1189,602.0 1190,601.3 1191,601.4 1192,601.0 1193,601.5 1194,601.2 1195,603.0 1196,603.4 1197,601.9 1198,602.2 1199,600.8 1200,602.0 1201,602.8 1202,602.8 1203,602.8 1204,603.5 1205,603.0 1206,602.7 1207,604.3 1208,601.7 1209,602.4 1210,602.8 1211,602.9 1212,602.9 1213,603.5 1214,603.2 1215,603.8 1216,604.3 1217,604.0 1218,604.2 1219,603.4 1220,603.4 1221,604.1 1222,605.1 1223,604.7 1224,605.3 1225,605.3 1226,605.5 1227,605.0 1228,605.7 1229,605.4 1230,606.4 1231,605.4 1232,605.2 1233,604.9 1234,605.2 1235,603.9 1236,604.9 1237,605.1 1238,605.9 1239,604.7 1240,605.3 1241,606.5 1242,604.8 1243,605.8 1244,604.9 1245,605.2 1246,605.6 1247,605.9 1248,604.9 1249,604.6 1250,606.4 1251,605.5 1252,606.3 1253,606.0 1254,605.9 1255,604.9 1256,605.3 1257,604.3 1258,605.5 1259,605.1 1260,605.4 1261,606.8 1262,605.9 1263,605.5 1264,604.5 1265,606.0 1266,606.5 1267,604.9 1268,605.8 1269,605.1 1270,605.4 1271,605.3 1272,604.4 1273,605.2 1274,604.4 1275,606.5 1276,606.3 1277,605.3 1278,605.8 1279,605.6 1280,605.7 1281,605.7 1282,605.4 1283,605.5 1284,604.7 1285,604.9 1286,605.2 1287,605.8 1288,605.6 1289,607.0 1290,605.5 1291,605.4 1292,606.0 1293,606.4 1294,607.0 1295,606.4 1296,605.3 1297,605.6 1298,606.4 1299,605.9 1300,606.3 1301,605.7 1302,606.8 1303,606.7 1304,606.5 1305,605.9 1306,604.6 1307,604.8 1308,606.0 1309,606.2 1310,603.8 1311,606.2 1312,606.6 1313,606.5 1314,605.5 1315,606.3 1316,605.8 1317,607.0 1318,606.6 1319,606.6 1320,605.5 1321,605.2 1322,604.9 1323,604.9 1324,606.8 1325,607.2 1326,606.0 1327,606.6 1328,605.4 1329,605.8 1330,606.5 1331,606.1 1332,605.9 1333,604.8 1334,604.9 1335,605.6 1336,605.5 1337,605.9 1338,605.5 1339,605.8 1340,606.0 1341,606.3 1342,606.0 1343,605.6 1344,605.8 1345,606.6 1346,605.8 1347,605.3 1348,605.3 1349,606.1 1350,606.3 1351,606.8 1352,605.7 1353,606.9 1354,605.4 1355,605.8 1356,605.6 1357,606.3 1358,608.5 1359,606.0 1360,605.6 1361,604.9 1362,606.1 1363,605.7 1364,605.8 1365,605.6 1366,605.4 1367,605.7 1368,606.3 1369,606.6 1370,606.0 1371,606.2 1372,605.9 1373,605.9 1374,605.1 1375,606.6 1376,606.4 1377,607.0 1378,605.6 1379,606.1 1380,605.4 1381,606.2 1382,605.9 1383,606.5 1384,605.9 1385,606.4 1386,605.7 1387,606.4 1388,605.8 1389,606.8 1390,606.1 1391,606.3 1392,605.1 1393,605.0 1394,606.1 1395,606.0 1396,604.6 1397,604.9 1398,606.1 1399,606.2 1400,606.2 1401,606.7 1402,606.8 1403,607.6 1404,605.0 1405,606.0 1406,606.7 1407,605.2 1408,605.1 1409,606.2 1410,606.8 1411,606.9 1412,604.8 1413,605.2 1414,606.0 1415,605.7 1416,606.2 1417,606.1 1418,607.2 1419,606.0 1420,606.1 1421,606.1 1422,606.8 1423,605.3 1424,606.3 1425,605.5 1426,605.1 1427,606.8 1428,606.4 1429,607.0 1430,606.2 1431,606.5 1432,606.1 1433,606.4 1434,605.7 1435,607.2 1436,605.4 1437,607.2 1438,605.9 1439,606.6 1440,606.1 1441,606.3 1442,607.0 1443,606.1 1444,605.4 1445,606.2 1446,606.5 1447,604.4 1448,606.7 1449,606.8 1450,604.8 1451,605.9 1452,606.6 1453,605.2 1454,605.7 1455,605.8 1456,606.4 1457,606.8 1458,606.0 1459,606.1 1460,606.7 1461,606.4 1462,606.0 1463,607.0 1464,605.1 1465,606.1 1466,605.7 1467,605.7 1468,606.2 1469,606.1 1470,607.7 1471,606.5 1472,606.3 1473,607.2 1474,606.7 1475,604.8 1476,606.1 1477,606.5 1478,605.6 1479,606.2 1480,605.7 1481,606.3 1482,604.9 1483,604.7 1484,605.7 1485,606.2 1486,606.9 1487,605.8 1488,605.5 1489,606.7 1490,606.1 1491,607.3 1492,606.4 1493,604.7 1494,605.5 1495,605.4 1496,605.1 1497,605.5 1498,605.5 1499,605.8 1500,605.6 1501,606.3 1502,606.3 1503,606.1 1504,606.2 1505,604.7 1506,604.9 1507,605.4 1508,606.2 1509,605.0 1510,605.7 1511,606.2 1512,607.4 1513,606.2 1514,605.6 1515,606.8 1516,606.2 1517,605.8 1518,606.8 1519,605.4 1520,606.1 1521,606.1 1522,606.6 1523,605.2 1524,605.1 1525,605.7 1526,605.8 1527,606.0 1528,605.7 1529,606.3 1530,606.5 1531,606.2 1532,605.3 1533,606.8 1534,604.9 1535,605.9 1536,606.6 1537,605.6 1538,606.9 1539,607.3 1540,607.1 1541,606.3 1542,606.7 1543,605.6 1544,606.3 1545,606.3 1546,606.1 1547,606.1 1548,605.8 1549,606.4 1550,606.3 1551,606.2 1552,607.4 1553,606.5 1554,606.0 1555,606.6 1556,606.4 1557,606.0 1558,605.7 1559,605.0 1560,606.1 1561,607.1 1562,604.7 1563,605.3 1564,606.5 1565,606.1 1566,606.3 1567,604.7 1568,605.6 1569,606.3 1570,606.4 1571,606.2 1572,605.4 1573,606.4 1574,605.2 1575,605.3 1576,605.2 1577,607.0 1578,605.7 1579,605.5 1580,604.5 1581,606.8 1582,606.3 1583,604.8 1584,604.9 1585,607.2 1586,605.3 1587,607.3 1588,605.7 1589,604.3 1590,606.8 1591,606.3 1592,606.5 1593,605.6 1594,605.8 1595,606.7 1596,605.4 1597,604.6 1598,606.6 1599,605.6 1600,606.7 1601,605.7 1602,605.7 1603,605.8 1604,604.3 1605,606.8 1606,605.5 1607,605.9 1608,607.0 1609,606.1 1610,606.6 1611,606.2 1612,606.5 1613,606.2 1614,606.8 1615,605.8 1616,606.3 1617,605.5 1618,606.8 1619,604.5 1620,606.1 1621,606.2 1622,606.2 1623,606.0 1624,606.9 1625,607.5 1626,605.6 1627,604.7 1628,605.2 1629,605.4 1630,605.9 1631,606.0 1632,606.7 1633,605.7 1634,606.0 1635,606.1 1636,605.4 1637,605.8 1638,607.9 1639,607.1 1640,605.3 1641,604.5 1642,606.7 1643,605.8 1644,605.5 1645,607.7 1646,607.0 1647,604.8 1648,605.7 1649,606.7 1650,606.6"/>
<polyline fill="none" stroke="#ff00ff" stroke-width="9" stroke-linejoin="round" points="109,691.1 110,691.6 111,688.6 112,690.3 113,691.1 114,691.4 115,690.9 116,691.0 117,690.6 118,690.8 119,690.6 120,689.7 121,689.9 122,690.7 123,690.1 124,691.4 125,691.4 126,691.8 127,690.5 128,691.5 129,689.9 130,689.9 131,690.6 132,690.7 133,689.4 134,689.3 135,690.8 136,690.0 137,691.4 138,690.9 139,690.8 140,690.7 141,691.2 142,690.5 143,691.4 144,690.2 145,690.5 146,690.1 147,691.1 148,690.7 149,690.0 150,692.1 151,690.4 152,690.6 153,690.9 154,691.9 155,690.6 156,691.2 157,690.8 158,689.7 159,691.3 160,691.4 161,690.5 162,690.7 163,689.6 164,689.6 165,690.4 166,691.2 167,690.4 168,690.9 169,691.4 170,690.8 171,691.1 172,691.8 173,689.9 174,691.3 175,689.4 176,691.1 177,690.9 178,690.4 179,690.0 180,690.7 181,690.5 182,690.8 183,690.1 184,691.2 185,690.1 186,690.6 187,690.5 188,691.7 189,689.7 190,690.5 191,691.6 192,690.3 193,689.9 194,691.0 195,690.6 196,691.4 197,690.2 198,691.0 199,690.7 200,691.6 201,690.1 202,691.8 203,690.2 204,689.8 205,690.2 206,691.0 207,690.6 208,691.2 209,691.2 210,691.1 211,690.7 212,692.1 213,689.3 214,689.6 215,690.4 216,690.0 217,689.1 218,690.3 219,690.3 220,689.1 221,691.5 222,691.8 223,691.7 224,690.5 225,691.0 226,690.1 227,691.0 228,690.4 229,691.2 230,690.6 231,691.6 232,691.5 233,691.7 234,689.8 235,689.6 236,691.2 237,690.5 238,691.2 239,691.1 240,691.0 241,691.5 242,691.3 243,691.2 244,690.3 245,689.8 246,691.0 247,691.7 248,691.1 249,691.8 250,691.0 251,691.0 252,691.0 253,690.4 254,690.5 255,690.8 256,690.8 257,690.2 258,692.5 259,690.2 260,690.7 261,692.6 262,690.4 263,691.4 264,691.4 265,690.8 266,689.9 267,689.8 268,690.9 269,691.2 270,689.4 271,691.0 272,690.4 273,691.5 274,691.0 275,690.3 276,690.6 277,690.9 278,691.8 279,693.0 280,691.2 281,691.0 282,691.4 283,691.0 284,691.4 285,691.2 286,691.0 287,690.4 288,691.1 289,691.6 290,691.0 291,692.0 292,691.6 293,690.9 294,692.2 295,690.2 296,691.8 297,692.3 298,690.8 299,690.9 300,691.6 301,691.9 302,691.2 303,691.1 304,691.5 305,691.1 306,690.0 307,691.1 308,690.8 309,689.7 310,691.1 311,690.2 312,691.2 313,689.6 314,690.0 315,689.6 316,691.5 317,691.5 318,691.6 319,691.5 320,691.1 321,691.0 322,689.1 323,690.5 324,689.9 325,690.0 326,689.3 327,691.1 328,690.2 329,688.9 330,690.4 331,689.9 332,689.1 333,689.6 334,689.2 335,688.0 336,688.5 337,689.9 338,689.8 339,689.6 340,688.5 341,688.9 342,689.3 343,689.7 344,688.5 345,688.3 346,689.9 347,689.0 348,688.6 349,688.3 350,688.3 351,689.9 352,689.4 353,688.3 354,687.6 355,689.8 356,689.6 357,689.3 358,689.0 359,686.8 360,687.2 361,688.6 362,687.8 363,688.2 364,686.5 365,687.4 366,688.3 367,687.5 368,687.7 369,687.9 370,687.8 371,688.5 372,688.6 373,685.0 374,687.2 375,686.8 376,687.9 377,686.4 378,687.8 379,687.7 380,687.6 381,686.3 382,686.8 383,686.1 384,687.3 385,687.7 386,685.6 387,686.1 388,686.6 389,686.3 390,687.9 391,686.5 392,686.8 393,685.7 394,687.9 395,686.7 396,687.2 397,686.6 398,684.7 399,685.1 400,685.3 401,686.8 402,686.0 403,686.7 404,686.6 405,686.5 406,687.1 407,686.5 408,684.9 409,685.7 410,687.7 411,685.4 412,687.5 413,687.8 414,686.1 415,687.1 416,685.9 417,687.9 418,686.8 419,685.3 420,687.3 421,687.1 422,687.1 423,687.7 424,687.4 425,687.0 426,688.2 427,689.3 428,687.4 429,686.8 430,686.5 431,687.7 432,686.8 433,687.1 434,685.4 435,686.0 436,685.9 437,687.4 438,686.4 439,684.5 440,686.6 441,687.2 442,687.2 443,683.1 444,686.0 445,686.5 446,686.2 447,685.8 448,683.9 449,684.9 450,684.9 451,685.5 452,685.4 453,684.5 454,685.3 455,683.6 456,683.8 457,684.2 458,684.5 459,683.5 460,684.7 461,683.8 462,682.3 463,683.0 464,681.9 465,681.5 466,680.8 467,682.9 468,682.4 469,679.8 470,682.0 471,681.5 472,680.0 473,680.5 474,681.9 475,679.7 476,679.5 477,679.9 478,677.5 479,677.0 480,676.5 481,677.6 482,678.3 483,676.3 484,675.4 485,676.8 486,675.9 487,676.6 488,675.5 489,675.1 490,674.9 491,674.7 492,673.3 493,672.9 494,675.6 495,677.0 496,674.6 497,671.4 498,673.1 499,674.3 500,671.2 501,672.4 502,672.5 503,672.0 504,672.1 505,674.2 506,672.7 507,673.0 508,675.2 509,672.4 510,671.3 511,674.2 512,675.8 513,673.9 514,674.1 515,672.4 516,672.8 517,675.5 518,675.3 519,674.6 520,673.4 521,672.8 522,674.8 523,672.9 524,674.8 525,673.4 526,673.7 527,675.0 528,675.0 529,674.4 530,674.8 531,674.4 532,672.3 533,674.3 534,674.0 535,674.1 536,674.8 537,673.9 538,675.9 539,674.4 540,676.2 541,675.0 542,674.6 543,675.5 544,675.7 545,675.6 546,674.3 547,674.1 548,674.6 549,675.3 550,673.5 551,674.7 552,674.5 553,675.2 554,675.1 555,677.0 556,676.8 557,677.5 558,675.7 559,676.0 560,676.7 561,678.7 562,678.9 563,676.7 564,678.1 565,679.7 566,676.7 567,677.7 568,679.3 569,678.8 570,677.3 571,679.9 572,679.5 573,679.3 574,677.6 575,679.8 576,680.3 577,679.6 578,680.0 579,679.1 580,680.9 581,679.4 582,680.5 583,680.1 584,678.9 585,681.2 586,679.1 587,679.3 588,680.1 589,678.7 590,678.3 591,679.9 592,679.6 593,679.7 594,680.3 595,681.9 596,679.4 597,682.0 598,679.9 599,679.5 600,677.0 601,678.0 602,679.6 603,679.8 604,678.4 605,679.4 606,679.9 607,678.5 608,677.4 609,678.0 610,678.5 611,679.1 612,679.5 613,677.8 614,678.7 615,678.4 616,678.7 617,679.7 618,679.9 619,678.3 620,678.3 621,678.3 622,678.6 623,678.8 624,679.2 625,679.0 626,678.7 627,678.8 628,680.1 629,682.5 630,681.0 631,681.2 632,681.2 633,680.9 634,683.0 635,681.1 636,680.3 637,680.7 638,682.1 639,681.2 640,681.5 641,681.6 642,681.4 643,682.7 644,681.2 645,684.7 646,680.5 647,681.8 648,683.1 649,683.5 650,682.9 651,683.5 652,683.5 653,683.7 654,683.9 655,683.7 656,683.5 657,683.2 658,684.5 659,683.6 660,684.3 661,685.2 662,684.3 663,685.0 664,683.7 665,684.4 666,684.6 667,684.4 668,684.7 669,685.5 670,684.2 671,683.9 672,684.8 673,683.4 674,684.6 675,685.7 676,684.7 677,685.3 678,685.2 679,685.9 680,685.4 681,685.2 682,683.0 683,684.8 684,685.2 685,685.3 686,684.9 687,686.7 688,684.9 689,685.4 690,686.3 691,685.5 692,686.1 693,686.0 694,685.2 695,685.8 696,686.0 697,685.9 698,687.3 699,686.5 700,686.1 701,685.6 702,686.5 703,687.8 704,685.9 705,687.5 706,687.4 707,686.7 708,686.5 709,687.6 710,686.0 711,687.7 712,686.5 713,688.0 714,687.2 715,687.4 716,688.3 717,686.8 718,687.6 719,687.3 720,687.9 721,688.1 722,687.8 723,687.7 724,687.3 725,688.0 726,687.4 727,687.6 728,687.7 729,686.5 730,686.7 731,687.7 732,687.5 733,688.4 734,684.6 735,687.7 736,688.3 737,687.6 738,688.1 739,687.5 740,687.4 741,688.1 742,686.5 743,685.8 744,687.8 745,687.5 746,687.5 747,687.6 748,689.4 749,687.1 750,687.7 751,687.6 752,686.5 753,687.3 754,687.6 755,686.8 756,688.1 757,687.2 758,688.0 759,688.5 760,686.3 761,686.4 762,687.8 763,687.3 764,687.8 765,688.7 766,687.1 767,688.1 768,687.2 769,687.0 770,687.8 771,687.6 772,689.2 773,687.7 774,688.1 775,687.9 776,686.3 777,687.3 778,687.3 779,688.2 780,686.8 781,687.7 782,687.3 783,686.3 784,687.5 785,688.1 786,687.4 787,688.4 788,688.0 789,687.9 790,687.4 791,687.6 792,688.1 793,687.8 794,686.9 795,687.7 796,688.1 797,688.7 798,688.5 799,687.2 800,688.4 801,686.8 802,687.5 803,687.4 804,689.1 805,688.5 806,688.3 807,687.6 808,689.0 809,687.9 810,688.5 811,688.9 812,687.9 813,688.6 814,686.8 815,688.6 816,687.0 817,688.5 818,688.5 819,688.6 820,689.9 821,686.6 822,688.7 823,688.1 824,688.9 825,688.6 826,688.5 827,688.1 828,687.9 829,688.7 830,687.4 831,689.2 832,688.1 833,688.8 834,687.7 835,688.9 836,688.4 837,689.1 838,689.4 839,688.2 840,688.7 841,688.8 842,689.6 843,687.7 844,689.0 845,688.6 846,687.8 847,688.4 848,688.2 849,689.4 850,688.0 851,689.3 852,688.3 853,689.1 854,687.4 855,688.1 856,688.7 857,687.9 858,687.5 859,689.4 860,689.1 861,688.5 862,688.3 863,688.7 864,688.1 865,689.0 866,689.1 867,687.4 868,689.0 869,688.7 870,688.4 871,688.7 872,689.1 873,689.5 874,689.2 875,687.8 876,689.7 877,686.7 878,688.5 879,688.3 880,688.5 881,687.1 882,688.7 883,688.5 884,687.7 885,686.5 886,687.7 887,686.8 888,686.2 889,686.7 890,689.0 891,686.0 892,686.8 893,687.2 894,687.7 895,686.1 896,686.1 897,687.4 898,686.9 899,687.5 900,685.6 901,686.3 902,687.0 903,686.2 904,685.1 905,686.0 906,684.2 907,685.0 908,686.0 909,686.0 910,685.6 911,685.5 912,683.6 913,684.1 914,685.3 915,686.2 916,684.5 917,683.2 918,683.1 919,685.2 920,684.5 921,682.4 922,683.5 923,684.4 924,684.4 925,682.6 926,682.8 927,683.3 928,681.9 929,681.4 930,682.2 931,683.9 932,683.7 933,683.2 934,681.8 935,681.2 936,682.0 937,683.0 938,683.9 939,682.3 940,683.2 941,681.7 942,681.5 943,683.4 944,682.5 945,682.7 946,681.7 947,684.4 948,682.3 949,683.9 950,682.7 951,683.7 952,685.2 953,684.4 954,684.3 955,685.1 956,684.9 957,685.7 958,683.4 959,685.8 960,684.9 961,684.1 962,685.5 963,685.6 964,685.2 965,686.0 966,684.4 967,684.2 968,685.2 969,686.6 970,686.2 971,685.9 972,685.5 973,686.0 974,687.0 975,685.7 976,685.7 977,686.6 978,686.8 979,686.4 980,687.4 981,686.5 982,685.7 983,684.8 984,687.4 985,686.4 986,686.8 987,686.9 988,687.6 989,687.4 990,687.4 991,686.9 992,686.6 993,687.0 994,686.2 995,687.1 996,687.7 997,687.4 998,687.0 999,686.3 1000,687.1 1001,686.5 1002,686.7 1003,687.4 1004,687.4 1005,687.5 1006,687.8 1007,686.4 1008,687.0 1009,687.5 1010,688.3 1011,686.7 1012,686.2 1013,688.0 1014,687.7 1015,687.6 1016,687.1 1017,686.6 1018,687.3 1019,687.5 1020,687.7 1021,687.9 1022,687.4 1023,688.2 1024,687.1 1025,687.6 1026,687.4 1027,686.1 1028,686.6 1029,687.0 1030,687.5 1031,687.6 1032,688.3 1033,687.4 1034,687.2 1035,687.6 1036,686.5 1037,687.3 1038,686.7 1039,687.4 1040,686.9 1041,687.1 1042,688.7 1043,688.2 1044,689.1 1045,687.5 1046,687.2 1047,686.8 1048,687.3 1049,686.1 1050,685.6 1051,686.9 1052,686.3 1053,686.0 1054,686.6 1055,687.0 1056,687.2 1057,686.0 1058,687.2 1059,687.4 1060,688.8 1061,687.4 1062,687.8 1063,686.6 1064,687.1 1065,686.6 1066,686.5 1067,687.4 1068,686.9 1069,688.1 1070,687.0 1071,687.3 1072,686.1 1073,686.2 1074,687.5 1075,686.4 1076,687.9 1077,686.3 1078,686.2 1079,688.3 1080,685.5 1081,686.4 1082,687.2 1083,687.2 1084,685.9 1085,688.4 1086,686.4 1087,685.2 1088,687.4 1089,686.3 1090,686.7 1091,687.2 1092,685.9 1093,686.0 1094,686.5 1095,687.2 1096,685.4 1097,687.6 1098,686.7 1099,685.5 1100,686.4 1101,686.8 1102,687.3 1103,687.0 1104,687.2 1105,686.2 1106,686.9 1107,684.1 1108,687.0 1109,686.2 1110,687.5 1111,685.6 1112,685.7 1113,686.1 1114,686.7 1115,686.3 1116,686.8 1117,686.0 1118,686.8 1119,688.2 1120,686.9 1121,686.3 1122,684.5 1123,686.2 1124,686.6 1125,685.5 1126,686.5 1127,683.7 1128,684.9 1129,684.6 1130,685.9 1131,684.7 1132,684.5 1133,686.6 1134,683.9 1135,685.6 1136,686.1 1137,684.8 1138,684.2 1139,684.8 1140,684.4 1141,684.2 1142,685.1 1143,684.8 1144,687.6 1145,685.9 1146,684.9 1147,686.3 1148,686.2 1149,685.7 1150,684.6 1151,683.8 1152,686.1 1153,684.4 1154,684.6 1155,686.0 1156,684.5 1157,685.5 1158,684.0 1159,684.4 1160,684.0 1161,686.2 1162,682.8 1163,684.0 1164,683.3 1165,683.4 1166,684.3 1167,683.3 1168,684.9 1169,685.4 1170,683.4 1171,682.9 1172,683.5 1173,685.5 1174,683.9 1175,682.0 1176,684.8 1177,683.9 1178,684.7 1179,684.5 1180,683.0 1181,685.3 1182,685.1 1183,683.9 1184,682.5 1185,683.7 1186,683.9 1187,685.7 1188,684.7 1189,685.0 1190,685.6 1191,686.2 1192,686.2 1193,686.3 1194,687.1 1195,685.3 1196,686.9 1197,686.5 1198,688.8 1199,688.4 1200,686.9 1201,688.3 1202,686.1 1203,686.9 1204,687.7 1205,688.3 1206,687.3 1207,688.4 1208,689.5 1209,687.3 1210,687.6 1211,687.2 1212,689.8 1213,688.1 1214,688.8 1215,688.5 1216,689.3 1217,690.2 1218,689.7 1219,689.8 1220,691.1 1221,689.2 1222,690.2 1223,690.1 1224,689.5 1225,691.0 1226,691.9 1227,689.7 1228,692.5 1229,690.6 1230,690.7 1231,688.9 1232,691.0 1233,690.9 1234,690.9 1235,691.7 1236,691.1 1237,691.5 1238,690.8 1239,690.5 1240,691.4 1241,691.8 1242,691.9 1243,691.5 1244,690.9 1245,691.5 1246,691.3 1247,690.6 1248,691.8 1249,691.4 1250,690.7 1251,691.4 1252,692.0 1253,692.7 1254,690.3 1255,691.4 1256,692.1 1257,692.5 1258,692.3 1259,691.0 1260,691.4 1261,691.7 1262,691.2 1263,691.0 1264,690.9 1265,693.7 1266,691.9 1267,691.7 1268,692.4 1269,691.9 1270,691.8 1271,692.1 1272,691.4 1273,691.7 1274,692.7 1275,692.5 1276,691.2 1277,693.1 1278,691.5 1279,690.9 1280,692.6 1281,692.6 1282,692.4 1283,691.4 1284,693.0 1285,692.5 1286,692.4 1287,692.4 1288,692.7 1289,693.8 1290,691.9 1291,692.5 1292,692.3 1293,692.9 1294,691.7 1295,692.2 1296,692.1 1297,691.3 1298,692.2 1299,693.1 1300,692.6 1301,693.2 1302,692.7 1303,691.9 1304,692.8 1305,691.2 1306,693.3 1307,692.2 1308,693.6 1309,691.5 1310,691.8 1311,692.2 1312,692.3 1313,691.4 1314,691.6 1315,692.9 1316,691.9 1317,693.2 1318,693.7 1319,691.5 1320,692.3 1321,693.8 1322,693.3 1323,691.6 1324,692.9 1325,693.8 1326,691.1 1327,692.9 1328,693.4 1329,692.3 1330,692.2 1331,693.2 1332,691.5 1333,693.1 1334,692.7 1335,692.8 1336,691.6 1337,693.8 1338,692.7 1339,693.1 1340,692.1 1341,692.7 1342,693.5 1343,691.7 1344,691.8 1345,691.3 1346,693.1 1347,693.1 1348,691.3 1349,693.0 1350,692.8 1351,694.1 1352,692.0 1353,693.0 1354,692.5 1355,694.1 1356,693.1 1357,692.0 1358,693.1 1359,692.7 1360,692.1 1361,693.1 1362,692.9 1363,692.0 1364,692.5 1365,692.4 1366,693.5 1367,692.7 1368,692.6 1369,693.0 1370,692.8 1371,692.0 1372,693.3 1373,692.3 1374,693.9 1375,693.3 1376,693.8 1377,692.6 1378,693.0 1379,692.4 1380,692.6 1381,692.1 1382,693.9 1383,692.1 1384,694.1 1385,692.6 1386,692.2 1387,693.8 1388,693.0 1389,692.3 1390,693.1 1391,692.7 1392,692.4 1393,692.9 1394,693.6 1395,692.7 1396,692.9 1397,693.5 1398,692.8 1399,692.6 1400,692.0 1401,692.9 1402,692.6 1403,692.7 1404,693.5 1405,693.5 1406,692.9 1407,692.5 1408,693.0 1409,693.1 1410,693.1 1411,691.9 1412,693.1 1413,692.2 1414,693.1 1415,693.2 1416,693.0 1417,693.7 1418,692.9 1419,693.1 1420,692.3 1421,692.8 1422,692.7 1423,692.9 1424,692.8 1425,691.3 1426,693.5 1427,693.4 1428,691.4 1429,693.1 1430,693.6 1431,693.4 1432,693.4 1433,692.8 1434,692.5 1435,694.2 1436,693.2 1437,694.1 1438,692.9 1439,693.6 1440,693.5 1441,693.5 1442,692.1 1443,694.6 1444,693.1 1445,692.7 1446,693.1 1447,691.7 1448,693.9 1449,692.7 1450,693.1 1451,693.1 1452,691.7 1453,692.7 1454,693.8 1455,692.4 1456,693.1 1457,693.6 1458,694.0 1459,692.4 1460,693.7 1461,693.4 1462,693.3 1463,693.6 1464,693.5 1465,692.3 1466,693.3 1467,692.6 1468,693.2 1469,692.7 1470,694.0 1471,693.6 1472,693.3 1473,692.5 1474,693.3 1475,692.2 1476,692.4 1477,691.8 1478,693.6 1479,692.6 1480,693.6 1481,693.5 1482,693.7 1483,692.7 1484,694.0 1485,693.8 1486,692.1 1487,693.2 1488,692.4 1489,692.9 1490,693.8 1491,693.2 1492,694.1 1493,693.4 1494,693.5 1495,694.1 1496,693.8 1497,693.5 1498,693.9 1499,693.8 1500,692.0 1501,692.3 1502,693.0 1503,693.7 1504,692.5 1505,691.8 1506,692.9 1507,692.6 1508,692.7 1509,691.3 1510,693.5 1511,693.4 1512,691.1 1513,692.3 1514,692.8 1515,693.2 1516,693.0 1517,693.4 1518,693.1 1519,692.4 1520,694.1 1521,693.2 1522,692.4 1523,693.3 1524,692.9 1525,692.7 1526,692.5 1527,691.9 1528,692.3 1529,692.1 1530,691.6 1531,693.3 1532,693.2 1533,692.8 1534,692.2 1535,692.4 1536,694.0 1537,692.3 1538,693.5 1539,693.2 1540,693.3 1541,692.6 1542,692.8 1543,692.9 1544,692.2 1545,693.9 1546,692.4 1547,693.1 1548,694.2 1549,694.0 1550,692.5 1551,693.3 1552,693.7 1553,691.6 1554,694.4 1555,693.3 1556,692.7 1557,692.9 1558,691.4 1559,693.4 1560,694.1 1561,692.8 1562,694.1 1563,693.4 1564,692.0 1565,693.3 1566,691.5 1567,691.6 1568,694.6 1569,693.4 1570,692.9 1571,692.9 1572,691.9 1573,693.7 1574,691.0 1575,692.8 1576,695.5 1577,693.1 1578,692.9 1579,694.4 1580,693.2 1581,692.6 1582,694.0 1583,692.9 1584,692.4 1585,692.7 1586,693.0 1587,693.6 1588,693.9 1589,692.1 1590,693.9 1591,692.5 1592,692.7 1593,691.2 1594,694.1 1595,693.4 1596,692.8 1597,692.9 1598,693.7 1599,693.0 1600,690.9 1601,693.6 1602,693.0 1603,693.1 1604,693.0 1605,693.6 1606,693.1 1607,694.6 1608,693.1 1609,692.5 1610,693.1 1611,691.8 1612,692.9 1613,692.5 1614,692.3 1615,693.6 1616,693.2 1617,692.3 1618,692.5 1619,693.2 1620,694.6 1621,692.9 1622,692.9 1623,693.3 1624,692.1 1625,692.9 1626,693.5 1627,693.3 1628,693.2 1629,692.1 1630,693.0 1631,694.0 1632,694.9 1633,693.7 1634,692.6 1635,692.7 1636,692.9 1637,694.5 1638,692.0 1639,692.8 1640,691.8 1641,692.7 1642,692.8 1643,693.6 1644,693.6 1645,693.1 1646,692.8 1647,692.7 1648,694.1 1649,692.9 1650,692.2"/>
<polyline fill="none" stroke="#0000ff" stroke-width="9" stroke-linejoin="round" points="109,775.3 110,775.4 111,775.0 112,774.4 113,774.6 114,774.0 115,774.7 116,775.5 117,774.0 118,773.8 119,774.5 120,774.4 121,774.1 122,773.3 123,773.9 124,774.4 125,772.8 126,773.4 127,773.5 128,772.7 129,772.2 130,773.4 131,772.5 132,773.7 133,773.5 134,773.2 135,771.4 136,772.9 137,773.2 138,773.3 139,772.0 140,772.7 141,772.3 142,772.4 143,773.8 144,772.2 145,772.8 146,773.4 147,772.2 148,772.5 149,772.6 150,772.5 151,771.4 152,772.3 153,773.2 154,770.7 155,772.6 156,771.8 157,771.1 158,773.1 159,772.0 160,770.2 161,771.1 162,771.4 163,770.7 164,771.3 165,770.5 166,769.6 167,771.5 168,769.6 169,770.2 170,769.5 171,769.9 172,768.7 173,768.7 174,769.3 175,770.1 176,770.2 177,767.9 178,768.2 179,769.4 180,766.9 181,768.2 182,768.4 183,769.5 184,768.9 185,767.8 186,767.7 187,767.6 188,769.2 189,767.2 190,767.2 191,767.7 192,767.2 193,767.0 194,766.0 195,766.9 196,766.4 197,767.8 198,767.2 199,767.6 200,767.0 201,766.0 202,766.9 203,766.0 204,766.5 205,764.6 206,766.0 207,764.0 208,763.5 209,765.1 210,764.4 211,765.3 212,767.2 213,764.1 214,764.2 215,764.9 216,765.1 217,764.4 218,764.0 219,765.1 220,764.8 221,763.2 222,764.1 223,764.1 224,762.9 225,763.8 226,763.0 227,764.8 228,763.9 229,763.8 230,763.0 231,763.4 232,761.5 233,762.3 234,763.7 235,761.2 236,764.1 237,761.4 238,763.9 239,762.2 240,763.8 241,763.1 242,761.4 243,764.2 244,764.3 245,762.8 246,762.5 247,762.6 248,761.8 249,763.8 250,762.2 251,762.7 252,761.9 253,762.1 254,761.4 255,764.0 256,762.6 257,763.7 258,762.8 259,762.1 260,762.5 261,762.3 262,762.9 263,762.6 264,762.7 265,761.7 266,762.3 267,764.7 268,762.5 269,762.2 270,763.6 271,764.6 272,761.9 273,763.2 274,762.8 275,761.8 276,764.2 277,763.5 278,763.7 279,762.9 280,764.1 281,763.2 282,763.6 283,762.7 284,762.7 285,765.1 286,763.4 287,764.2 288,763.9 289,763.5 290,764.6 291,764.6 292,763.8 293,763.9 294,763.4 295,765.2 296,764.7 297,762.6 298,763.7 299,763.0 300,765.1 301,765.1 302,764.2 303,764.8 304,765.1 305,765.2 306,765.3 307,764.1 308,765.9 309,763.5 310,765.4 311,765.1 312,765.5 313,766.4 314,766.1 315,763.9 316,763.5 317,765.7 318,764.2 319,765.2 320,766.0 321,764.0 322,763.6 323,765.7 324,765.6 325,765.4 326,765.7 327,765.1 328,764.1 329,765.8 330,765.2 331,764.8 332,766.6 333,766.2 334,766.6 335,765.6 336,765.9 337,765.7 338,765.8 339,766.7 340,766.0 341,766.9 342,766.9 343,768.3 344,765.7 345,767.5 346,766.7 347,766.8 348,765.8 349,766.6 350,767.5 351,766.9 352,767.1 353,766.8 354,768.0 355,767.1 356,765.5 357,766.6 358,765.7 359,764.8 360,766.9 361,768.3 362,767.4 363,766.5 364,766.7 365,768.3 366,767.6 367,767.6 368,767.5 369,767.6 370,768.3 371,768.1 372,767.9 373,767.1 374,768.3 375,767.4 376,768.8 377,767.1 378,768.0 379,768.2 380,767.3 381,769.5 382,769.4 383,768.1 384,769.0 385,768.8 386,766.7 387,768.8 388,768.6 389,768.8 390,768.0 391,768.6 392,768.6 393,769.6 394,769.0 395,768.7 396,769.9 397,768.4 398,768.5 399,767.5 400,769.9 401,769.4 402,769.4 403,769.2 404,768.8 405,768.8 406,768.4 407,768.4 408,768.6 409,769.6 410,768.9 411,768.4 412,768.0 413,767.9 414,769.9 415,768.6 416,768.3 417,767.9 418,767.3 419,768.0 420,768.7 421,767.7 422,767.8 423,767.7 424,767.9 425,766.6 426,767.5 427,767.0 428,768.3 429,767.0 430,767.9 431,768.6 432,767.1 433,766.9 434,767.4 435,767.2 436,766.3 437,767.3 438,768.4 439,766.6 440,766.6 441,765.8 442,766.8 443,765.4 444,765.4 445,767.2 446,765.4 447,766.9 448,767.1 449,766.0 450,766.1 451,767.1 452,765.3 453,764.9 454,764.2 455,765.2 456,766.3 457,765.8 458,764.1 459,764.0 460,762.4 461,764.8 462,764.3 463,764.5 464,764.5 465,763.8 466,763.9 467,764.0 468,763.7 469,764.1 470,765.1 471,763.9 472,763.3 473,761.7 474,763.4 475,761.2 476,761.6 477,763.5 478,763.2 479,762.4 480,760.9 481,762.0 482,761.6 483,762.7 484,764.1 485,762.1 486,761.2 487,760.7 488,761.7 489,761.5 490,760.5 491,761.6 492,760.4 493,762.4 494,762.3 495,762.3 496,760.8 497,761.7 498,761.1 499,760.8 500,760.8 501,759.8 502,759.7 503,761.7 504,760.8 505,761.1 506,761.8 507,759.2 508,760.1 509,760.9 510,761.1 511,760.3 512,761.6 513,760.8 514,759.5 515,759.7 516,761.3 517,760.9 518,758.7 519,761.7 520,761.4 521,761.6 522,759.9 523,760.0 524,759.2 525,762.5 526,760.0 527,761.6 528,759.4 529,760.2 530,758.4 531,759.5 532,760.8 533,758.6 534,760.7 535,760.0 536,758.6 537,759.1 538,759.1 539,759.4 540,758.9 541,758.5 542,759.0 543,758.2 544,757.9 545,759.0 546,759.8 547,757.5 548,758.9 549,758.2 550,757.8 551,759.5 552,758.1 553,760.0 554,757.7 555,758.8 556,758.2 557,757.6 558,758.8 559,758.1 560,758.7 561,758.0 562,757.0 563,757.9 564,758.0 565,758.8 566,756.9 567,758.3 568,755.9 569,758.1 570,756.3 571,755.4 572,757.0 573,757.9 574,755.0 575,755.2 576,755.2 577,754.3 578,755.4 579,753.5 580,752.9 581,753.4 582,751.0 583,751.2 584,749.9 585,746.9 586,745.0 587,746.3 588,745.5 589,746.3 590,746.6 591,747.8 592,748.9 593,752.3 594,750.2 595,750.8 596,752.4 597,753.0 598,755.9 599,756.7 600,755.4 601,755.4 602,756.9 603,758.9 604,755.0 605,758.6 606,757.2 607,759.4 608,757.5 609,758.4 610,757.4 611,758.0 612,760.3 613,759.9 614,758.7 615,758.3 616,757.4 617,758.8 618,759.2 619,759.1 620,759.1 621,758.1 622,759.1 623,759.0 624,760.3 625,760.8 626,758.7 627,758.0 628,758.6 629,758.0 630,757.8 631,758.9 632,757.2 633,758.7 634,757.9 635,758.0 636,757.3 637,756.5 638,755.8 639,756.0 640,754.9 641,754.8 642,753.5 643,750.7 644,751.2 645,748.8 646,749.9 647,751.2 648,750.5 649,754.4 650,755.7 651,756.4 652,756.9 653,757.6 654,757.5 655,758.6 656,758.7 657,759.6 658,758.5 659,759.8 660,760.2 661,760.0 662,759.8 663,760.8 664,758.7 665,760.8 666,760.5 667,760.5 668,760.4 669,759.2 670,759.4 671,760.0 672,759.4 673,758.7 674,756.3 675,757.7 676,757.5 677,756.3 678,754.1 679,750.4 680,751.6 681,748.2 682,742.9 683,744.5 684,740.0 685,738.7 686,739.0 687,742.0 688,741.0 689,743.8 690,748.1 691,750.4 692,750.6 693,752.7 694,753.5 695,755.9 696,758.6 697,759.8 698,760.6 699,762.4 700,761.5 701,762.8 702,764.2 703,764.5 704,765.4 705,765.2 706,764.9 707,765.8 708,764.9 709,764.6 710,766.8 711,766.5 712,767.0 713,765.4 714,766.7 715,766.7 716,766.6 717,765.6 718,767.3 719,768.4 720,768.1 721,767.4 722,768.0 723,768.7 724,765.9 725,768.1 726,768.7 727,768.9 728,769.8 729,769.4 730,768.8 731,768.8 732,769.3 733,768.2 734,768.7 735,769.5 736,770.4 737,768.7 738,768.9 739,769.1 740,770.1 741,767.8 742,770.2 743,768.3 744,769.0 745,769.0 746,769.8 747,770.0 748,768.0 749,768.5 750,769.6 751,768.8 752,768.1 753,770.2 754,769.8 755,769.8 756,769.1 757,770.3 758,769.3 759,770.4 760,768.8 761,768.9 762,769.7 763,769.0 764,770.2 765,769.8 766,768.9 767,769.7 768,769.4 769,770.5 770,769.2 771,769.7 772,770.7 773,771.6 774,771.4 775,769.9 776,770.0 777,771.1 778,769.8 779,769.1 780,770.0 781,770.3 782,769.3 783,768.7 784,768.9 785,770.6 786,769.5 787,770.0 788,770.3 789,770.6 790,769.9 791,770.6 792,769.5 793,769.9 794,769.4 795,771.2 796,770.3 797,769.7 798,770.1 799,770.2 800,771.0 801,769.2 802,769.6 803,770.2 804,772.5 805,771.3 806,770.0 807,771.2 808,772.3 809,770.5 810,770.4 811,771.7 812,771.2 813,771.3 814,770.5 815,772.4 816,771.0 817,771.4 818,771.5 819,769.5 820,771.6 821,771.0 822,771.5 823,771.7 824,771.0 825,770.0 826,771.6 827,770.8 828,771.1 829,770.9 830,771.2 831,769.7 832,772.5 833,771.8 834,772.5 835,773.2 836,771.7 837,770.3 838,771.1 839,770.9 840,771.5 841,771.9 842,770.4 843,772.2 844,770.8 845,772.3 846,772.0 847,771.9 848,772.1 849,771.7 850,771.7 851,770.9 852,772.2 853,773.7 854,773.8 855,773.4 856,772.9 857,771.9 858,771.7 859,772.4 860,772.4 861,772.3 862,772.6 863,772.2 864,772.5 865,771.8 866,772.3 867,774.4 868,772.6 869,772.5 870,773.1 871,773.3 872,771.9 873,772.6 874,773.5 875,773.0 876,771.7 877,774.0 878,772.3 879,772.9 880,772.4 881,774.0 882,771.3 883,772.3 884,772.5 885,773.4 886,773.3 887,774.0 888,771.7 889,773.5 890,772.7 891,772.4 892,773.3 893,772.2 894,771.3 895,772.6 896,771.7 897,772.4 898,773.2 899,773.1 900,774.1 901,772.7 902,771.7 903,772.3 904,772.1 905,771.9 906,773.1 907,772.3 908,771.2 909,773.3 910,772.6 911,773.1 912,772.7 913,773.1 914,772.5 915,773.4 916,772.7 917,772.6 918,772.5 919,770.8 920,771.7 921,771.4 922,771.6 923,770.0 924,772.2 925,770.6 926,769.1 927,768.2 928,769.0 929,768.7 930,767.6 931,768.3 932,767.0 933,767.9 934,766.8 935,767.6 936,768.9 937,770.8 938,768.0 939,769.0 940,769.2 941,771.0 942,769.8 943,770.7 944,771.4 945,770.9 946,771.2 947,771.8 948,770.6 949,771.3 950,772.3 951,772.9 952,772.7 953,771.5 954,772.7 955,773.7 956,773.6 957,773.2 958,772.6 959,773.8 960,772.9 961,772.5 962,772.9 963,774.7 964,773.8 965,774.5 966,773.3 967,774.5 968,773.3 969,773.7 970,775.8 971,774.5 972,773.6 973,774.0 974,774.4 975,775.1 976,773.9 977,773.0 978,774.1 979,774.4 980,774.5 981,775.5 982,774.8 983,775.2 984,773.9 985,775.4 986,776.3 987,775.4 988,775.1 989,775.1 990,776.3 991,774.4 992,775.0 993,775.5 994,775.7 995,774.9 996,775.5 997,775.1 998,775.5 999,775.3 1000,774.6 1001,775.5 1002,777.0 1003,774.9 1004,775.4 1005,776.1 1006,775.1 1007,775.8 1008,774.9 1009,776.5 1010,777.3 1011,777.1 1012,775.5 1013,776.2 1014,775.8 1015,775.8 1016,776.8 1017,774.8 1018,776.5 1019,775.7 1020,776.7 1021,775.9 1022,775.2 1023,775.9 1024,776.2 1025,775.7 1026,776.1 1027,775.4 1028,774.2 1029,776.4 1030,776.7 1031,775.8 1032,775.8 1033,776.5 1034,775.4 1035,775.2 1036,775.6 1037,776.6 1038,774.7 1039,776.6 1040,775.3 1041,775.0 1042,776.6 1043,775.5 1044,774.8 1045,775.5 1046,776.4 1047,776.6 1048,775.4 1049,776.0 1050,776.2 1051,775.3 1052,776.0 1053,775.7 1054,775.3 1055,775.4 1056,775.8 1057,775.7 1058,775.3 1059,775.4 1060,776.5 1061,775.9 1062,775.1 1063,776.6 1064,776.1 1065,777.3 1066,775.1 1067,776.3 1068,775.5 1069,777.0 1070,776.9 1071,774.3 1072,775.0 1073,776.2 1074,776.2 1075,776.2 1076,775.6 1077,776.0 1078,776.1 1079,775.9 1080,776.4 1081,774.0 1082,776.1 1083,774.9 1084,776.3 1085,775.4 1086,775.0 1087,775.9 1088,774.9 1089,774.9 1090,774.4 1091,775.5 1092,775.9 1093,776.3 1094,775.4 1095,776.3 1096,775.5 1097,775.4 1098,775.9 1099,776.2 1100,775.1 1101,775.2 1102,775.2 1103,775.4 1104,774.6 1105,776.0 1106,774.9 1107,775.5 1108,774.5 1109,775.3 1110,775.3 1111,774.6 1112,776.3 1113,775.0 1114,776.0 1115,775.2 1116,773.8 1117,773.8 1118,774.2 1119,773.7 1120,773.4 1121,772.7 1122,771.0 1123,771.9 1124,769.6 1125,771.3 1126,769.7 1127,769.1 1128,768.9 1129,768.8 1130,766.7 1131,766.2 1132,766.9 1133,766.3 1134,767.8 1135,770.7 1136,768.9 1137,771.1 1138,770.0 1139,772.0 1140,772.0 1141,772.7 1142,773.6 1143,775.0 1144,774.0 1145,774.2 1146,773.6 1147,775.0 1148,774.5 1149,775.5 1150,774.9 1151,776.4 1152,773.6 1153,775.0 1154,776.0 1155,775.1 1156,774.9 1157,775.3 1158,774.5 1159,775.7 1160,777.5 1161,776.6 1162,774.9 1163,775.1 1164,775.5 1165,776.6 1166,775.3 1167,775.4 1168,776.6 1169,776.6 1170,775.0 1171,775.2 1172,774.9 1173,775.6 1174,774.4 1175,776.7 1176,775.7 1177,777.4 1178,777.6 1179,777.1 1180,775.4 1181,776.9 1182,777.1 1183,775.7 1184,776.2 1185,776.2 1186,775.1 1187,778.7 1188,774.6 1189,775.5 1190,776.2 1191,776.2 1192,776.5 1193,776.6 1194,776.3 1195,777.3 1196,774.9 1197,775.8 1198,776.0 1199,776.6 1200,776.7 1201,775.9 1202,776.1 1203,777.2 1204,776.8 1205,776.1 1206,778.1 1207,778.6 1208,775.5 1209,776.9 1210,778.5 1211,777.2 1212,776.8 1213,776.5 1214,776.3 1215,776.5 1216,776.3 1217,777.3 1218,776.4 1219,776.4 1220,775.9 1221,776.7 1222,776.1 1223,776.6 1224,777.6 1225,777.1 1226,777.2 1227,777.1 1228,776.8 1229,776.7 1230,776.6 1231,777.4 1232,776.0 1233,777.8 1234,776.8 1235,776.3 1236,776.5 1237,776.3 1238,776.9 1239,776.3 1240,777.7 1241,776.2 1242,775.1 1243,776.2 1244,775.2 1245,776.7 1246,777.5 1247,777.2 1248,775.6 1249,776.0 1250,777.9 1251,776.7 1252,776.4 1253,777.1 1254,778.1 1255,777.1 1256,776.0 1257,776.0 1258,776.0 1259,774.7 1260,774.0 1261,774.5 1262,773.2 1263,773.5 1264,773.1 1265,774.5 1266,771.2 1267,771.5 1268,771.3 1269,771.9 1270,772.7 1271,771.8 1272,772.0 1273,771.9 1274,773.1 1275,774.9 1276,774.9 1277,774.4 1278,775.3 1279,775.9 1280,776.6 1281,775.9 1282,776.3 1283,775.3 1284,775.5 1285,778.2 1286,775.4 1287,776.9 1288,777.4 1289,777.0 1290,776.7 1291,777.3 1292,778.2 1293,777.4 1294,776.1 1295,777.5 1296,777.0 1297,777.2 1298,777.9 1299,778.2 1300,778.4 1301,777.4 1302,778.5 1303,778.7 1304,778.7 1305,778.9 1306,777.8 1307,777.8 1308,778.6 1309,777.0 1310,778.1 1311,777.6 1312,777.8 1313,776.8 1314,777.4 1315,778.1 1316,778.8 1317,778.9 1318,778.1 1319,778.0 1320,777.5 1321,778.5 1322,778.0 1323,778.7 1324,779.5 1325,778.2 1326,777.1 1327,777.6 1328,777.2 1329,777.4 1330,779.2 1331,778.5 1332,777.2 1333,778.8 1334,779.3 1335,778.1 1336,777.8 1337,778.1 1338,778.0 1339,778.8 1340,779.2 1341,779.3 1342,779.2 1343,779.4 1344,778.8 1345,777.2 1346,778.2 1347,778.6 1348,778.0 1349,779.0 1350,778.0 1351,777.6 1352,779.4 1353,778.7 1354,778.4 1355,778.9 1356,779.0 1357,778.4 1358,776.2 1359,777.5 1360,777.6 1361,777.1 1362,777.9 1363,778.5 1364,777.1 1365,776.4 1366,778.7 1367,776.5 1368,775.6 1369,776.4 1370,776.2 1371,774.9 1372,775.7 1373,774.1 1374,773.2 1375,773.8 1376,773.9 1377,772.4 1378,773.2 1379,772.9 1380,775.8 1381,773.0 1382,775.4 1383,774.6 1384,775.1 1385,776.3 1386,776.8 1387,777.5 1388,777.1 1389,776.6 1390,777.0 1391,778.0 1392,778.3 1393,779.1 1394,778.4 1395,779.1 1396,779.5 1397,778.6 1398,777.4 1399,777.7 1400,777.6 1401,780.0 1402,778.2 1403,779.8 1404,779.4 1405,780.2 1406,779.7 1407,779.0 1408,778.9 1409,779.2 1410,779.3 1411,778.7 1412,779.2 1413,780.4 1414,778.0 1415,779.5 1416,778.6 1417,779.5 1418,780.0 1419,779.3 1420,779.9 1421,778.2 1422,780.2 1423,779.0 1424,779.9 1425,779.6 1426,777.6 1427,778.9 1428,779.7 1429,780.7 1430,779.8 1431,779.8 1432,778.5 1433,780.6 1434,780.9 1435,779.6 1436,779.5 1437,778.5 1438,780.3 1439,781.6 1440,780.2 1441,780.6 1442,780.1 1443,779.0 1444,780.7 1445,778.8 1446,779.6 1447,780.0 1448,780.4 1449,780.1 1450,780.1 1451,779.3 1452,778.9 1453,779.9 1454,779.3 1455,778.9 1456,778.9 1457,779.5 1458,778.5 1459,778.9 1460,778.7 1461,780.0 1462,780.2 1463,781.4 1464,778.9 1465,779.5 1466,780.6 1467,779.8 1468,779.7 1469,781.2 1470,779.7 1471,779.2 1472,779.1 1473,780.3 1474,780.2 1475,779.0 1476,779.3 1477,780.4 1478,781.8 1479,779.6 1480,780.5 1481,780.5 1482,778.8 1483,779.9 1484,780.4 1485,779.7 1486,778.6 1487,779.9 1488,780.7 1489,781.3 1490,778.6 1491,782.0 1492,779.3 1493,780.8 1494,781.0 1495,780.9 1496,780.3 1497,779.3 1498,780.6 1499,779.7 1500,778.4 1501,782.2 1502,780.7 1503,781.5 1504,779.6 1505,781.3 1506,781.4 1507,780.6 1508,780.2 1509,779.4 1510,780.1 1511,778.7 1512,779.1 1513,780.3 1514,779.6 1515,780.2 1516,780.2 1517,781.7 1518,781.2 1519,782.3 1520,781.2 1521,779.8 1522,780.1 1523,781.0 1524,779.5 1525,780.1 1526,779.4 1527,780.4 1528,781.5 1529,779.8 1530,779.2 1531,779.7 1532,779.6 1533,779.5 1534,781.4 1535,782.1 1536,780.8 1537,779.9 1538,780.9 1539,780.2 1540,781.0 1541,780.6 1542,780.6 1543,780.9 1544,780.0 1545,780.2 1546,779.2 1547,780.2 1548,779.5 1549,780.4 1550,779.8 1551,780.6 1552,780.8 1553,779.5 1554,779.9 1555,779.8 1556,781.0 1557,781.7 1558,781.1 1559,780.3 1560,781.6 1561,779.5 1562,781.6 1563,780.1 1564,778.6 1565,782.4 1566,781.7 1567,779.8 1568,780.7 1569,780.4 1570,780.7 1571,779.5 1572,780.1 1573,780.9 1574,780.8 1575,781.4 1576,780.7 1577,782.3 1578,780.1 1579,780.8 1580,779.3 1581,779.7 1582,781.6 1583,780.0 1584,781.0 1585,780.6 1586,779.9 1587,780.4 1588,780.3 1589,780.3 1590,780.9 1591,781.1 1592,780.3 1593,780.0 1594,780.9 1595,780.6 1596,781.4 1597,782.6 1598,781.3 1599,780.7 1600,780.6 1601,780.1 1602,780.1 1603,780.0 1604,780.4 1605,780.4 1606,781.2 1607,780.4 1608,780.6 1609,779.9 1610,781.9 1611,781.1 1612,782.0 1613,781.3 1614,781.8 1615,780.6 1616,781.2 1617,782.6 1618,779.9 1619,781.6 1620,781.9 1621,781.1 1622,781.3 1623,781.7 1624,780.3 1625,781.1 1626,780.1 1627,780.3 1628,780.3 1629,780.7 1630,780.9 1631,781.1 1632,781.2 1633,782.2 1634,781.6 1635,781.5 1636,780.5 1637,780.7 1638,781.2 1639,781.1 1640,779.6 1641,781.3 1642,782.9 1643,779.5 1644,781.5 1645,781.1 1646,780.7 1647,781.4 1648,780.0 1649,780.9 1650,781.9"/>
<polyline fill="none" stroke="#000000" stroke-width="10" stroke-linejoin="round" points="109,1113.7 110,1114.0 111,1114.0 112,1114.7 113,1113.4 114,1114.9 115,1114.3 116,1115.7 117,1115.7 118,1116.0 119,1115.6 120,1115.0 121,1115.7 122,1116.2 123,1114.7 124,1115.6 125,1115.1 126,1116.2 127,1114.6 128,1115.0 129,1115.4 130,1115.4 131,1114.0 132,1115.5 133,1115.1 134,1115.1 135,1115.1 136,1115.4 137,1114.0 138,1116.4 139,1114.7 140,1113.7 141,1115.3 142,1116.4 143,1115.0 144,1116.4 145,1116.5 146,1114.8 147,1113.6 148,1114.5 149,1116.2 150,1114.8 151,1114.4 152,1114.5 153,1114.8 154,1115.4 155,1116.1 156,1116.2 157,1114.8 158,1115.4 159,1114.7 160,1115.6 161,1114.7 162,1114.7 163,1117.0 164,1115.6 165,1116.0 166,1117.4 167,1116.1 168,1115.5 169,1115.7 170,1115.1 171,1116.4 172,1115.4 173,1116.9 174,1115.4 175,1115.4 176,1115.4 177,1116.1 178,1115.8 179,1116.7 180,1115.3 181,1115.9 182,1117.1 183,1115.6 184,1116.1 185,1116.9 186,1116.2 187,1115.3 188,1114.3 189,1117.5 190,1116.1 191,1116.7 192,1115.5 193,1117.1 194,1116.2 195,1115.9 196,1115.2 197,1116.1 198,1115.5 199,1115.7 200,1114.8 201,1115.6 202,1116.0 203,1115.0 204,1116.0 205,1116.4 206,1115.7 207,1115.5 208,1114.2 209,1116.6 210,1114.9 211,1115.8 212,1115.7 213,1116.1 214,1116.0 215,1115.2 216,1117.5 217,1116.2 218,1115.1 219,1115.4 220,1116.1 221,1116.5 222,1115.1 223,1116.6 224,1115.1 225,1115.5 226,1116.7 227,1117.3 228,1116.0 229,1115.9 230,1117.0 231,1115.4 232,1116.3 233,1116.3 234,1116.8 235,1116.4 236,1116.0 237,1116.6 238,1115.4 239,1116.7 240,1115.7 241,1115.5 242,1115.9 243,1116.2 244,1116.7 245,1116.0 246,1116.7 247,1116.9 248,1116.1 249,1115.5 250,1116.9 251,1116.4 252,1114.7 253,1115.5 254,1116.3 255,1115.3 256,1115.8 257,1115.0 258,1116.5 259,1116.4 260,1116.4 261,1117.3 262,1116.0 263,1116.1 264,1117.7 265,1115.4 266,1116.8 267,1115.4 268,1116.4 269,1117.8 270,1116.5 271,1115.7 272,1118.0 273,1115.9 274,1116.1 275,1116.5 276,1115.4 277,1117.1 278,1117.4 279,1116.8 280,1116.5 281,1116.2 282,1116.9 283,1114.1 284,1116.2 285,1116.5 286,1114.9 287,1116.6 288,1116.2 289,1116.3 290,1116.4 291,1116.7 292,1116.6 293,1115.6 294,1116.2 295,1116.2 296,1116.3 297,1115.9 298,1117.0 299,1117.2 300,1117.4 301,1117.6 302,1117.3 303,1116.0 304,1115.9 305,1116.0 306,1116.7 307,1116.2 308,1117.0 309,1117.4 310,1116.0 311,1117.0 312,1116.0 313,1115.4 314,1115.4 315,1116.1 316,1114.9 317,1116.6 318,1117.3 319,1115.5 320,1116.0 321,1117.3 322,1116.5 323,1116.4 324,1116.1 325,1117.0 326,1116.5 327,1115.5 328,1114.6 329,1114.4 330,1116.7 331,1116.1 332,1117.3 333,1116.6 334,1115.4 335,1116.4 336,1117.1 337,1115.6 338,1115.9 339,1117.5 340,1115.0 341,1115.5 342,1117.0 343,1116.4 344,1115.4 345,1115.2 346,1116.5 347,1117.1 348,1116.8 349,1116.5 350,1117.3 351,1116.4 352,1115.6 353,1117.6 354,1115.3 355,1116.1 356,1116.1 357,1117.2 358,1115.7 359,1116.0 360,1114.9 361,1116.4 362,1116.5 363,1116.6 364,1115.5 365,1116.3 366,1115.6 367,1115.8 368,1116.1 369,1117.1 370,1115.9 371,1116.3 372,1115.6 373,1115.8 374,1115.7 375,1116.0 376,1116.7 377,1115.4 378,1116.6 379,1115.5 380,1116.4 381,1115.7 382,1115.9 383,1115.8 384,1116.9 385,1116.3 386,1116.9 387,1115.8 388,1115.9 389,1117.2 390,1114.9 391,1115.5 392,1115.9 393,1117.3 394,1115.6 395,1116.6 396,1117.2 397,1115.9 398,1115.9 399,1117.0 400,1115.7 401,1115.3 402,1116.6 403,1115.7 404,1116.9 405,1116.4 406,1114.8 407,1116.2 408,1116.0 409,1115.5 410,1116.8 411,1114.7 412,1115.1 413,1115.6 414,1116.5 415,1114.9 416,1115.5 417,1115.5 418,1114.9 419,1115.7 420,1115.1 421,1115.6 422,1116.1 423,1115.3 424,1115.3 425,1115.2 426,1115.3 427,1114.8 428,1115.1 429,1116.0 430,1115.2 431,1118.2 432,1115.3 433,1116.2 434,1114.8 435,1115.6 436,1115.4 437,1115.8 438,1116.8 439,1115.7 440,1115.0 441,1115.9 442,1115.1 443,1115.7 444,1116.9 445,1116.4 446,1116.5 447,1116.1 448,1115.7 449,1114.7 450,1115.4 451,1115.4 452,1116.2 453,1116.4 454,1116.0 455,1115.1 456,1117.0 457,1116.7 458,1115.5 459,1115.8 460,1116.1 461,1115.7 462,1115.6 463,1116.0 464,1115.6 465,1115.7 466,1114.5 467,1112.9 468,1116.8 469,1114.5 470,1115.9 471,1115.8 472,1115.7 473,1115.0 474,1116.2 475,1115.7 476,1115.2 477,1114.5 478,1115.3 479,1115.0 480,1114.5 481,1115.7 482,1115.8 483,1115.9 484,1115.4 485,1115.1 486,1116.1 487,1115.8 488,1116.9 489,1115.7 490,1114.6 491,1115.9 492,1116.8 493,1115.4 494,1115.0 495,1114.7 496,1116.5 497,1115.0 498,1114.9 499,1115.3 500,1114.0 501,1114.8 502,1114.1 503,1114.8 504,1115.3 505,1115.5 506,1114.6 507,1115.4 508,1114.5 509,1113.6 510,1115.1 511,1114.5 512,1114.7 513,1112.7 514,1114.7 515,1114.7 516,1114.6 517,1115.1 518,1114.1 519,1115.8 520,1114.7 521,1114.5 522,1112.3 523,1112.6 524,1115.0 525,1114.2 526,1114.5 527,1113.5 528,1113.6 529,1114.0 530,1113.0 531,1114.4 532,1112.6 533,1113.5 534,1113.0 535,1113.4 536,1113.9 537,1112.1 538,1113.1 539,1112.8 540,1113.2 541,1111.9 542,1112.0 543,1112.6 544,1113.0 545,1112.5 546,1111.8 547,1111.9 548,1110.2 549,1110.8 550,1110.8 551,1110.3 552,1109.9 553,1110.1 554,1110.2 555,1111.0 556,1108.7 557,1108.2 558,1109.2 559,1108.1 560,1106.8 561,1108.1 562,1106.2 563,1105.4 564,1104.5 565,1103.4 566,1103.3 567,1101.4 568,1102.9 569,1099.9 570,1097.9 571,1094.2 572,1094.6 573,1092.9 574,1089.6 575,1085.3 576,1082.4 577,1076.9 578,1074.8 579,1068.4 580,1061.4 581,1054.0 582,1044.7 583,1036.0 584,1027.7 585,1017.4 586,1009.9 587,1003.5 588,1000.6 589,1001.4 590,1006.4 591,1011.8 592,1021.5 593,1029.3 594,1038.2 595,1047.5 596,1057.0 597,1062.9 598,1070.5 599,1073.7 600,1079.5 601,1082.1 602,1087.4 603,1088.7 604,1092.1 605,1093.2 606,1094.9 607,1097.2 608,1097.0 609,1098.5 610,1101.6 611,1100.6 612,1102.6 613,1102.0 614,1101.9 615,1103.3 616,1104.6 617,1104.3 618,1104.3 619,1105.4 620,1104.3 621,1105.4 622,1105.1 623,1104.1 624,1105.4 625,1105.4 626,1104.1 627,1104.0 628,1103.2 629,1102.0 630,1102.8 631,1100.6 632,1100.7 633,1098.0 634,1096.7 635,1096.0 636,1093.2 637,1091.4 638,1085.6 639,1080.4 640,1073.2 641,1063.3 642,1052.3 643,1036.8 644,1017.2 645,996.3 646,984.7 647,982.7 648,993.1 649,1009.8 650,1031.3 651,1047.7 652,1059.5 653,1069.3 654,1077.6 655,1083.0 656,1085.4 657,1085.6 658,1090.6 659,1091.6 660,1093.0 661,1092.6 662,1092.5 663,1093.7 664,1092.7 665,1092.5 666,1091.9 667,1090.5 668,1087.8 669,1087.7 670,1084.7 671,1082.4 672,1079.8 673,1074.4 674,1071.0 675,1064.1 676,1058.8 677,1051.9 678,1042.2 679,1031.1 680,1019.2 681,1003.4 682,985.6 683,971.6 684,953.6 685,939.8 686,928.4 687,925.4 688,929.6 689,939.0 690,956.4 691,973.6 692,993.6 693,1005.7 694,1022.4 695,1034.8 696,1045.7 697,1054.7 698,1062.8 699,1069.9 700,1073.0 701,1079.9 702,1082.8 703,1085.5 704,1087.6 705,1090.1 706,1093.7 707,1094.7 708,1096.4 709,1098.3 710,1100.0 711,1100.8 712,1101.3 713,1102.6 714,1103.7 715,1103.8 716,1106.0 717,1106.9 718,1107.5 719,1106.8 720,1107.2 721,1107.2 722,1109.3 723,1108.3 724,1110.6 725,1107.9 726,1109.8 727,1110.3 728,1110.2 729,1110.8 730,1112.1 731,1110.8 732,1111.7 733,1110.9 734,1110.5 735,1110.8 736,1112.3 737,1112.1 738,1111.0 739,1112.4 740,1112.7 741,1112.7 742,1113.3 743,1111.6 744,1112.0 745,1112.0 746,1113.0 747,1113.9 748,1112.8 749,1113.4 750,1113.9 751,1113.0 752,1114.0 753,1113.4 754,1114.8 755,1114.6 756,1113.3 757,1113.3 758,1115.1 759,1113.2 760,1114.7 761,1113.6 762,1113.1 763,1115.2 764,1114.3 765,1113.3 766,1114.3 767,1113.6 768,1113.5 769,1114.1 770,1115.0 771,1113.3 772,1114.7 773,1113.3 774,1114.3 775,1113.4 776,1113.5 777,1113.9 778,1115.2 779,1115.1 780,1114.4 781,1114.3 782,1114.6 783,1116.6 784,1114.8 785,1114.5 786,1114.3 787,1114.4 788,1115.1 789,1115.1 790,1113.0 791,1116.3 792,1115.1 793,1114.8 794,1116.7 795,1113.8 796,1114.0 797,1115.7 798,1115.0 799,1115.6 800,1117.6 801,1116.3 802,1115.5 803,1114.7 804,1113.9 805,1117.7 806,1113.9 807,1115.3 808,1114.7 809,1115.6 810,1115.8 811,1115.3 812,1114.4 813,1115.5 814,1114.9 815,1115.7 816,1115.2 817,1117.2 818,1115.2 819,1114.2 820,1115.0 821,1115.7 822,1117.6 823,1116.7 824,1115.1 825,1115.8 826,1114.9 827,1114.8 828,1116.5 829,1116.2 830,1115.4 831,1115.4 832,1116.3 833,1116.5 834,1115.4 835,1114.8 836,1116.7 837,1115.6 838,1114.8 839,1116.0 840,1116.3 841,1116.9 842,1115.9 843,1116.4 844,1115.4 845,1116.6 846,1115.2 847,1116.7 848,1116.4 849,1115.3 850,1115.9 851,1117.6 852,1115.6 853,1115.2 854,1116.2 855,1116.6 856,1117.0 857,1116.4 858,1116.1 859,1116.3 860,1117.0 861,1116.4 862,1116.9 863,1115.2 864,1116.3 865,1116.4 866,1117.2 867,1116.8 868,1116.7 869,1117.3 870,1116.6 871,1118.7 872,1115.8 873,1116.6 874,1117.8 875,1117.0 876,1116.7 877,1116.3 878,1116.1 879,1116.5 880,1116.5 881,1117.7 882,1116.6 883,1117.8 884,1116.3 885,1116.5 886,1115.0 887,1116.7 888,1114.8 889,1116.6 890,1116.8 891,1116.4 892,1115.3 893,1115.8 894,1114.0 895,1115.4 896,1116.0 897,1115.9 898,1115.4 899,1116.5 900,1115.7 901,1115.4 902,1115.4 903,1114.4 904,1114.9 905,1113.5 906,1112.8 907,1114.4 908,1115.1 909,1113.4 910,1114.3 911,1112.5 912,1113.5 913,1113.2 914,1112.8 915,1111.4 916,1112.4 917,1112.0 918,1111.3 919,1111.9 920,1109.2 921,1108.7 922,1108.4 923,1105.5 924,1104.1 925,1103.9 926,1100.8 927,1098.2 928,1096.6 929,1092.1 930,1090.0 931,1085.5 932,1082.4 933,1077.3 934,1077.4 935,1076.0 936,1075.4 937,1076.2 938,1079.4 939,1083.6 940,1086.5 941,1088.7 942,1092.8 943,1095.5 944,1098.8 945,1100.1 946,1104.0 947,1104.0 948,1105.3 949,1107.6 950,1109.7 951,1108.2 952,1110.3 953,1111.4 954,1113.6 955,1111.0 956,1113.4 957,1112.5 958,1113.1 959,1114.4 960,1114.0 961,1113.2 962,1114.3 963,1114.4 964,1115.0 965,1114.3 966,1114.7 967,1115.1 968,1115.5 969,1115.4 970,1116.0 971,1116.2 972,1116.1 973,1115.5 974,1114.9 975,1115.5 976,1115.7 977,1116.1 978,1116.9 979,1116.3 980,1115.7 981,1115.5 982,1116.4 983,1116.3 984,1115.8 985,1115.4 986,1116.4 987,1116.9 988,1116.8 989,1115.7 990,1116.4 991,1116.6 992,1116.1 993,1116.8 994,1116.4 995,1117.5 996,1116.4 997,1118.0 998,1117.6 999,1117.2 1000,1117.1 1001,1118.0 1002,1116.8 1003,1117.3 1004,1116.9 1005,1118.1 1006,1116.8 1007,1116.9 1008,1115.2 1009,1117.2 1010,1116.8 1011,1117.5 1012,1116.0 1013,1116.4 1014,1118.0 1015,1116.5 1016,1117.2 1017,1117.7 1018,1117.1 1019,1117.1 1020,1117.9 1021,1116.6 1022,1117.4 1023,1116.8 1024,1116.2 1025,1117.0 1026,1117.9 1027,1116.9 1028,1116.5 1029,1116.9 1030,1116.7 1031,1117.4 1032,1116.3 1033,1117.6 1034,1117.3 1035,1117.9 1036,1116.7 1037,1117.7 1038,1116.3 1039,1117.4 1040,1116.8 1041,1116.2 1042,1117.5 1043,1118.0 1044,1118.2 1045,1116.9 1046,1116.8 1047,1118.0 1048,1116.3 1049,1117.1 1050,1115.9 1051,1117.1 1052,1117.1 1053,1116.7 1054,1117.7 1055,1116.9 1056,1117.3 1057,1117.3 1058,1116.8 1059,1115.1 1060,1116.6 1061,1117.0 1062,1116.2 1063,1116.9 1064,1115.8 1065,1117.3 1066,1117.3 1067,1117.1 1068,1116.5 1069,1117.0 1070,1115.9 1071,1116.2 1072,1117.1 1073,1116.3 1074,1116.5 1075,1116.7 1076,1117.4 1077,1116.2 1078,1116.2 1079,1116.1 1080,1115.4 1081,1116.6 1082,1115.0 1083,1115.8 1084,1117.3 1085,1116.3 1086,1114.7 1087,1115.5 1088,1117.4 1089,1115.7 1090,1117.4 1091,1115.6 1092,1114.1 1093,1116.0 1094,1115.5 1095,1115.8 1096,1114.7 1097,1114.6 1098,1114.8 1099,1114.3 1100,1115.5 1101,1115.6 1102,1114.4 1103,1115.0 1104,1113.6 1105,1113.6 1106,1112.4 1107,1114.2 1108,1112.5 1109,1112.5 1110,1113.0 1111,1111.9 1112,1111.1 1113,1109.5 1114,1110.2 1115,1109.2 1116,1108.5 1117,1106.8 1118,1104.2 1119,1102.7 1120,1102.4 1121,1100.8 1122,1096.8 1123,1094.0 1124,1090.9 1125,1087.0 1126,1082.8 1127,1077.7 1128,1073.4 1129,1068.2 1130,1064.9 1131,1063.1 1132,1061.6 1133,1060.9 1134,1066.1 1135,1067.8 1136,1072.7 1137,1077.1 1138,1082.9 1139,1087.5 1140,1090.5 1141,1093.5 1142,1097.6 1143,1100.0 1144,1100.7 1145,1104.6 1146,1107.8 1147,1106.7 1148,1108.0 1149,1109.0 1150,1109.7 1151,1111.1 1152,1110.9 1153,1111.9 1154,1112.7 1155,1111.9 1156,1113.1 1157,1113.0 1158,1113.9 1159,1114.2 1160,1114.7 1161,1115.1 1162,1114.5 1163,1115.7 1164,1114.2 1165,1116.5 1166,1116.0 1167,1116.7 1168,1114.9 1169,1117.4 1170,1116.4 1171,1116.9 1172,1116.9 1173,1116.8 1174,1116.6 1175,1115.6 1176,1118.0 1177,1118.5 1178,1116.9 1179,1118.3 1180,1118.1 1181,1117.7 1182,1117.5 1183,1118.0 1184,1117.2 1185,1117.5 1186,1117.4 1187,1117.3 1188,1117.5 1189,1118.3 1190,1118.4 1191,1117.4 1192,1117.9 1193,1117.9 1194,1116.8 1195,1118.8 1196,1117.3 1197,1118.9 1198,1116.5 1199,1117.6 1200,1118.7 1201,1118.5 1202,1118.5 1203,1118.2 1204,1119.6 1205,1118.3 1206,1118.5 1207,1117.7 1208,1117.7 1209,1119.2 1210,1119.2 1211,1117.0 1212,1117.8 1213,1119.1 1214,1118.3 1215,1118.9 1216,1116.9 1217,1118.3 1218,1118.2 1219,1118.2 1220,1117.6 1221,1118.0 1222,1119.3 1223,1117.2 1224,1117.9 1225,1117.7 1226,1117.7 1227,1119.1 1228,1118.9 1229,1117.4 1230,1118.0 1231,1117.0 1232,1117.7 1233,1117.1 1234,1118.4 1235,1117.5 1236,1116.3 1237,1115.7 1238,1116.0 1239,1118.2 1240,1115.8 1241,1115.3 1242,1115.6 1243,1115.5 1244,1116.1 1245,1114.8 1246,1116.2 1247,1114.7 1248,1114.5 1249,1114.8 1250,1113.4 1251,1112.9 1252,1112.4 1253,1110.6 1254,1109.8 1255,1109.6 1256,1107.2 1257,1105.8 1258,1105.2 1259,1102.8 1260,1100.0 1261,1095.8 1262,1094.8 1263,1088.8 1264,1083.9 1265,1078.8 1266,1072.8 1267,1068.2 1268,1066.4 1269,1060.6 1270,1064.3 1271,1063.4 1272,1067.4 1273,1074.6 1274,1080.4 1275,1083.4 1276,1089.1 1277,1091.9 1278,1095.7 1279,1098.4 1280,1101.6 1281,1103.1 1282,1105.4 1283,1106.5 1284,1108.0 1285,1109.1 1286,1109.4 1287,1110.3 1288,1110.4 1289,1112.2 1290,1112.8 1291,1112.4 1292,1112.8 1293,1112.9 1294,1113.3 1295,1114.0 1296,1112.8 1297,1113.2 1298,1114.5 1299,1115.2 1300,1114.2 1301,1115.4 1302,1115.6 1303,1115.1 1304,1116.7 1305,1115.1 1306,1115.3 1307,1114.5 1308,1114.6 1309,1115.5 1310,1115.8 1311,1115.3 1312,1115.4 1313,1115.6 1314,1116.0 1315,1114.3 1316,1116.1 1317,1114.9 1318,1115.8 1319,1116.0 1320,1114.4 1321,1116.2 1322,1115.4 1323,1114.9 1324,1116.5 1325,1114.3 1326,1114.0 1327,1115.1 1328,1115.2 1329,1114.6 1330,1115.1 1331,1112.8 1332,1115.1 1333,1114.3 1334,1113.2 1335,1112.9 1336,1113.9 1337,1113.6 1338,1112.6 1339,1112.9 1340,1113.0 1341,1113.1 1342,1111.3 1343,1112.5 1344,1111.6 1345,1111.3 1346,1111.5 1347,1110.6 1348,1109.8 1349,1109.6 1350,1111.6 1351,1109.6 1352,1111.7 1353,1110.5 1354,1111.9 1355,1110.5 1356,1111.5 1357,1111.4 1358,1111.9 1359,1110.9 1360,1111.5 1361,1112.1 1362,1108.7 1363,1111.2 1364,1109.2 1365,1110.3 1366,1108.7 1367,1109.3 1368,1107.1 1369,1105.8 1370,1105.6 1371,1103.0 1372,1101.1 1373,1099.7 1374,1097.4 1375,1093.7 1376,1087.8 1377,1085.7 1378,1081.6 1379,1078.3 1380,1075.5 1381,1073.7 1382,1073.2 1383,1076.2 1384,1077.1 1385,1080.3 1386,1083.7 1387,1088.3 1388,1092.7 1389,1095.0 1390,1098.6 1391,1099.4 1392,1100.6 1393,1103.4 1394,1102.8 1395,1104.2 1396,1101.7 1397,1102.2 1398,1102.2 1399,1100.9 1400,1100.8 1401,1099.4 1402,1098.2 1403,1096.1 1404,1095.4 1405,1095.5 1406,1097.9 1407,1097.8 1408,1100.5 1409,1101.1 1410,1102.6 1411,1105.7 1412,1107.6 1413,1106.8 1414,1109.6 1415,1111.5 1416,1111.8 1417,1112.6 1418,1114.0 1419,1114.1 1420,1114.7 1421,1113.4 1422,1115.5 1423,1115.3 1424,1117.0 1425,1114.0 1426,1116.5 1427,1117.1 1428,1116.1 1429,1117.4 1430,1116.6 1431,1117.8 1432,1118.5 1433,1117.3 1434,1119.2 1435,1117.7 1436,1116.1 1437,1117.6 1438,1118.0 1439,1118.1 1440,1118.0 1441,1118.4 1442,1118.0 1443,1119.1 1444,1118.5 1445,1118.2 1446,1119.6 1447,1117.4 1448,1117.0 1449,1117.9 1450,1116.6 1451,1118.7 1452,1118.2 1453,1119.9 1454,1117.7 1455,1117.5 1456,1118.9 1457,1118.8 1458,1118.8 1459,1117.9 1460,1117.9 1461,1118.6 1462,1118.1 1463,1118.6 1464,1118.9 1465,1117.8 1466,1118.4 1467,1116.5 1468,1118.9 1469,1118.8 1470,1117.7 1471,1117.3 1472,1117.4 1473,1117.3 1474,1117.0 1475,1116.4 1476,1116.9 1477,1117.4 1478,1114.9 1479,1115.8 1480,1113.9 1481,1115.1 1482,1115.8 1483,1114.2 1484,1115.5 1485,1116.5 1486,1116.4 1487,1116.6 1488,1116.5 1489,1117.0 1490,1116.7 1491,1117.1 1492,1117.5 1493,1118.2 1494,1118.0 1495,1118.1 1496,1116.5 1497,1117.9 1498,1117.9 1499,1117.5 1500,1117.2 1501,1118.5 1502,1117.5 1503,1117.9 1504,1117.4 1505,1118.0 1506,1117.9 1507,1118.5 1508,1119.5 1509,1118.5 1510,1117.0 1511,1118.7 1512,1118.8 1513,1117.7 1514,1117.5 1515,1118.5 1516,1119.0 1517,1118.8 1518,1119.6 1519,1118.4 1520,1118.5 1521,1117.9 1522,1119.2 1523,1118.6 1524,1118.9 1525,1116.9 1526,1117.2 1527,1118.7 1528,1118.9 1529,1118.2 1530,1118.2 1531,1118.9 1532,1117.9 1533,1118.9 1534,1117.7 1535,1118.0 1536,1119.0 1537,1117.1 1538,1117.8 1539,1116.6 1540,1118.5 1541,1118.4 1542,1120.3 1543,1117.9 1544,1118.3 1545,1118.9 1546,1118.6 1547,1117.9 1548,1118.9 1549,1115.6 1550,1118.2 1551,1117.3 1552,1117.2 1553,1116.9 1554,1117.8 1555,1116.7 1556,1117.5 1557,1118.5 1558,1116.6 1559,1117.0 1560,1116.3 1561,1115.7 1562,1116.8 1563,1117.1 1564,1115.2 1565,1115.7 1566,1115.3 1567,1114.6 1568,1115.5 1569,1113.1 1570,1115.3 1571,1113.6 1572,1115.0 1573,1113.8 1574,1113.1 1575,1111.8 1576,1112.0 1577,1113.4 1578,1112.4 1579,1113.7 1580,1112.3 1581,1114.2 1582,1113.7 1583,1114.3 1584,1113.7 1585,1114.3 1586,1115.3 1587,1115.3 1588,1114.8 1589,1115.9 1590,1115.0 1591,1117.7 1592,1116.9 1593,1116.3 1594,1116.7 1595,1116.3 1596,1117.3 1597,1115.4 1598,1117.5 1599,1118.8 1600,1116.2 1601,1117.9 1602,1117.5 1603,1117.9 1604,1117.3 1605,1118.9 1606,1117.3 1607,1119.0 1608,1119.1 1609,1118.6 1610,1118.9 1611,1117.1 1612,1118.1 1613,1117.3 1614,1119.1 1615,1119.5 1616,1117.7 1617,1118.9 1618,1118.6 1619,1117.5 1620,1118.6 1621,1118.9 1622,1119.6 1623,1118.9 1624,1119.4 1625,1120.4 1626,1119.8 1627,1118.5 1628,1119.5 1629,1120.3 1630,1121.1 1631,1119.7 1632,1120.0 1633,1119.9 1634,1120.5 1635,1120.0 1636,1120.1 1637,1118.7 1638,1119.1 1639,1118.3 1640,1118.8 1641,1119.6 1642,1120.2 1643,1120.2 1644,1119.8 1645,1121.0 1646,1118.6 1647,1119.5 1648,1120.6 1649,1119.8 1650,1119.7"/>
</g>
<g>
<line x1="589.3" y1="1176" x2="589.3" y2="1141" stroke="#000" stroke-width="15"/>
<line x1="589.3" y1="1176" x2="589.3" y2="1140.8" stroke="#000" stroke-width="13"/><circle cx="589.3" cy="1140.8" r="6.5" fill="#000"/>
<line x1="648.4" y1="1176" x2="648.4" y2="1146.3" stroke="#000" stroke-width="13"/><circle cx="648.4" cy="1146.3" r="6.5" fill="#000"/>
<line x1="688.0" y1="1176" x2="688.0" y2="1122.2" stroke="#000" stroke-width="13"/><circle cx="688.0" cy="1122.2" r="6.5" fill="#000"/>
<line x1="933.8" y1="1176" x2="933.8" y2="1159.5" stroke="#000" stroke-width="13"/><circle cx="933.8" cy="1159.5" r="6.5" fill="#000"/>
<line x1="1133.7" y1="1176" x2="1133.7" y2="1151.7" stroke="#000" stroke-width="13"/><circle cx="1133.7" cy="1151.7" r="6.5" fill="#000"/>
<line x1="1270.9" y1="1176" x2="1270.9" y2="1153.7" stroke="#000" stroke-width="13"/><circle cx="1270.9" cy="1153.7" r="6.5" fill="#000"/>
<line x1="1349.0" y1="1176" x2="1349.0" y2="1163.2" stroke="#000" stroke-width="13"/><circle cx="1349.0" cy="1163.2" r="6.5" fill="#000"/>
<line x1="1383.2" y1="1176" x2="1383.2" y2="1155.5" stroke="#000" stroke-width="13"/><circle cx="1383.2" cy="1155.5" r="6.5" fill="#000"/>
<line x1="1408.0" y1="1176" x2="1408.0" y2="1160.6" stroke="#000" stroke-width="13"/><circle cx="1408.0" cy="1160.6" r="6.5" fill="#000"/>
<line x1="1484.1" y1="1176" x2="1484.1" y2="1164.7" stroke="#000" stroke-width="13"/><circle cx="1484.1" cy="1164.7" r="6.5" fill="#000"/>
<line x1="1580.5" y1="1176" x2="1580.5" y2="1164.0" stroke="#000" stroke-width="13"/><circle cx="1580.5" cy="1164.0" r="6.5" fill="#000"/>
<line x1="520.5" y1="1176" x2="520.5" y2="1129.7" stroke="#f00" stroke-width="13"/><circle cx="520.5" cy="1129.7" r="6.5" fill="#f00"/>
<line x1="619.9" y1="1176" x2="619.9" y2="1163.2" stroke="#f00" stroke-width="13"/><circle cx="619.9" cy="1163.2" r="6.5" fill="#f00"/>
<line x1="936.0" y1="1176" x2="936.0" y2="1148.6" stroke="#f00" stroke-width="13"/><circle cx="936.0" cy="1148.6" r="6.5" fill="#f00"/>
<line x1="1131.1" y1="1176" x2="1131.1" y2="1156.3" stroke="#f00" stroke-width="13"/><circle cx="1131.1" cy="1156.3" r="6.5" fill="#f00"/>
<line x1="1191.6" y1="1176" x2="1191.6" y2="1166.2" stroke="#f00" stroke-width="13"/><circle cx="1191.6" cy="1166.2" r="6.5" fill="#f00"/>
<line x1="1418.2" y1="1176" x2="1418.2" y2="1164.7" stroke="#f00" stroke-width="13"/><circle cx="1418.2" cy="1164.7" r="6.5" fill="#f00"/>
<line x1="1578.8" y1="1176" x2="1578.8" y2="1163.2" stroke="#f00" stroke-width="13"/><circle cx="1578.8" cy="1163.2" r="6.5" fill="#f00"/>
<line x1="1630.9" y1="1176" x2="1630.9" y2="1166.5" stroke="#f00" stroke-width="13"/><circle cx="1630.9" cy="1166.5" r="6.5" fill="#f00"/>
<line x1="113.0" y1="1178" x2="113.0" y2="1198.6" stroke="#000" stroke-width="8" stroke-linecap="round"/>
<line x1="222.6" y1="1178" x2="222.6" y2="1186.9" stroke="#000" stroke-width="8" stroke-linecap="round"/>
<line x1="332.1" y1="1178" x2="332.1" y2="1198.6" stroke="#000" stroke-width="8" stroke-linecap="round"/>
<line x1="441.7" y1="1178" x2="441.7" y2="1186.9" stroke="#000" stroke-width="8" stroke-linecap="round"/>
<line x1="551.2" y1="1178" x2="551.2" y2="1198.6" stroke="#000" stroke-width="8" stroke-linecap="round"/>
<line x1="660.8" y1="1178" x2="660.8" y2="1186.9" stroke="#000" stroke-width="8" stroke-linecap="round"/>
<line x1="770.3" y1="1178" x2="770.3" y2="1198.6" stroke="#000" stroke-width="8" stroke-linecap="round"/>
<line x1="879.9" y1="1178" x2="879.9" y2="1186.9" stroke="#000" stroke-width="8" stroke-linecap="round"/>
<line x1="989.5" y1="1178" x2="989.5" y2="1198.6" stroke="#000" stroke-width="8" stroke-linecap="round"/>
<line x1="1099.0" y1="1178" x2="1099.0" y2="1186.9" stroke="#000" stroke-width="8" stroke-linecap="round"/>
<line x1="1208.6" y1="1178" x2="1208.6" y2="1198.6" stroke="#000" stroke-width="8" stroke-linecap="round"/>
<line x1="1318.1" y1="1178" x2="1318.1" y2="1186.9" stroke="#000" stroke-width="8" stroke-linecap="round"/>
<line x1="1427.7" y1="1178" x2="1427.7" y2="1198.6" stroke="#000" stroke-width="8" stroke-linecap="round"/>
<line x1="1537.2" y1="1178" x2="1537.2" y2="1186.9" stroke="#000" stroke-width="8" stroke-linecap="round"/>
<line x1="1646.8" y1="1178" x2="1646.8" y2="1198.6" stroke="#000" stroke-width="8" stroke-linecap="round"/>
</g>
<path d="M109,30H1651V1181H109Z M117,38V1172H1643V38Z" fill="#000" fill-rule="evenodd"/>
<g fill="#000">
<text x="114.4" y="1245.5" text-anchor="middle" font-size="61" textLength="58.2" lengthAdjust="spacingAndGlyphs">10</text>
<text x="332.1" y="1245.5" text-anchor="middle" font-size="61">20</text>
<text x="551.2" y="1245.5" text-anchor="middle" font-size="61">30</text>
<text x="770.3" y="1245.5" text-anchor="middle" font-size="61">40</text>
<text x="989.5" y="1245.5" text-anchor="middle" font-size="61">50</text>
<text x="1208.6" y="1245.5" text-anchor="middle" font-size="61">60</text>
<text x="1427.7" y="1245.5" text-anchor="middle" font-size="61">70</text>
<text x="1647.7" y="1245.5" text-anchor="middle" font-size="61" textLength="57.4" lengthAdjust="spacingAndGlyphs">80</text>
<text x="196.2" y="230.2" font-size="60" textLength="98.4" lengthAdjust="spacingAndGlyphs">ZnS</text>
<text x="190.1" y="320.8" font-size="60" textLength="229.3" lengthAdjust="spacingAndGlyphs">ZOS-0.95</text>
<text x="191.2" y="413.0" font-size="60" textLength="202.5" lengthAdjust="spacingAndGlyphs">ZOS-0.9</text>
<text x="198.0" y="501.8" font-size="60" textLength="199.8" lengthAdjust="spacingAndGlyphs">ZOS-0.7</text>
<text x="189.2" y="589.8" font-size="60" textLength="201.5" lengthAdjust="spacingAndGlyphs">ZOS-0.5</text>
<text x="189.2" y="677.8" font-size="60" textLength="201.5" lengthAdjust="spacingAndGlyphs">ZOS-0.3</text>
<text x="188.1" y="752.5" font-size="60" textLength="198.5" lengthAdjust="spacingAndGlyphs">ZOS-0.1</text>
<text x="212.4" y="1096.0" font-size="60" textLength="109" lengthAdjust="spacingAndGlyphs">ZnO</text>
<text x="909.3" y="1328.4" text-anchor="middle" font-size="87.5">2-Theta (degree)</text>
</g>
<g fill="#000" filter="url(#bin)">
<text transform="translate(535.8,113.4) rotate(-90)" text-anchor="middle" font-size="60">(111)</text>
<text transform="translate(956.0,139.2) rotate(-90)" text-anchor="middle" font-size="60">(220)</text>
<text transform="translate(1148.3,154.3) rotate(-90)" text-anchor="middle" font-size="60">(311)</text>
<text transform="translate(601.9,923.6) rotate(-90)" text-anchor="middle" font-size="60">(100)</text>
<text transform="translate(658.4,908.2) rotate(-90)" text-anchor="middle" font-size="60">(002)</text>
<text transform="translate(709.1,846.6) rotate(-90)" text-anchor="middle" font-size="60">(101)</text>
<text transform="translate(949.3,993.8) rotate(-90)" text-anchor="middle" font-size="60">(102)</text>
<text transform="translate(1150.1,982.3) rotate(-90)" text-anchor="middle" font-size="60">(110)</text>
<text transform="translate(1288.6,985.8) rotate(-90)" text-anchor="middle" font-size="60">(103)</text>
<text transform="translate(1401.4,993.8) rotate(-90)" text-anchor="middle" font-size="60">(112)</text>
<text transform="translate(76.5,608.9) rotate(-90)" text-anchor="middle" font-size="90">Intensity (a.u.)</text>
<text x="528.6" y="1169.3" font-size="50" fill="#f00" stroke="#f00" stroke-width="1.6" stroke-linejoin="round" font-family="Noto Serif CJK SC,serif">*</text>
<text x="947.4" y="1182.4" font-size="50" fill="#f00" stroke="#f00" stroke-width="1.6" stroke-linejoin="round" font-family="Noto Serif CJK SC,serif">*</text>
<text x="1141.0" y="1190.1" font-size="50" fill="#f00" stroke="#f00" stroke-width="1.6" stroke-linejoin="round" font-family="Noto Serif CJK SC,serif">*</text>
</g>
</svg></body></html>
